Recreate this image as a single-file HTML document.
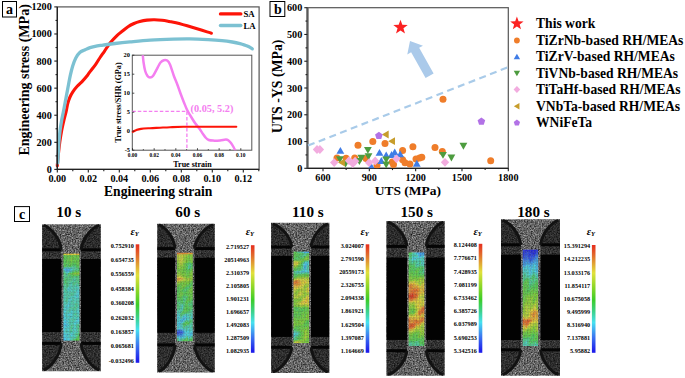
<!DOCTYPE html>
<html><head><meta charset="utf-8"><style>
html,body{margin:0;padding:0;background:#fff;}
body{width:685px;height:378px;overflow:hidden;}
svg{display:block;}
text{font-family:"Liberation Serif",serif;font-weight:bold;}
</style></head><body>
<svg width="685" height="378" viewBox="0 0 685 378">
<defs><clipPath id="cb"><rect x="307.3" y="7.7" width="201" height="160.6"/></clipPath></defs>
<rect x="2.5" y="1.5" width="14" height="15.5" fill="none" stroke="#000" stroke-width="1"/>
<text x="9.5" y="14.2" font-size="14" text-anchor="middle" fill="#000" >a</text>
<defs><clipPath id="ca"><rect x="57.3" y="6.9" width="201.8" height="162.5"/></clipPath><clipPath id="ci"><rect x="132.3" y="55.2" width="119.5" height="95"/></clipPath></defs>
<path d="M57.3,165.8 C57.35,165.17 57.4,164.13 57.6,162 C57.8,159.87 58.13,156.33 58.5,153 C58.87,149.67 59.28,145.67 59.8,142 C60.32,138.33 60.9,134.67 61.6,131 C62.3,127.33 63.25,123.22 64,120 C64.75,116.78 65.47,114.48 66.1,111.7 C66.73,108.92 67.15,105.75 67.8,103.3 C68.45,100.85 69.13,98.95 70,97 C70.87,95.05 71.8,93.38 73,91.6 C74.2,89.82 75.62,88.05 77.2,86.3 C78.78,84.55 80.95,82.73 82.5,81.1 C84.05,79.47 85.33,77.95 86.5,76.5 C87.67,75.05 87.97,74.43 89.5,72.4 C91.03,70.37 93.88,66.87 95.7,64.3 C97.52,61.73 98.95,59.17 100.4,57 C101.85,54.83 102.82,53.6 104.4,51.3 C105.98,49 107.77,45.87 109.9,43.2 C112.03,40.53 115.1,37.33 117.2,35.3 C119.3,33.27 120.7,32.43 122.5,31 C124.3,29.57 126.08,27.95 128,26.7 C129.92,25.45 132.05,24.37 134,23.5 C135.95,22.63 137.53,22.07 139.7,21.5 C141.87,20.93 144.53,20.38 147,20.1 C149.47,19.82 152,19.77 154.5,19.8 C157,19.83 159.53,20.02 162,20.3 C164.47,20.58 166.97,21.08 169.3,21.5 C171.63,21.92 172.2,21.83 176,22.8 C179.8,23.77 186.2,25.57 192.1,27.3 C198,29.03 208.18,32.22 211.4,33.2" fill="none" stroke="#fd1408" stroke-width="3.1" stroke-linecap="round" stroke-linejoin="round"/>
<path d="M57.8,163 C57.88,161.33 58.12,156.5 58.3,153 C58.48,149.5 58.62,145.67 58.9,142 C59.18,138.33 59.53,134.67 60,131 C60.47,127.33 61.13,123.22 61.7,120 C62.27,116.78 62.85,114.48 63.4,111.7 C63.95,108.92 64.47,106.12 65,103.3 C65.53,100.48 66.07,97.63 66.6,94.8 C67.13,91.97 67.58,89.53 68.2,86.3 C68.82,83.07 69.55,78.8 70.3,75.4 C71.05,72 71.78,68.82 72.7,65.9 C73.62,62.98 74.62,60.15 75.8,57.9 C76.98,55.65 78.33,53.72 79.8,52.4 C81.27,51.08 82.9,50.8 84.6,50 C86.3,49.2 87.88,48.28 90,47.6 C92.12,46.92 95.13,46.32 97.3,45.9 C99.47,45.48 100.05,45.5 103,45.1 C105.95,44.7 110.5,44.03 115,43.5 C119.5,42.97 124.13,42.47 130,41.9 C135.87,41.33 142.95,40.57 150.2,40.1 C157.45,39.63 166.87,39.3 173.5,39.1 C180.13,38.9 184.22,38.82 190,38.9 C195.78,38.98 202.87,39.32 208.2,39.6 C213.53,39.88 217.98,40.2 222,40.6 C226.02,41 229.3,41.5 232.3,42 C235.3,42.5 237.87,43.07 240,43.6 C242.13,44.13 243.6,44.67 245.1,45.2 C246.6,45.73 247.8,46.2 249,46.8 C250.2,47.4 251.75,48.47 252.3,48.8" fill="none" stroke="#7cc1d2" stroke-width="3.3" stroke-linecap="round" stroke-linejoin="round"/>
<rect x="57.3" y="6.9" width="201.8" height="162.5" fill="none" stroke="#555" stroke-width="1.2"/>
<line x1="57.3" y1="6.9" x2="57.3" y2="169.4" stroke="#222" stroke-width="1.3" />
<line x1="57.3" y1="169.4" x2="259.1" y2="169.4" stroke="#222" stroke-width="1.3" />
<line x1="54.3" y1="169.4" x2="57.3" y2="169.4" stroke="#222" stroke-width="1.1" />
<text x="51.8" y="172.9" font-size="10.2" text-anchor="end" fill="#000" >0</text>
<line x1="55.5" y1="155.86" x2="57.3" y2="155.86" stroke="#222" stroke-width="1.1" />
<line x1="54.3" y1="142.32" x2="57.3" y2="142.32" stroke="#222" stroke-width="1.1" />
<text x="51.8" y="145.82" font-size="10.2" text-anchor="end" fill="#000" >200</text>
<line x1="55.5" y1="128.78" x2="57.3" y2="128.78" stroke="#222" stroke-width="1.1" />
<line x1="54.3" y1="115.23" x2="57.3" y2="115.23" stroke="#222" stroke-width="1.1" />
<text x="51.8" y="118.73" font-size="10.2" text-anchor="end" fill="#000" >400</text>
<line x1="55.5" y1="101.69" x2="57.3" y2="101.69" stroke="#222" stroke-width="1.1" />
<line x1="54.3" y1="88.15" x2="57.3" y2="88.15" stroke="#222" stroke-width="1.1" />
<text x="51.8" y="91.65" font-size="10.2" text-anchor="end" fill="#000" >600</text>
<line x1="55.5" y1="74.61" x2="57.3" y2="74.61" stroke="#222" stroke-width="1.1" />
<line x1="54.3" y1="61.07" x2="57.3" y2="61.07" stroke="#222" stroke-width="1.1" />
<text x="51.8" y="64.57" font-size="10.2" text-anchor="end" fill="#000" >800</text>
<line x1="55.5" y1="47.53" x2="57.3" y2="47.53" stroke="#222" stroke-width="1.1" />
<line x1="54.3" y1="33.98" x2="57.3" y2="33.98" stroke="#222" stroke-width="1.1" />
<text x="51.8" y="37.48" font-size="10.2" text-anchor="end" fill="#000" >1000</text>
<line x1="55.5" y1="20.44" x2="57.3" y2="20.44" stroke="#222" stroke-width="1.1" />
<line x1="54.3" y1="6.9" x2="57.3" y2="6.9" stroke="#222" stroke-width="1.1" />
<text x="51.8" y="10.4" font-size="10.2" text-anchor="end" fill="#000" >1200</text>
<line x1="57.3" y1="169.4" x2="57.3" y2="172.4" stroke="#222" stroke-width="1.1" />
<text x="57.3" y="182.3" font-size="10.2" text-anchor="middle" fill="#000" >0.00</text>
<line x1="72.8" y1="169.4" x2="72.8" y2="171.2" stroke="#222" stroke-width="1.1" />
<line x1="88.3" y1="169.4" x2="88.3" y2="172.4" stroke="#222" stroke-width="1.1" />
<text x="88.3" y="182.3" font-size="10.2" text-anchor="middle" fill="#000" >0.02</text>
<line x1="103.8" y1="169.4" x2="103.8" y2="171.2" stroke="#222" stroke-width="1.1" />
<line x1="119.3" y1="169.4" x2="119.3" y2="172.4" stroke="#222" stroke-width="1.1" />
<text x="119.3" y="182.3" font-size="10.2" text-anchor="middle" fill="#000" >0.04</text>
<line x1="134.8" y1="169.4" x2="134.8" y2="171.2" stroke="#222" stroke-width="1.1" />
<line x1="150.3" y1="169.4" x2="150.3" y2="172.4" stroke="#222" stroke-width="1.1" />
<text x="150.3" y="182.3" font-size="10.2" text-anchor="middle" fill="#000" >0.06</text>
<line x1="165.8" y1="169.4" x2="165.8" y2="171.2" stroke="#222" stroke-width="1.1" />
<line x1="181.3" y1="169.4" x2="181.3" y2="172.4" stroke="#222" stroke-width="1.1" />
<text x="181.3" y="182.3" font-size="10.2" text-anchor="middle" fill="#000" >0.08</text>
<line x1="196.8" y1="169.4" x2="196.8" y2="171.2" stroke="#222" stroke-width="1.1" />
<line x1="212.3" y1="169.4" x2="212.3" y2="172.4" stroke="#222" stroke-width="1.1" />
<text x="212.3" y="182.3" font-size="10.2" text-anchor="middle" fill="#000" >0.10</text>
<line x1="227.8" y1="169.4" x2="227.8" y2="171.2" stroke="#222" stroke-width="1.1" />
<line x1="243.3" y1="169.4" x2="243.3" y2="172.4" stroke="#222" stroke-width="1.1" />
<text x="243.3" y="182.3" font-size="10.2" text-anchor="middle" fill="#000" >0.12</text>
<line x1="258.8" y1="169.4" x2="258.8" y2="171.2" stroke="#222" stroke-width="1.1" />
<text x="158.2" y="195.6" font-size="13.6" text-anchor="middle" fill="#000" >Engineering strain</text>
<text transform="translate(28.5,79.9) rotate(-90)" font-size="14" text-anchor="middle">Engineering stress (MPa)</text>
<line x1="220.5" y1="13.9" x2="240.8" y2="13.9" stroke="#fd1408" stroke-width="3.4" stroke-linecap="round"/>
<line x1="220.5" y1="25.5" x2="240.8" y2="25.5" stroke="#7cc1d2" stroke-width="3.4" stroke-linecap="round"/>
<text x="243.4" y="17" font-size="8.8" text-anchor="start" fill="#000" >SA</text>
<text x="243.4" y="28.6" font-size="8.8" text-anchor="start" fill="#000" >LA</text>
<rect x="132.3" y="55.2" width="119.5" height="95" fill="#fff" stroke="#555" stroke-width="1"/>
<path clip-path="url(#ci)" d="M142.6,53 C142.75,54.5 143.07,59 143.5,62 C143.93,65 144.53,68.67 145.2,71 C145.87,73.33 146.7,74.9 147.5,76 C148.3,77.1 149.08,77.6 150,77.6 C150.92,77.6 151.82,77.5 153,76 C154.18,74.5 155.85,70.85 157.1,68.6 C158.35,66.35 159.38,63.9 160.5,62.5 C161.62,61.1 162.68,60.52 163.8,60.2 C164.92,59.88 166.17,59.88 167.2,60.6 C168.23,61.32 168.9,61.98 170,64.5 C171.1,67.02 172.55,72.28 173.8,75.7 C175.05,79.12 176.3,81.82 177.5,85 C178.7,88.18 179.92,91.88 181,94.8 C182.08,97.72 183.02,100.05 184,102.5 C184.98,104.95 185.9,107.42 186.9,109.5 C187.9,111.58 188.62,112.7 190,115 C191.38,117.3 193.65,121.05 195.2,123.3 C196.75,125.55 198,126.72 199.3,128.5 C200.6,130.28 201.88,132.42 203,134 C204.12,135.58 205.03,137 206,138 C206.97,139 207.63,139.57 208.8,140 C209.97,140.43 211.13,140.53 213,140.6 C214.87,140.67 217.83,140.57 220,140.4 C222.17,140.23 224.58,139.58 226,139.6 C227.42,139.62 227.67,139.93 228.5,140.5 C229.33,141.07 230.17,141.92 231,143 C231.83,144.08 232.75,145.67 233.5,147 C234.25,148.33 235.17,150.33 235.5,151" fill="none" stroke="#f47ef0" stroke-width="2.5" stroke-linecap="round"/>
<path d="M132.8,131.8 C133.33,131.53 134.63,130.68 136,130.2 C137.37,129.72 138.67,129.23 141,128.9 C143.33,128.57 146.83,128.4 150,128.2 C153.17,128 156.67,127.87 160,127.7 C163.33,127.53 166.1,127.35 170,127.2 C173.9,127.05 176.73,126.88 183.4,126.8 C190.07,126.72 201.18,126.7 210,126.7 C218.82,126.7 231.92,126.78 236.3,126.8" fill="none" stroke="#fd1408" stroke-width="2.1" stroke-linecap="round"/>
<line x1="132.3" y1="111.4" x2="186.9" y2="111.4" stroke="#f47ef0" stroke-width="1.3" stroke-dasharray="3.5,2"/>
<line x1="186.9" y1="111.4" x2="186.9" y2="150.2" stroke="#f47ef0" stroke-width="1.3" stroke-dasharray="3.5,2"/>
<text x="190.5" y="112.3" font-size="10.3" text-anchor="start" fill="#f47ef0" >(0.05, 5.2)</text>
<line x1="132.3" y1="150.2" x2="134.3" y2="150.2" stroke="#222" stroke-width="0.8" />
<text x="130" y="152.4" font-size="6.4" text-anchor="end" fill="#000" >-5</text>
<line x1="132.3" y1="131.2" x2="134.3" y2="131.2" stroke="#222" stroke-width="0.8" />
<text x="130" y="133.4" font-size="6.4" text-anchor="end" fill="#000" >0</text>
<line x1="132.3" y1="112.2" x2="134.3" y2="112.2" stroke="#222" stroke-width="0.8" />
<text x="130" y="114.4" font-size="6.4" text-anchor="end" fill="#000" >5</text>
<line x1="132.3" y1="93.2" x2="134.3" y2="93.2" stroke="#222" stroke-width="0.8" />
<text x="130" y="95.4" font-size="6.4" text-anchor="end" fill="#000" >10</text>
<line x1="132.3" y1="74.2" x2="134.3" y2="74.2" stroke="#222" stroke-width="0.8" />
<text x="130" y="76.4" font-size="6.4" text-anchor="end" fill="#000" >15</text>
<line x1="132.3" y1="55.2" x2="134.3" y2="55.2" stroke="#222" stroke-width="0.8" />
<text x="130" y="57.4" font-size="6.4" text-anchor="end" fill="#000" >20</text>
<line x1="132.5" y1="150.2" x2="132.5" y2="148.2" stroke="#222" stroke-width="0.8" />
<text x="132.5" y="157.2" font-size="5.4" text-anchor="middle" fill="#000" >0.00</text>
<line x1="154.16" y1="150.2" x2="154.16" y2="148.2" stroke="#222" stroke-width="0.8" />
<text x="154.16" y="157.2" font-size="5.4" text-anchor="middle" fill="#000" >0.02</text>
<line x1="175.82" y1="150.2" x2="175.82" y2="148.2" stroke="#222" stroke-width="0.8" />
<text x="175.82" y="157.2" font-size="5.4" text-anchor="middle" fill="#000" >0.04</text>
<line x1="197.48" y1="150.2" x2="197.48" y2="148.2" stroke="#222" stroke-width="0.8" />
<text x="197.48" y="157.2" font-size="5.4" text-anchor="middle" fill="#000" >0.06</text>
<line x1="219.14" y1="150.2" x2="219.14" y2="148.2" stroke="#222" stroke-width="0.8" />
<text x="219.14" y="157.2" font-size="5.4" text-anchor="middle" fill="#000" >0.08</text>
<line x1="240.8" y1="150.2" x2="240.8" y2="148.2" stroke="#222" stroke-width="0.8" />
<text x="240.8" y="157.2" font-size="5.4" text-anchor="middle" fill="#000" >0.10</text>
<line x1="143.33" y1="150.2" x2="143.33" y2="149" stroke="#222" stroke-width="0.7" />
<line x1="164.99" y1="150.2" x2="164.99" y2="149" stroke="#222" stroke-width="0.7" />
<line x1="186.65" y1="150.2" x2="186.65" y2="149" stroke="#222" stroke-width="0.7" />
<line x1="208.31" y1="150.2" x2="208.31" y2="149" stroke="#222" stroke-width="0.7" />
<line x1="229.97" y1="150.2" x2="229.97" y2="149" stroke="#222" stroke-width="0.7" />
<text x="192.5" y="166.6" font-size="8" text-anchor="middle" fill="#000" >True strain</text>
<text transform="translate(121.3,102.5) rotate(-90)" font-size="8.2" text-anchor="middle">True stress/SHR (GPa)</text>
<rect x="270" y="1.5" width="14.8" height="15" fill="none" stroke="#000" stroke-width="1"/>
<text x="277.8" y="14" font-size="14" text-anchor="middle" fill="#000" >b</text>
<rect x="307.3" y="7.7" width="201" height="160.6" fill="none" stroke="#555" stroke-width="1.2"/>
<line x1="307.7" y1="7.7" x2="307.7" y2="168.3" stroke="#6a6a6a" stroke-width="2.0" />
<line x1="307" y1="7.7" x2="307" y2="168.3" stroke="#333" stroke-width="0.6" />
<line x1="307.3" y1="168.3" x2="508.3" y2="168.3" stroke="#222" stroke-width="1.3" />
<line x1="304.3" y1="168.3" x2="307.3" y2="168.3" stroke="#222" stroke-width="1.1" />
<text x="302.3" y="171.8" font-size="10.2" text-anchor="end" fill="#000" >0</text>
<line x1="305.5" y1="154.92" x2="307.3" y2="154.92" stroke="#222" stroke-width="1.1" />
<line x1="304.3" y1="141.53" x2="307.3" y2="141.53" stroke="#222" stroke-width="1.1" />
<text x="302.3" y="145.03" font-size="10.2" text-anchor="end" fill="#000" >100</text>
<line x1="305.5" y1="128.15" x2="307.3" y2="128.15" stroke="#222" stroke-width="1.1" />
<line x1="304.3" y1="114.77" x2="307.3" y2="114.77" stroke="#222" stroke-width="1.1" />
<text x="302.3" y="118.27" font-size="10.2" text-anchor="end" fill="#000" >200</text>
<line x1="305.5" y1="101.38" x2="307.3" y2="101.38" stroke="#222" stroke-width="1.1" />
<line x1="304.3" y1="88" x2="307.3" y2="88" stroke="#222" stroke-width="1.1" />
<text x="302.3" y="91.5" font-size="10.2" text-anchor="end" fill="#000" >300</text>
<line x1="305.5" y1="74.62" x2="307.3" y2="74.62" stroke="#222" stroke-width="1.1" />
<line x1="304.3" y1="61.23" x2="307.3" y2="61.23" stroke="#222" stroke-width="1.1" />
<text x="302.3" y="64.73" font-size="10.2" text-anchor="end" fill="#000" >400</text>
<line x1="305.5" y1="47.85" x2="307.3" y2="47.85" stroke="#222" stroke-width="1.1" />
<line x1="304.3" y1="34.47" x2="307.3" y2="34.47" stroke="#222" stroke-width="1.1" />
<text x="302.3" y="37.97" font-size="10.2" text-anchor="end" fill="#000" >500</text>
<line x1="305.5" y1="21.08" x2="307.3" y2="21.08" stroke="#222" stroke-width="1.1" />
<line x1="304.3" y1="7.7" x2="307.3" y2="7.7" stroke="#222" stroke-width="1.1" />
<text x="302.3" y="11.2" font-size="10.2" text-anchor="end" fill="#000" >600</text>
<line x1="323" y1="168.3" x2="323" y2="171.3" stroke="#222" stroke-width="1.1" />
<text x="323" y="181.3" font-size="10.2" text-anchor="middle" fill="#000" >600</text>
<line x1="346.16" y1="168.3" x2="346.16" y2="170.1" stroke="#222" stroke-width="1.1" />
<line x1="369.32" y1="168.3" x2="369.32" y2="171.3" stroke="#222" stroke-width="1.1" />
<text x="369.32" y="181.3" font-size="10.2" text-anchor="middle" fill="#000" >900</text>
<line x1="392.49" y1="168.3" x2="392.49" y2="170.1" stroke="#222" stroke-width="1.1" />
<line x1="415.65" y1="168.3" x2="415.65" y2="171.3" stroke="#222" stroke-width="1.1" />
<text x="415.65" y="181.3" font-size="10.2" text-anchor="middle" fill="#000" >1200</text>
<line x1="438.81" y1="168.3" x2="438.81" y2="170.1" stroke="#222" stroke-width="1.1" />
<line x1="461.98" y1="168.3" x2="461.98" y2="171.3" stroke="#222" stroke-width="1.1" />
<text x="461.98" y="181.3" font-size="10.2" text-anchor="middle" fill="#000" >1500</text>
<line x1="485.14" y1="168.3" x2="485.14" y2="170.1" stroke="#222" stroke-width="1.1" />
<line x1="508.3" y1="168.3" x2="508.3" y2="171.3" stroke="#222" stroke-width="1.1" />
<text x="508.3" y="181.3" font-size="10.2" text-anchor="middle" fill="#000" >1800</text>
<text x="407.9" y="195.3" font-size="13.5" text-anchor="middle" fill="#000" >UTS (MPa)</text>
<text transform="translate(282,86.3) rotate(-90)" font-size="13.8" text-anchor="middle">UTS -YS (MPa)</text>
<line x1="308" y1="145.6" x2="507.6" y2="67.4" stroke="#a9cbe9" stroke-width="2.2" stroke-dasharray="7,4.5"/>
<polygon points="410,40.9 422.99,45.65 419.15,47.8 433.61,73.55 425.59,78.05 411.13,52.31 407.29,54.46" fill="#abcaea"/>
<g clip-path="url(#cb)">
<circle cx="358" cy="145.2" r="3.5" fill="#ef7d2a"/>
<circle cx="372.8" cy="141.4" r="3.5" fill="#ef7d2a"/>
<circle cx="385" cy="143.5" r="3.5" fill="#ef7d2a"/>
<circle cx="412.9" cy="146.7" r="3.5" fill="#ef7d2a"/>
<circle cx="402.6" cy="150.6" r="3.5" fill="#ef7d2a"/>
<circle cx="443" cy="99.3" r="3.5" fill="#ef7d2a"/>
<circle cx="435" cy="147.5" r="3.5" fill="#ef7d2a"/>
<circle cx="442.3" cy="151.6" r="3.5" fill="#ef7d2a"/>
<circle cx="421.8" cy="157.3" r="3.5" fill="#ef7d2a"/>
<circle cx="490.7" cy="160.7" r="3.5" fill="#ef7d2a"/>
<circle cx="337" cy="157.9" r="3.5" fill="#ef7d2a"/>
<circle cx="346.1" cy="158.3" r="3.5" fill="#ef7d2a"/>
<circle cx="354.7" cy="157.9" r="3.5" fill="#ef7d2a"/>
<circle cx="366.1" cy="158.5" r="3.5" fill="#ef7d2a"/>
<circle cx="377" cy="165.2" r="3.5" fill="#ef7d2a"/>
<circle cx="392.3" cy="162.1" r="3.5" fill="#ef7d2a"/>
<circle cx="393.5" cy="164.6" r="3.5" fill="#ef7d2a"/>
<circle cx="402.6" cy="159.7" r="3.5" fill="#ef7d2a"/>
<circle cx="405" cy="162.7" r="3.5" fill="#ef7d2a"/>
<circle cx="409.9" cy="163.9" r="3.5" fill="#ef7d2a"/>
<circle cx="416" cy="159.1" r="3.5" fill="#ef7d2a"/>
<circle cx="419.6" cy="157.9" r="3.5" fill="#ef7d2a"/>
<polygon points="340.4,146.92 344.3,153.79 336.5,153.79" fill="#3f7ce6"/>
<polygon points="379.5,148.92 383.4,155.79 375.6,155.79" fill="#3f7ce6"/>
<polygon points="386.2,151.42 390.1,158.29 382.3,158.29" fill="#3f7ce6"/>
<polygon points="391.6,151.02 395.5,157.89 387.7,157.89" fill="#3f7ce6"/>
<polygon points="394.7,148.62 398.6,155.49 390.8,155.49" fill="#3f7ce6"/>
<polygon points="400.2,150.42 404.1,157.29 396.3,157.29" fill="#3f7ce6"/>
<polygon points="381.3,157.12 385.2,163.99 377.4,163.99" fill="#3f7ce6"/>
<polygon points="371.3,162.82 375.2,169.69 367.4,169.69" fill="#3f7ce6"/>
<polygon points="416.8,159.82 420.7,166.69 412.9,166.69" fill="#3f7ce6"/>
<polygon points="339.9,163.08 343.8,156.21 336,156.21" fill="#4d9c3f"/>
<polygon points="345.6,167.38 349.5,160.51 341.7,160.51" fill="#4d9c3f"/>
<polygon points="361.3,161.68 365.2,154.81 357.4,154.81" fill="#4d9c3f"/>
<polygon points="359.4,164.98 363.3,158.11 355.5,158.11" fill="#4d9c3f"/>
<polygon points="367.9,153.78 371.8,146.91 364,146.91" fill="#4d9c3f"/>
<polygon points="368.5,160.18 372.4,153.31 364.6,153.31" fill="#4d9c3f"/>
<polygon points="386.2,163.48 390.1,156.61 382.3,156.61" fill="#4d9c3f"/>
<polygon points="386.2,168.38 390.1,161.51 382.3,161.51" fill="#4d9c3f"/>
<polygon points="463.4,149.68 467.3,142.81 459.5,142.81" fill="#4d9c3f"/>
<polygon points="443,158.78 446.9,151.91 439.1,151.91" fill="#4d9c3f"/>
<polygon points="451.4,161.48 455.3,154.61 447.5,154.61" fill="#4d9c3f"/>
<polygon points="317,145.1 321.18,149.5 317,153.9 312.82,149.5" fill="#f2acdf"/>
<polygon points="319.9,145.1 324.08,149.5 319.9,153.9 315.72,149.5" fill="#f2acdf"/>
<polygon points="334.2,158.2 338.38,162.6 334.2,167 330.02,162.6" fill="#f2acdf"/>
<polygon points="349,156.3 353.18,160.7 349,165.1 344.82,160.7" fill="#f2acdf"/>
<polygon points="352.8,159.2 356.98,163.6 352.8,168 348.62,163.6" fill="#f2acdf"/>
<polygon points="355.1,156.8 359.28,161.2 355.1,165.6 350.92,161.2" fill="#f2acdf"/>
<polygon points="369.1,158.3 373.28,162.7 369.1,167.1 364.92,162.7" fill="#f2acdf"/>
<polygon points="375.2,156.5 379.38,160.9 375.2,165.3 371.02,160.9" fill="#f2acdf"/>
<polygon points="396.5,154.4 400.68,158.8 396.5,163.2 392.32,158.8" fill="#f2acdf"/>
<polygon points="445,157.9 449.18,162.3 445,166.7 440.82,162.3" fill="#f2acdf"/>
<polygon points="381.82,134.5 388.69,130.6 388.69,138.4" fill="#c79d2c"/>
<polygon points="388.12,141.2 394.99,137.3 394.99,145.1" fill="#c79d2c"/>
<polygon points="338.02,162.6 344.89,158.7 344.89,166.5" fill="#c79d2c"/>
<polygon points="378.9,131.7 382.7,134.46 381.25,138.94 376.55,138.94 375.1,134.46" fill="#b272e6"/>
<polygon points="481.4,117.4 485.2,120.16 483.75,124.64 479.05,124.64 477.6,120.16" fill="#b272e6"/>
</g>
<polygon points="400.5,19.7 402.32,24.79 407.73,24.95 403.45,28.26 404.97,33.45 400.5,30.4 396.03,33.45 397.55,28.26 393.27,24.95 398.68,24.79" fill="#fb2222"/>
<polygon points="516.9,16.6 518.6,21.25 523.56,21.44 519.66,24.5 521.01,29.26 516.9,26.5 512.79,29.26 514.14,24.5 510.24,21.44 515.2,21.25" fill="#fb2222"/>
<circle cx="516.9" cy="40.5" r="2.9" fill="#ef7d2a"/>
<polygon points="516.9,53.7 520.1,59.33 513.7,59.33" fill="#3f7ce6"/>
<polygon points="516.9,76.3 520.1,70.67 513.7,70.67" fill="#4d9c3f"/>
<polygon points="516.9,86.1 520.23,89.6 516.9,93.1 513.57,89.6" fill="#f2acdf"/>
<polygon points="513.8,106.3 519.43,103.1 519.43,109.5" fill="#c79d2c"/>
<polygon points="516.9,119.6 520.04,121.88 518.84,125.57 514.96,125.57 513.76,121.88" fill="#b272e6"/>
<text x="536" y="28" font-size="13.6" text-anchor="start" fill="#000" >This work</text>
<text x="536" y="44.9" font-size="13.6" text-anchor="start" fill="#000" >TiZrNb-based RH/MEAs</text>
<text x="536" y="61.2" font-size="13.6" text-anchor="start" fill="#000" >TiZrV-based RH/MEAs</text>
<text x="536" y="77.6" font-size="13.6" text-anchor="start" fill="#000" >TiVNb-based RH/MEAs</text>
<text x="536" y="94" font-size="13.6" text-anchor="start" fill="#000" >TiTaHf-based RH/MEAs</text>
<text x="536" y="110.7" font-size="13.6" text-anchor="start" fill="#000" >VNbTa-based RH/MEAs</text>
<text x="536" y="127.3" font-size="13.6" text-anchor="start" fill="#000" >WNiFeTa</text>
<defs>
<filter id="spk" x="0" y="0" width="685" height="378" filterUnits="userSpaceOnUse" color-interpolation-filters="sRGB"><feTurbulence type="fractalNoise" baseFrequency="0.73" numOctaves="2" seed="4" result="n"/><feColorMatrix in="n" type="matrix" values="0.85 0 0 0 -0.033  0.85 0 0 0 -0.033  0.85 0 0 0 -0.033  0 0 0 0 1" result="g"/><feGaussianBlur in="g" stdDeviation="0.4"/></filter>
</defs>
<clipPath id="cl0"><rect x="42.1" y="224.2" width="58.7" height="147"/></clipPath>
<g clip-path="url(#cl0)">
<rect x="42.1" y="224.2" width="58.7" height="147" filter="url(#spk)"/>
<path d="M42.1,224.2 L43.63,225.22 C49.77,227.27 59.81,237 61.3,249.8 L42.1,249.8 Z" fill="#000" fill-opacity="0.56"/>
<path d="M100.8,224.2 L99.24,225.22 C92.9,227.27 82.54,237 81,249.8 L100.8,249.8 Z" fill="#000" fill-opacity="0.56"/>
<path d="M61.3,343.4 C59.81,357.3 49.77,367.86 43.63,370.09 L42.1,371.2 L42.1,343.4 Z" fill="#000" fill-opacity="0.54"/>
<path d="M81,343.4 C82.54,357.3 92.9,367.86 99.24,370.09 L100.8,371.2 L100.8,343.4 Z" fill="#000" fill-opacity="0.54"/>
<rect x="42.1" y="249.8" width="19.2" height="93.6" fill="#000" fill-opacity="0.5"/>
<rect x="81" y="249.8" width="19.8" height="93.6" fill="#000" fill-opacity="0.5"/>
<rect x="42.1" y="259" width="19.2" height="73" fill="#020202"/>
<rect x="81" y="259" width="19.8" height="73" fill="#020202"/>
<rect x="42.1" y="248.3" width="19.2" height="3" fill="#050505"/>
<rect x="81" y="248.3" width="19.8" height="3" fill="#050505"/>
<rect x="42.1" y="341.9" width="19.2" height="3" fill="#050505"/>
<rect x="81" y="341.9" width="19.8" height="3" fill="#050505"/>
<path d="M43.63,225.22 C49.77,227.27 59.81,237 61.3,249.8" fill="none" stroke="#121212" stroke-width="2.9"/>
<path d="M99.24,225.22 C92.9,227.27 82.54,237 81,249.8" fill="none" stroke="#121212" stroke-width="2.9"/>
<path d="M61.3,343.4 C59.81,357.3 49.77,367.86 43.63,370.09" fill="none" stroke="#121212" stroke-width="2.9"/>
<path d="M81,343.4 C82.54,357.3 92.9,367.86 99.24,370.09" fill="none" stroke="#121212" stroke-width="2.9"/>
<g opacity="0.93"><rect x="63.5" y="253.7" width="1.49" height="1.55" fill="#dadb3b"/><rect x="64.94" y="253.7" width="1.49" height="1.55" fill="#e4db3b"/><rect x="66.37" y="253.7" width="1.49" height="1.55" fill="#e5c939"/><rect x="67.81" y="253.7" width="1.49" height="1.55" fill="#e4da3b"/><rect x="69.25" y="253.7" width="1.49" height="1.55" fill="#e4d73b"/><rect x="70.68" y="253.7" width="1.49" height="1.55" fill="#e5c638"/><rect x="72.12" y="253.7" width="1.49" height="1.55" fill="#dadb3b"/><rect x="73.55" y="253.7" width="1.49" height="1.55" fill="#e2db3b"/><rect x="74.99" y="253.7" width="1.49" height="1.55" fill="#e4d83b"/><rect x="76.43" y="253.7" width="1.49" height="1.55" fill="#e6b736"/><rect x="77.86" y="253.7" width="1.49" height="1.55" fill="#e5c839"/><rect x="63.5" y="255.2" width="1.49" height="1.55" fill="#60d14e"/><rect x="64.94" y="255.2" width="1.49" height="1.55" fill="#56d055"/><rect x="66.37" y="255.2" width="1.49" height="1.55" fill="#6bd246"/><rect x="67.81" y="255.2" width="1.49" height="1.55" fill="#6cd245"/><rect x="69.25" y="255.2" width="1.49" height="1.55" fill="#5dd150"/><rect x="70.68" y="255.2" width="1.49" height="1.55" fill="#70d243"/><rect x="72.12" y="255.2" width="1.49" height="1.55" fill="#70d243"/><rect x="73.55" y="255.2" width="1.49" height="1.55" fill="#6ad247"/><rect x="74.99" y="255.2" width="1.49" height="1.55" fill="#67d149"/><rect x="76.43" y="255.2" width="1.49" height="1.55" fill="#6cd246"/><rect x="77.86" y="255.2" width="1.49" height="1.55" fill="#72d242"/><rect x="63.5" y="256.69" width="1.49" height="1.55" fill="#62d14c"/><rect x="64.94" y="256.69" width="1.49" height="1.55" fill="#51d058"/><rect x="66.37" y="256.69" width="1.49" height="1.55" fill="#61d14d"/><rect x="67.81" y="256.69" width="1.49" height="1.55" fill="#67d149"/><rect x="69.25" y="256.69" width="1.49" height="1.55" fill="#5bd052"/><rect x="70.68" y="256.69" width="1.49" height="1.55" fill="#6cd246"/><rect x="72.12" y="256.69" width="1.49" height="1.55" fill="#6dd245"/><rect x="73.55" y="256.69" width="1.49" height="1.55" fill="#6fd244"/><rect x="74.99" y="256.69" width="1.49" height="1.55" fill="#65d14b"/><rect x="76.43" y="256.69" width="1.49" height="1.55" fill="#6cd245"/><rect x="77.86" y="256.69" width="1.49" height="1.55" fill="#74d240"/><rect x="63.5" y="258.19" width="1.49" height="1.55" fill="#5dd150"/><rect x="64.94" y="258.19" width="1.49" height="1.55" fill="#55d056"/><rect x="66.37" y="258.19" width="1.49" height="1.55" fill="#5bd051"/><rect x="67.81" y="258.19" width="1.49" height="1.55" fill="#6fd244"/><rect x="69.25" y="258.19" width="1.49" height="1.55" fill="#6cd246"/><rect x="70.68" y="258.19" width="1.49" height="1.55" fill="#7bd33b"/><rect x="72.12" y="258.19" width="1.49" height="1.55" fill="#75d240"/><rect x="73.55" y="258.19" width="1.49" height="1.55" fill="#68d148"/><rect x="74.99" y="258.19" width="1.49" height="1.55" fill="#67d149"/><rect x="76.43" y="258.19" width="1.49" height="1.55" fill="#5dd150"/><rect x="77.86" y="258.19" width="1.49" height="1.55" fill="#61d14d"/><rect x="63.5" y="259.69" width="1.49" height="1.55" fill="#5dd150"/><rect x="64.94" y="259.69" width="1.49" height="1.55" fill="#53d057"/><rect x="66.37" y="259.69" width="1.49" height="1.55" fill="#67d149"/><rect x="67.81" y="259.69" width="1.49" height="1.55" fill="#60d14e"/><rect x="69.25" y="259.69" width="1.49" height="1.55" fill="#6bd246"/><rect x="70.68" y="259.69" width="1.49" height="1.55" fill="#80d338"/><rect x="72.12" y="259.69" width="1.49" height="1.55" fill="#66d14a"/><rect x="73.55" y="259.69" width="1.49" height="1.55" fill="#60d14e"/><rect x="74.99" y="259.69" width="1.49" height="1.55" fill="#6dd245"/><rect x="76.43" y="259.69" width="1.49" height="1.55" fill="#5fd14e"/><rect x="77.86" y="259.69" width="1.49" height="1.55" fill="#6fd244"/><rect x="63.5" y="261.18" width="1.49" height="1.55" fill="#5ad052"/><rect x="64.94" y="261.18" width="1.49" height="1.55" fill="#50d05e"/><rect x="66.37" y="261.18" width="1.49" height="1.55" fill="#67d149"/><rect x="67.81" y="261.18" width="1.49" height="1.55" fill="#5fd14f"/><rect x="69.25" y="261.18" width="1.49" height="1.55" fill="#5dd150"/><rect x="70.68" y="261.18" width="1.49" height="1.55" fill="#70d243"/><rect x="72.12" y="261.18" width="1.49" height="1.55" fill="#62d14c"/><rect x="73.55" y="261.18" width="1.49" height="1.55" fill="#65d14a"/><rect x="74.99" y="261.18" width="1.49" height="1.55" fill="#65d14a"/><rect x="76.43" y="261.18" width="1.49" height="1.55" fill="#62d14c"/><rect x="77.86" y="261.18" width="1.49" height="1.55" fill="#6cd246"/><rect x="63.5" y="262.68" width="1.49" height="1.55" fill="#50d059"/><rect x="64.94" y="262.68" width="1.49" height="1.55" fill="#52d058"/><rect x="66.37" y="262.68" width="1.49" height="1.55" fill="#5fd14e"/><rect x="67.81" y="262.68" width="1.49" height="1.55" fill="#50d05b"/><rect x="69.25" y="262.68" width="1.49" height="1.55" fill="#62d14c"/><rect x="70.68" y="262.68" width="1.49" height="1.55" fill="#6ad247"/><rect x="72.12" y="262.68" width="1.49" height="1.55" fill="#52d058"/><rect x="73.55" y="262.68" width="1.49" height="1.55" fill="#59d053"/><rect x="74.99" y="262.68" width="1.49" height="1.55" fill="#54d056"/><rect x="76.43" y="262.68" width="1.49" height="1.55" fill="#66d14a"/><rect x="77.86" y="262.68" width="1.49" height="1.55" fill="#64d14b"/><rect x="63.5" y="264.18" width="1.49" height="1.55" fill="#50d059"/><rect x="64.94" y="264.18" width="1.49" height="1.55" fill="#5ed14f"/><rect x="66.37" y="264.18" width="1.49" height="1.55" fill="#50d06e"/><rect x="67.81" y="264.18" width="1.49" height="1.55" fill="#57d054"/><rect x="69.25" y="264.18" width="1.49" height="1.55" fill="#66d14a"/><rect x="70.68" y="264.18" width="1.49" height="1.55" fill="#59d053"/><rect x="72.12" y="264.18" width="1.49" height="1.55" fill="#50d059"/><rect x="73.55" y="264.18" width="1.49" height="1.55" fill="#50d06b"/><rect x="74.99" y="264.18" width="1.49" height="1.55" fill="#50d060"/><rect x="76.43" y="264.18" width="1.49" height="1.55" fill="#63d14c"/><rect x="77.86" y="264.18" width="1.49" height="1.55" fill="#63d14c"/><rect x="63.5" y="265.67" width="1.49" height="1.55" fill="#50d069"/><rect x="64.94" y="265.67" width="1.49" height="1.55" fill="#60d14e"/><rect x="66.37" y="265.67" width="1.49" height="1.55" fill="#50d07e"/><rect x="67.81" y="265.67" width="1.49" height="1.55" fill="#50d06d"/><rect x="69.25" y="265.67" width="1.49" height="1.55" fill="#56d055"/><rect x="70.68" y="265.67" width="1.49" height="1.55" fill="#50d06e"/><rect x="72.12" y="265.67" width="1.49" height="1.55" fill="#50d18a"/><rect x="73.55" y="265.67" width="1.49" height="1.55" fill="#50d185"/><rect x="74.99" y="265.67" width="1.49" height="1.55" fill="#50d07c"/><rect x="76.43" y="265.67" width="1.49" height="1.55" fill="#52d058"/><rect x="77.86" y="265.67" width="1.49" height="1.55" fill="#53d057"/><rect x="63.5" y="267.17" width="1.49" height="1.55" fill="#50d19c"/><rect x="64.94" y="267.17" width="1.49" height="1.55" fill="#4ed3bd"/><rect x="66.37" y="267.17" width="1.49" height="1.55" fill="#4ed3b9"/><rect x="67.81" y="267.17" width="1.49" height="1.55" fill="#50d1a6"/><rect x="69.25" y="267.17" width="1.49" height="1.55" fill="#4ed3b9"/><rect x="70.68" y="267.17" width="1.49" height="1.55" fill="#4fd2ab"/><rect x="72.12" y="267.17" width="1.49" height="1.55" fill="#4fd2ac"/><rect x="73.55" y="267.17" width="1.49" height="1.55" fill="#50d1a7"/><rect x="74.99" y="267.17" width="1.49" height="1.55" fill="#50d18f"/><rect x="76.43" y="267.17" width="1.49" height="1.55" fill="#50d076"/><rect x="77.86" y="267.17" width="1.49" height="1.55" fill="#50d061"/><rect x="63.5" y="268.67" width="1.49" height="1.55" fill="#49cdeb"/><rect x="64.94" y="268.67" width="1.49" height="1.55" fill="#42abeb"/><rect x="66.37" y="268.67" width="1.49" height="1.55" fill="#43b0eb"/><rect x="67.81" y="268.67" width="1.49" height="1.55" fill="#45bceb"/><rect x="69.25" y="268.67" width="1.49" height="1.55" fill="#43aeeb"/><rect x="70.68" y="268.67" width="1.49" height="1.55" fill="#4cd5d3"/><rect x="72.12" y="268.67" width="1.49" height="1.55" fill="#4ed3ba"/><rect x="73.55" y="268.67" width="1.49" height="1.55" fill="#50d19e"/><rect x="74.99" y="268.67" width="1.49" height="1.55" fill="#50d189"/><rect x="76.43" y="268.67" width="1.49" height="1.55" fill="#50d199"/><rect x="77.86" y="268.67" width="1.49" height="1.55" fill="#50d07c"/><rect x="63.5" y="270.16" width="1.49" height="1.55" fill="#4ed3ba"/><rect x="64.94" y="270.16" width="1.49" height="1.55" fill="#47c6eb"/><rect x="66.37" y="270.16" width="1.49" height="1.55" fill="#44b2eb"/><rect x="67.81" y="270.16" width="1.49" height="1.55" fill="#41a7eb"/><rect x="69.25" y="270.16" width="1.49" height="1.55" fill="#48c8eb"/><rect x="70.68" y="270.16" width="1.49" height="1.55" fill="#4cd5d3"/><rect x="72.12" y="270.16" width="1.49" height="1.55" fill="#50d1a9"/><rect x="73.55" y="270.16" width="1.49" height="1.55" fill="#50d18d"/><rect x="74.99" y="270.16" width="1.49" height="1.55" fill="#50d068"/><rect x="76.43" y="270.16" width="1.49" height="1.55" fill="#50d190"/><rect x="77.86" y="270.16" width="1.49" height="1.55" fill="#50d062"/><rect x="63.5" y="271.66" width="1.49" height="1.55" fill="#50d192"/><rect x="64.94" y="271.66" width="1.49" height="1.55" fill="#4ed3b7"/><rect x="66.37" y="271.66" width="1.49" height="1.55" fill="#4bd6e2"/><rect x="67.81" y="271.66" width="1.49" height="1.55" fill="#4cd5d4"/><rect x="69.25" y="271.66" width="1.49" height="1.55" fill="#50d194"/><rect x="70.68" y="271.66" width="1.49" height="1.55" fill="#50d18e"/><rect x="72.12" y="271.66" width="1.49" height="1.55" fill="#50d059"/><rect x="73.55" y="271.66" width="1.49" height="1.55" fill="#65d14a"/><rect x="74.99" y="271.66" width="1.49" height="1.55" fill="#70d242"/><rect x="76.43" y="271.66" width="1.49" height="1.55" fill="#68d148"/><rect x="77.86" y="271.66" width="1.49" height="1.55" fill="#77d33e"/><rect x="63.5" y="273.16" width="1.49" height="1.55" fill="#50d06b"/><rect x="64.94" y="273.16" width="1.49" height="1.55" fill="#50d18f"/><rect x="66.37" y="273.16" width="1.49" height="1.55" fill="#4ed3c3"/><rect x="67.81" y="273.16" width="1.49" height="1.55" fill="#50d076"/><rect x="69.25" y="273.16" width="1.49" height="1.55" fill="#62d14c"/><rect x="70.68" y="273.16" width="1.49" height="1.55" fill="#62d14d"/><rect x="72.12" y="273.16" width="1.49" height="1.55" fill="#75d240"/><rect x="73.55" y="273.16" width="1.49" height="1.55" fill="#8dd437"/><rect x="74.99" y="273.16" width="1.49" height="1.55" fill="#97d538"/><rect x="76.43" y="273.16" width="1.49" height="1.55" fill="#90d537"/><rect x="77.86" y="273.16" width="1.49" height="1.55" fill="#9fd638"/><rect x="63.5" y="274.65" width="1.49" height="1.55" fill="#50d192"/><rect x="64.94" y="274.65" width="1.49" height="1.55" fill="#50d18f"/><rect x="66.37" y="274.65" width="1.49" height="1.55" fill="#50d1a5"/><rect x="67.81" y="274.65" width="1.49" height="1.55" fill="#50d06b"/><rect x="69.25" y="274.65" width="1.49" height="1.55" fill="#50d184"/><rect x="70.68" y="274.65" width="1.49" height="1.55" fill="#50d065"/><rect x="72.12" y="274.65" width="1.49" height="1.55" fill="#54d056"/><rect x="73.55" y="274.65" width="1.49" height="1.55" fill="#5fd14f"/><rect x="74.99" y="274.65" width="1.49" height="1.55" fill="#58d054"/><rect x="76.43" y="274.65" width="1.49" height="1.55" fill="#64d14b"/><rect x="77.86" y="274.65" width="1.49" height="1.55" fill="#57d055"/><rect x="63.5" y="276.15" width="1.49" height="1.55" fill="#50d196"/><rect x="64.94" y="276.15" width="1.49" height="1.55" fill="#50d19d"/><rect x="66.37" y="276.15" width="1.49" height="1.55" fill="#50d188"/><rect x="67.81" y="276.15" width="1.49" height="1.55" fill="#50d081"/><rect x="69.25" y="276.15" width="1.49" height="1.55" fill="#50d19a"/><rect x="70.68" y="276.15" width="1.49" height="1.55" fill="#50d06f"/><rect x="72.12" y="276.15" width="1.49" height="1.55" fill="#50d06b"/><rect x="73.55" y="276.15" width="1.49" height="1.55" fill="#50d18a"/><rect x="74.99" y="276.15" width="1.49" height="1.55" fill="#50d186"/><rect x="76.43" y="276.15" width="1.49" height="1.55" fill="#50d07a"/><rect x="77.86" y="276.15" width="1.49" height="1.55" fill="#50d189"/><rect x="63.5" y="277.64" width="1.49" height="1.55" fill="#50d199"/><rect x="64.94" y="277.64" width="1.49" height="1.55" fill="#50d07a"/><rect x="66.37" y="277.64" width="1.49" height="1.55" fill="#50d079"/><rect x="67.81" y="277.64" width="1.49" height="1.55" fill="#50d185"/><rect x="69.25" y="277.64" width="1.49" height="1.55" fill="#50d193"/><rect x="70.68" y="277.64" width="1.49" height="1.55" fill="#50d182"/><rect x="72.12" y="277.64" width="1.49" height="1.55" fill="#50d18f"/><rect x="73.55" y="277.64" width="1.49" height="1.55" fill="#50d196"/><rect x="74.99" y="277.64" width="1.49" height="1.55" fill="#50d1a8"/><rect x="76.43" y="277.64" width="1.49" height="1.55" fill="#50d07c"/><rect x="77.86" y="277.64" width="1.49" height="1.55" fill="#50d07e"/><rect x="63.5" y="279.14" width="1.49" height="1.55" fill="#50d080"/><rect x="64.94" y="279.14" width="1.49" height="1.55" fill="#50d05e"/><rect x="66.37" y="279.14" width="1.49" height="1.55" fill="#50d18a"/><rect x="67.81" y="279.14" width="1.49" height="1.55" fill="#50d07e"/><rect x="69.25" y="279.14" width="1.49" height="1.55" fill="#50d18b"/><rect x="70.68" y="279.14" width="1.49" height="1.55" fill="#50d188"/><rect x="72.12" y="279.14" width="1.49" height="1.55" fill="#50d19e"/><rect x="73.55" y="279.14" width="1.49" height="1.55" fill="#4ed3b9"/><rect x="74.99" y="279.14" width="1.49" height="1.55" fill="#50d198"/><rect x="76.43" y="279.14" width="1.49" height="1.55" fill="#50d190"/><rect x="77.86" y="279.14" width="1.49" height="1.55" fill="#50d184"/><rect x="63.5" y="280.64" width="1.49" height="1.55" fill="#50d18f"/><rect x="64.94" y="280.64" width="1.49" height="1.55" fill="#50d06d"/><rect x="66.37" y="280.64" width="1.49" height="1.55" fill="#50d186"/><rect x="67.81" y="280.64" width="1.49" height="1.55" fill="#50d193"/><rect x="69.25" y="280.64" width="1.49" height="1.55" fill="#50d197"/><rect x="70.68" y="280.64" width="1.49" height="1.55" fill="#50d190"/><rect x="72.12" y="280.64" width="1.49" height="1.55" fill="#4fd2ae"/><rect x="73.55" y="280.64" width="1.49" height="1.55" fill="#50d1a4"/><rect x="74.99" y="280.64" width="1.49" height="1.55" fill="#50d191"/><rect x="76.43" y="280.64" width="1.49" height="1.55" fill="#50d198"/><rect x="77.86" y="280.64" width="1.49" height="1.55" fill="#50d18f"/><rect x="63.5" y="282.13" width="1.49" height="1.55" fill="#50d19c"/><rect x="64.94" y="282.13" width="1.49" height="1.55" fill="#50d05a"/><rect x="66.37" y="282.13" width="1.49" height="1.55" fill="#50d18d"/><rect x="67.81" y="282.13" width="1.49" height="1.55" fill="#50d19d"/><rect x="69.25" y="282.13" width="1.49" height="1.55" fill="#50d19c"/><rect x="70.68" y="282.13" width="1.49" height="1.55" fill="#4ed3bd"/><rect x="72.12" y="282.13" width="1.49" height="1.55" fill="#50d19c"/><rect x="73.55" y="282.13" width="1.49" height="1.55" fill="#50d18c"/><rect x="74.99" y="282.13" width="1.49" height="1.55" fill="#50d189"/><rect x="76.43" y="282.13" width="1.49" height="1.55" fill="#4fd2ab"/><rect x="77.86" y="282.13" width="1.49" height="1.55" fill="#50d074"/><rect x="63.5" y="283.63" width="1.49" height="1.55" fill="#50d07c"/><rect x="64.94" y="283.63" width="1.49" height="1.55" fill="#50d191"/><rect x="66.37" y="283.63" width="1.49" height="1.55" fill="#50d07c"/><rect x="67.81" y="283.63" width="1.49" height="1.55" fill="#50d194"/><rect x="69.25" y="283.63" width="1.49" height="1.55" fill="#4ed3bb"/><rect x="70.68" y="283.63" width="1.49" height="1.55" fill="#4dd4c4"/><rect x="72.12" y="283.63" width="1.49" height="1.55" fill="#50d199"/><rect x="73.55" y="283.63" width="1.49" height="1.55" fill="#50d183"/><rect x="74.99" y="283.63" width="1.49" height="1.55" fill="#50d1a2"/><rect x="76.43" y="283.63" width="1.49" height="1.55" fill="#4fd2b0"/><rect x="77.86" y="283.63" width="1.49" height="1.55" fill="#50d197"/><rect x="63.5" y="285.13" width="1.49" height="1.55" fill="#50d1a0"/><rect x="64.94" y="285.13" width="1.49" height="1.55" fill="#50d1a4"/><rect x="66.37" y="285.13" width="1.49" height="1.55" fill="#50d182"/><rect x="67.81" y="285.13" width="1.49" height="1.55" fill="#50d19e"/><rect x="69.25" y="285.13" width="1.49" height="1.55" fill="#4ed3bc"/><rect x="70.68" y="285.13" width="1.49" height="1.55" fill="#4dd4c8"/><rect x="72.12" y="285.13" width="1.49" height="1.55" fill="#50d1a9"/><rect x="73.55" y="285.13" width="1.49" height="1.55" fill="#4fd2ac"/><rect x="74.99" y="285.13" width="1.49" height="1.55" fill="#4fd2b1"/><rect x="76.43" y="285.13" width="1.49" height="1.55" fill="#4fd2b3"/><rect x="77.86" y="285.13" width="1.49" height="1.55" fill="#50d1a5"/><rect x="63.5" y="286.62" width="1.49" height="1.55" fill="#50d1a8"/><rect x="64.94" y="286.62" width="1.49" height="1.55" fill="#50d1a7"/><rect x="66.37" y="286.62" width="1.49" height="1.55" fill="#50d191"/><rect x="67.81" y="286.62" width="1.49" height="1.55" fill="#4dd4c7"/><rect x="69.25" y="286.62" width="1.49" height="1.55" fill="#4dd4c4"/><rect x="70.68" y="286.62" width="1.49" height="1.55" fill="#4ed3be"/><rect x="72.12" y="286.62" width="1.49" height="1.55" fill="#4fd2b4"/><rect x="73.55" y="286.62" width="1.49" height="1.55" fill="#4fd2aa"/><rect x="74.99" y="286.62" width="1.49" height="1.55" fill="#4dd4c7"/><rect x="76.43" y="286.62" width="1.49" height="1.55" fill="#4dd4cd"/><rect x="77.86" y="286.62" width="1.49" height="1.55" fill="#4dd4c9"/><rect x="63.5" y="288.12" width="1.49" height="1.55" fill="#4fd2b3"/><rect x="64.94" y="288.12" width="1.49" height="1.55" fill="#50d184"/><rect x="66.37" y="288.12" width="1.49" height="1.55" fill="#4ed3c2"/><rect x="67.81" y="288.12" width="1.49" height="1.55" fill="#4cd5d9"/><rect x="69.25" y="288.12" width="1.49" height="1.55" fill="#4bd6e0"/><rect x="70.68" y="288.12" width="1.49" height="1.55" fill="#4fd2b3"/><rect x="72.12" y="288.12" width="1.49" height="1.55" fill="#4fd2b3"/><rect x="73.55" y="288.12" width="1.49" height="1.55" fill="#4fd2b5"/><rect x="74.99" y="288.12" width="1.49" height="1.55" fill="#4fd2aa"/><rect x="76.43" y="288.12" width="1.49" height="1.55" fill="#4ed3ba"/><rect x="77.86" y="288.12" width="1.49" height="1.55" fill="#4dd4c9"/><rect x="63.5" y="289.62" width="1.49" height="1.55" fill="#4fd2b5"/><rect x="64.94" y="289.62" width="1.49" height="1.55" fill="#50d19d"/><rect x="66.37" y="289.62" width="1.49" height="1.55" fill="#4fd2b5"/><rect x="67.81" y="289.62" width="1.49" height="1.55" fill="#4dd4ce"/><rect x="69.25" y="289.62" width="1.49" height="1.55" fill="#4cd5d7"/><rect x="70.68" y="289.62" width="1.49" height="1.55" fill="#4ed3c2"/><rect x="72.12" y="289.62" width="1.49" height="1.55" fill="#4fd2af"/><rect x="73.55" y="289.62" width="1.49" height="1.55" fill="#4dd4c6"/><rect x="74.99" y="289.62" width="1.49" height="1.55" fill="#4ed3ba"/><rect x="76.43" y="289.62" width="1.49" height="1.55" fill="#4cd5d2"/><rect x="77.86" y="289.62" width="1.49" height="1.55" fill="#4dd4d0"/><rect x="63.5" y="291.11" width="1.49" height="1.55" fill="#4ed3c2"/><rect x="64.94" y="291.11" width="1.49" height="1.55" fill="#50d199"/><rect x="66.37" y="291.11" width="1.49" height="1.55" fill="#4fd2ad"/><rect x="67.81" y="291.11" width="1.49" height="1.55" fill="#4ed3bf"/><rect x="69.25" y="291.11" width="1.49" height="1.55" fill="#4fd2b5"/><rect x="70.68" y="291.11" width="1.49" height="1.55" fill="#4fd2b3"/><rect x="72.12" y="291.11" width="1.49" height="1.55" fill="#4dd4c5"/><rect x="73.55" y="291.11" width="1.49" height="1.55" fill="#4fd2ab"/><rect x="74.99" y="291.11" width="1.49" height="1.55" fill="#4fd2ac"/><rect x="76.43" y="291.11" width="1.49" height="1.55" fill="#4bd6de"/><rect x="77.86" y="291.11" width="1.49" height="1.55" fill="#4cd5db"/><rect x="63.5" y="292.61" width="1.49" height="1.55" fill="#4fd2b5"/><rect x="64.94" y="292.61" width="1.49" height="1.55" fill="#4fd2b0"/><rect x="66.37" y="292.61" width="1.49" height="1.55" fill="#4fd2b1"/><rect x="67.81" y="292.61" width="1.49" height="1.55" fill="#4fd2b5"/><rect x="69.25" y="292.61" width="1.49" height="1.55" fill="#4fd2b3"/><rect x="70.68" y="292.61" width="1.49" height="1.55" fill="#50d19f"/><rect x="72.12" y="292.61" width="1.49" height="1.55" fill="#50d19d"/><rect x="73.55" y="292.61" width="1.49" height="1.55" fill="#4fd2b6"/><rect x="74.99" y="292.61" width="1.49" height="1.55" fill="#4ed3ba"/><rect x="76.43" y="292.61" width="1.49" height="1.55" fill="#4cd5da"/><rect x="77.86" y="292.61" width="1.49" height="1.55" fill="#4cd5d5"/><rect x="63.5" y="294.11" width="1.49" height="1.55" fill="#4fd2b0"/><rect x="64.94" y="294.11" width="1.49" height="1.55" fill="#4ed3be"/><rect x="66.37" y="294.11" width="1.49" height="1.55" fill="#50d19e"/><rect x="67.81" y="294.11" width="1.49" height="1.55" fill="#4ed3b9"/><rect x="69.25" y="294.11" width="1.49" height="1.55" fill="#4fd2b1"/><rect x="70.68" y="294.11" width="1.49" height="1.55" fill="#50d199"/><rect x="72.12" y="294.11" width="1.49" height="1.55" fill="#50d19e"/><rect x="73.55" y="294.11" width="1.49" height="1.55" fill="#4fd2b4"/><rect x="74.99" y="294.11" width="1.49" height="1.55" fill="#4ed3c3"/><rect x="76.43" y="294.11" width="1.49" height="1.55" fill="#4bd6df"/><rect x="77.86" y="294.11" width="1.49" height="1.55" fill="#4cd5d1"/><rect x="63.5" y="295.6" width="1.49" height="1.55" fill="#4ed3b9"/><rect x="64.94" y="295.6" width="1.49" height="1.55" fill="#4fd2b4"/><rect x="66.37" y="295.6" width="1.49" height="1.55" fill="#4ed3ba"/><rect x="67.81" y="295.6" width="1.49" height="1.55" fill="#50d1a5"/><rect x="69.25" y="295.6" width="1.49" height="1.55" fill="#4fd2ad"/><rect x="70.68" y="295.6" width="1.49" height="1.55" fill="#4ed3b9"/><rect x="72.12" y="295.6" width="1.49" height="1.55" fill="#4ed3c2"/><rect x="73.55" y="295.6" width="1.49" height="1.55" fill="#4cd5d2"/><rect x="74.99" y="295.6" width="1.49" height="1.55" fill="#4dd4cc"/><rect x="76.43" y="295.6" width="1.49" height="1.55" fill="#48caeb"/><rect x="77.86" y="295.6" width="1.49" height="1.55" fill="#4dd4ca"/><rect x="63.5" y="297.1" width="1.49" height="1.55" fill="#4dd4ce"/><rect x="64.94" y="297.1" width="1.49" height="1.55" fill="#4fd2ac"/><rect x="66.37" y="297.1" width="1.49" height="1.55" fill="#50d19b"/><rect x="67.81" y="297.1" width="1.49" height="1.55" fill="#4fd2b5"/><rect x="69.25" y="297.1" width="1.49" height="1.55" fill="#4dd4c4"/><rect x="70.68" y="297.1" width="1.49" height="1.55" fill="#4dd4cd"/><rect x="72.12" y="297.1" width="1.49" height="1.55" fill="#4ed3bb"/><rect x="73.55" y="297.1" width="1.49" height="1.55" fill="#4ed3be"/><rect x="74.99" y="297.1" width="1.49" height="1.55" fill="#4cd5d5"/><rect x="76.43" y="297.1" width="1.49" height="1.55" fill="#4cd5d8"/><rect x="77.86" y="297.1" width="1.49" height="1.55" fill="#4dd4c6"/><rect x="63.5" y="298.6" width="1.49" height="1.55" fill="#50d1a9"/><rect x="64.94" y="298.6" width="1.49" height="1.55" fill="#4fd2b4"/><rect x="66.37" y="298.6" width="1.49" height="1.55" fill="#50d1a2"/><rect x="67.81" y="298.6" width="1.49" height="1.55" fill="#4ed3ba"/><rect x="69.25" y="298.6" width="1.49" height="1.55" fill="#4bd6de"/><rect x="70.68" y="298.6" width="1.49" height="1.55" fill="#4cd5d2"/><rect x="72.12" y="298.6" width="1.49" height="1.55" fill="#4fd2af"/><rect x="73.55" y="298.6" width="1.49" height="1.55" fill="#4ed3bb"/><rect x="74.99" y="298.6" width="1.49" height="1.55" fill="#4ed3ba"/><rect x="76.43" y="298.6" width="1.49" height="1.55" fill="#4ed3c1"/><rect x="77.86" y="298.6" width="1.49" height="1.55" fill="#4ed3bd"/><rect x="63.5" y="300.09" width="1.49" height="1.55" fill="#4ed3ba"/><rect x="64.94" y="300.09" width="1.49" height="1.55" fill="#50d19b"/><rect x="66.37" y="300.09" width="1.49" height="1.55" fill="#50d193"/><rect x="67.81" y="300.09" width="1.49" height="1.55" fill="#4cd5d1"/><rect x="69.25" y="300.09" width="1.49" height="1.55" fill="#4cd5d1"/><rect x="70.68" y="300.09" width="1.49" height="1.55" fill="#4ed3c0"/><rect x="72.12" y="300.09" width="1.49" height="1.55" fill="#4fd2ae"/><rect x="73.55" y="300.09" width="1.49" height="1.55" fill="#4ed3bc"/><rect x="74.99" y="300.09" width="1.49" height="1.55" fill="#4dd4c5"/><rect x="76.43" y="300.09" width="1.49" height="1.55" fill="#4fd2b0"/><rect x="77.86" y="300.09" width="1.49" height="1.55" fill="#4fd2af"/><rect x="63.5" y="301.59" width="1.49" height="1.55" fill="#4ed3c1"/><rect x="64.94" y="301.59" width="1.49" height="1.55" fill="#4ed3c0"/><rect x="66.37" y="301.59" width="1.49" height="1.55" fill="#50d1a7"/><rect x="67.81" y="301.59" width="1.49" height="1.55" fill="#4dd4ce"/><rect x="69.25" y="301.59" width="1.49" height="1.55" fill="#4cd5d4"/><rect x="70.68" y="301.59" width="1.49" height="1.55" fill="#50d1a4"/><rect x="72.12" y="301.59" width="1.49" height="1.55" fill="#50d1a7"/><rect x="73.55" y="301.59" width="1.49" height="1.55" fill="#4ed3c0"/><rect x="74.99" y="301.59" width="1.49" height="1.55" fill="#4fd2b4"/><rect x="76.43" y="301.59" width="1.49" height="1.55" fill="#4ed3bf"/><rect x="77.86" y="301.59" width="1.49" height="1.55" fill="#4fd2b2"/><rect x="63.5" y="303.09" width="1.49" height="1.55" fill="#4dd4c5"/><rect x="64.94" y="303.09" width="1.49" height="1.55" fill="#4fd2ae"/><rect x="66.37" y="303.09" width="1.49" height="1.55" fill="#4ed3bb"/><rect x="67.81" y="303.09" width="1.49" height="1.55" fill="#4cd5db"/><rect x="69.25" y="303.09" width="1.49" height="1.55" fill="#4dd4ce"/><rect x="70.68" y="303.09" width="1.49" height="1.55" fill="#4fd2b4"/><rect x="72.12" y="303.09" width="1.49" height="1.55" fill="#4fd2b0"/><rect x="73.55" y="303.09" width="1.49" height="1.55" fill="#4fd2ac"/><rect x="74.99" y="303.09" width="1.49" height="1.55" fill="#50d19b"/><rect x="76.43" y="303.09" width="1.49" height="1.55" fill="#50d1a9"/><rect x="77.86" y="303.09" width="1.49" height="1.55" fill="#4ed3bc"/><rect x="63.5" y="304.58" width="1.49" height="1.55" fill="#4ed3bb"/><rect x="64.94" y="304.58" width="1.49" height="1.55" fill="#4dd4ca"/><rect x="66.37" y="304.58" width="1.49" height="1.55" fill="#4dd4d0"/><rect x="67.81" y="304.58" width="1.49" height="1.55" fill="#4bd6e7"/><rect x="69.25" y="304.58" width="1.49" height="1.55" fill="#4dd4c5"/><rect x="70.68" y="304.58" width="1.49" height="1.55" fill="#4ed3bc"/><rect x="72.12" y="304.58" width="1.49" height="1.55" fill="#4ed3c1"/><rect x="73.55" y="304.58" width="1.49" height="1.55" fill="#4ed3b8"/><rect x="74.99" y="304.58" width="1.49" height="1.55" fill="#50d196"/><rect x="76.43" y="304.58" width="1.49" height="1.55" fill="#50d199"/><rect x="77.86" y="304.58" width="1.49" height="1.55" fill="#4fd2b6"/><rect x="63.5" y="306.08" width="1.49" height="1.55" fill="#4fd2b6"/><rect x="64.94" y="306.08" width="1.49" height="1.55" fill="#4cd5dd"/><rect x="66.37" y="306.08" width="1.49" height="1.55" fill="#4cd5d3"/><rect x="67.81" y="306.08" width="1.49" height="1.55" fill="#4bd6de"/><rect x="69.25" y="306.08" width="1.49" height="1.55" fill="#4dd4c6"/><rect x="70.68" y="306.08" width="1.49" height="1.55" fill="#4fd2b1"/><rect x="72.12" y="306.08" width="1.49" height="1.55" fill="#4ed3bd"/><rect x="73.55" y="306.08" width="1.49" height="1.55" fill="#50d1a5"/><rect x="74.99" y="306.08" width="1.49" height="1.55" fill="#50d19d"/><rect x="76.43" y="306.08" width="1.49" height="1.55" fill="#50d1a3"/><rect x="77.86" y="306.08" width="1.49" height="1.55" fill="#4ed3c1"/><rect x="63.5" y="307.58" width="1.49" height="1.55" fill="#4dd4cc"/><rect x="64.94" y="307.58" width="1.49" height="1.55" fill="#4cd5dc"/><rect x="66.37" y="307.58" width="1.49" height="1.55" fill="#4cd5dd"/><rect x="67.81" y="307.58" width="1.49" height="1.55" fill="#4ed3c2"/><rect x="69.25" y="307.58" width="1.49" height="1.55" fill="#4ed3b7"/><rect x="70.68" y="307.58" width="1.49" height="1.55" fill="#50d19e"/><rect x="72.12" y="307.58" width="1.49" height="1.55" fill="#50d1a1"/><rect x="73.55" y="307.58" width="1.49" height="1.55" fill="#50d19e"/><rect x="74.99" y="307.58" width="1.49" height="1.55" fill="#50d188"/><rect x="76.43" y="307.58" width="1.49" height="1.55" fill="#4ed3bc"/><rect x="77.86" y="307.58" width="1.49" height="1.55" fill="#4dd4c6"/><rect x="63.5" y="309.07" width="1.49" height="1.55" fill="#4dd4c7"/><rect x="64.94" y="309.07" width="1.49" height="1.55" fill="#4dd4c7"/><rect x="66.37" y="309.07" width="1.49" height="1.55" fill="#4dd4cd"/><rect x="67.81" y="309.07" width="1.49" height="1.55" fill="#4dd4c4"/><rect x="69.25" y="309.07" width="1.49" height="1.55" fill="#4fd2ab"/><rect x="70.68" y="309.07" width="1.49" height="1.55" fill="#4ed3bd"/><rect x="72.12" y="309.07" width="1.49" height="1.55" fill="#50d1a9"/><rect x="73.55" y="309.07" width="1.49" height="1.55" fill="#50d19d"/><rect x="74.99" y="309.07" width="1.49" height="1.55" fill="#4fd2ab"/><rect x="76.43" y="309.07" width="1.49" height="1.55" fill="#4dd4c5"/><rect x="77.86" y="309.07" width="1.49" height="1.55" fill="#4dd4c9"/><rect x="63.5" y="310.57" width="1.49" height="1.55" fill="#4bd6e4"/><rect x="64.94" y="310.57" width="1.49" height="1.55" fill="#4bd6e6"/><rect x="66.37" y="310.57" width="1.49" height="1.55" fill="#4fd2b0"/><rect x="67.81" y="310.57" width="1.49" height="1.55" fill="#4fd2b5"/><rect x="69.25" y="310.57" width="1.49" height="1.55" fill="#4fd2ac"/><rect x="70.68" y="310.57" width="1.49" height="1.55" fill="#4bd6e1"/><rect x="72.12" y="310.57" width="1.49" height="1.55" fill="#4cd5d3"/><rect x="73.55" y="310.57" width="1.49" height="1.55" fill="#4fd2b5"/><rect x="74.99" y="310.57" width="1.49" height="1.55" fill="#4fd2b6"/><rect x="76.43" y="310.57" width="1.49" height="1.55" fill="#4cd5d1"/><rect x="77.86" y="310.57" width="1.49" height="1.55" fill="#4dd4cf"/><rect x="63.5" y="312.07" width="1.49" height="1.55" fill="#4cd5dd"/><rect x="64.94" y="312.07" width="1.49" height="1.55" fill="#4ed3c0"/><rect x="66.37" y="312.07" width="1.49" height="1.55" fill="#4dd4cc"/><rect x="67.81" y="312.07" width="1.49" height="1.55" fill="#4ed3c2"/><rect x="69.25" y="312.07" width="1.49" height="1.55" fill="#4ed3bd"/><rect x="70.68" y="312.07" width="1.49" height="1.55" fill="#4cd5d9"/><rect x="72.12" y="312.07" width="1.49" height="1.55" fill="#4dd4cc"/><rect x="73.55" y="312.07" width="1.49" height="1.55" fill="#4ed3c3"/><rect x="74.99" y="312.07" width="1.49" height="1.55" fill="#4fd2b1"/><rect x="76.43" y="312.07" width="1.49" height="1.55" fill="#4dd4cb"/><rect x="77.86" y="312.07" width="1.49" height="1.55" fill="#4cd5d4"/><rect x="63.5" y="313.56" width="1.49" height="1.55" fill="#4ad2eb"/><rect x="64.94" y="313.56" width="1.49" height="1.55" fill="#4ed3bd"/><rect x="66.37" y="313.56" width="1.49" height="1.55" fill="#4dd4c6"/><rect x="67.81" y="313.56" width="1.49" height="1.55" fill="#4bd6e3"/><rect x="69.25" y="313.56" width="1.49" height="1.55" fill="#4bd6ea"/><rect x="70.68" y="313.56" width="1.49" height="1.55" fill="#4bd6e7"/><rect x="72.12" y="313.56" width="1.49" height="1.55" fill="#4dd4c8"/><rect x="73.55" y="313.56" width="1.49" height="1.55" fill="#50d1a4"/><rect x="74.99" y="313.56" width="1.49" height="1.55" fill="#50d189"/><rect x="76.43" y="313.56" width="1.49" height="1.55" fill="#4ed3bd"/><rect x="77.86" y="313.56" width="1.49" height="1.55" fill="#4ed3c2"/><rect x="63.5" y="315.06" width="1.49" height="1.55" fill="#4bd6e3"/><rect x="64.94" y="315.06" width="1.49" height="1.55" fill="#4dd4cb"/><rect x="66.37" y="315.06" width="1.49" height="1.55" fill="#4ed3c3"/><rect x="67.81" y="315.06" width="1.49" height="1.55" fill="#4cd5d4"/><rect x="69.25" y="315.06" width="1.49" height="1.55" fill="#4cd5d6"/><rect x="70.68" y="315.06" width="1.49" height="1.55" fill="#4cd5d8"/><rect x="72.12" y="315.06" width="1.49" height="1.55" fill="#4dd4c8"/><rect x="73.55" y="315.06" width="1.49" height="1.55" fill="#4fd2b2"/><rect x="74.99" y="315.06" width="1.49" height="1.55" fill="#4ed3be"/><rect x="76.43" y="315.06" width="1.49" height="1.55" fill="#4fd2af"/><rect x="77.86" y="315.06" width="1.49" height="1.55" fill="#4fd2b5"/><rect x="63.5" y="316.56" width="1.49" height="1.55" fill="#48c9eb"/><rect x="64.94" y="316.56" width="1.49" height="1.55" fill="#4cd5db"/><rect x="66.37" y="316.56" width="1.49" height="1.55" fill="#4dd4c5"/><rect x="67.81" y="316.56" width="1.49" height="1.55" fill="#4dd4cd"/><rect x="69.25" y="316.56" width="1.49" height="1.55" fill="#4dd4d0"/><rect x="70.68" y="316.56" width="1.49" height="1.55" fill="#4cd5db"/><rect x="72.12" y="316.56" width="1.49" height="1.55" fill="#4fd2b4"/><rect x="73.55" y="316.56" width="1.49" height="1.55" fill="#4dd4c5"/><rect x="74.99" y="316.56" width="1.49" height="1.55" fill="#4ed3b7"/><rect x="76.43" y="316.56" width="1.49" height="1.55" fill="#4ed3bb"/><rect x="77.86" y="316.56" width="1.49" height="1.55" fill="#4dd4ca"/><rect x="63.5" y="318.05" width="1.49" height="1.55" fill="#4cd5db"/><rect x="64.94" y="318.05" width="1.49" height="1.55" fill="#4cd5db"/><rect x="66.37" y="318.05" width="1.49" height="1.55" fill="#4cd5d6"/><rect x="67.81" y="318.05" width="1.49" height="1.55" fill="#4dd4cd"/><rect x="69.25" y="318.05" width="1.49" height="1.55" fill="#4dd4c4"/><rect x="70.68" y="318.05" width="1.49" height="1.55" fill="#4ed3b7"/><rect x="72.12" y="318.05" width="1.49" height="1.55" fill="#4fd2ab"/><rect x="73.55" y="318.05" width="1.49" height="1.55" fill="#4ed3bb"/><rect x="74.99" y="318.05" width="1.49" height="1.55" fill="#4fd2b3"/><rect x="76.43" y="318.05" width="1.49" height="1.55" fill="#4dd4d0"/><rect x="77.86" y="318.05" width="1.49" height="1.55" fill="#4cd5d9"/><rect x="63.5" y="319.55" width="1.49" height="1.55" fill="#4cd5d7"/><rect x="64.94" y="319.55" width="1.49" height="1.55" fill="#4ad4eb"/><rect x="66.37" y="319.55" width="1.49" height="1.55" fill="#4cd5d4"/><rect x="67.81" y="319.55" width="1.49" height="1.55" fill="#4dd4ca"/><rect x="69.25" y="319.55" width="1.49" height="1.55" fill="#4ed3b7"/><rect x="70.68" y="319.55" width="1.49" height="1.55" fill="#4fd2b3"/><rect x="72.12" y="319.55" width="1.49" height="1.55" fill="#50d1a9"/><rect x="73.55" y="319.55" width="1.49" height="1.55" fill="#4fd2b2"/><rect x="74.99" y="319.55" width="1.49" height="1.55" fill="#4ed3bb"/><rect x="76.43" y="319.55" width="1.49" height="1.55" fill="#49cfeb"/><rect x="77.86" y="319.55" width="1.49" height="1.55" fill="#4ad5eb"/><rect x="63.5" y="321.04" width="1.49" height="1.55" fill="#4ad6eb"/><rect x="64.94" y="321.04" width="1.49" height="1.55" fill="#48c9eb"/><rect x="66.37" y="321.04" width="1.49" height="1.55" fill="#4ad4eb"/><rect x="67.81" y="321.04" width="1.49" height="1.55" fill="#4cd5d5"/><rect x="69.25" y="321.04" width="1.49" height="1.55" fill="#4ed3b8"/><rect x="70.68" y="321.04" width="1.49" height="1.55" fill="#4ed3c3"/><rect x="72.12" y="321.04" width="1.49" height="1.55" fill="#4fd2af"/><rect x="73.55" y="321.04" width="1.49" height="1.55" fill="#4ed3bc"/><rect x="74.99" y="321.04" width="1.49" height="1.55" fill="#4cd5da"/><rect x="76.43" y="321.04" width="1.49" height="1.55" fill="#4bd6de"/><rect x="77.86" y="321.04" width="1.49" height="1.55" fill="#4cd5d4"/><rect x="63.5" y="322.54" width="1.49" height="1.55" fill="#49ceeb"/><rect x="64.94" y="322.54" width="1.49" height="1.55" fill="#4ad2eb"/><rect x="66.37" y="322.54" width="1.49" height="1.55" fill="#4cd5db"/><rect x="67.81" y="322.54" width="1.49" height="1.55" fill="#4dd4ce"/><rect x="69.25" y="322.54" width="1.49" height="1.55" fill="#4fd2b3"/><rect x="70.68" y="322.54" width="1.49" height="1.55" fill="#4fd2b1"/><rect x="72.12" y="322.54" width="1.49" height="1.55" fill="#4fd2b6"/><rect x="73.55" y="322.54" width="1.49" height="1.55" fill="#4bd6e4"/><rect x="74.99" y="322.54" width="1.49" height="1.55" fill="#4cd5dc"/><rect x="76.43" y="322.54" width="1.49" height="1.55" fill="#4dd4d0"/><rect x="77.86" y="322.54" width="1.49" height="1.55" fill="#4dd4c6"/><rect x="63.5" y="324.04" width="1.49" height="1.55" fill="#48cbeb"/><rect x="64.94" y="324.04" width="1.49" height="1.55" fill="#45b7eb"/><rect x="66.37" y="324.04" width="1.49" height="1.55" fill="#49cfeb"/><rect x="67.81" y="324.04" width="1.49" height="1.55" fill="#4cd5d6"/><rect x="69.25" y="324.04" width="1.49" height="1.55" fill="#4dd4ce"/><rect x="70.68" y="324.04" width="1.49" height="1.55" fill="#4fd2b1"/><rect x="72.12" y="324.04" width="1.49" height="1.55" fill="#50d1a3"/><rect x="73.55" y="324.04" width="1.49" height="1.55" fill="#4dd4c9"/><rect x="74.99" y="324.04" width="1.49" height="1.55" fill="#4dd4cd"/><rect x="76.43" y="324.04" width="1.49" height="1.55" fill="#50d1a6"/><rect x="77.86" y="324.04" width="1.49" height="1.55" fill="#50d199"/><rect x="63.5" y="325.53" width="1.49" height="1.55" fill="#4bd6e3"/><rect x="64.94" y="325.53" width="1.49" height="1.55" fill="#47c4eb"/><rect x="66.37" y="325.53" width="1.49" height="1.55" fill="#4cd5d4"/><rect x="67.81" y="325.53" width="1.49" height="1.55" fill="#4cd5dd"/><rect x="69.25" y="325.53" width="1.49" height="1.55" fill="#4dd4c4"/><rect x="70.68" y="325.53" width="1.49" height="1.55" fill="#50d18a"/><rect x="72.12" y="325.53" width="1.49" height="1.55" fill="#4fd2b2"/><rect x="73.55" y="325.53" width="1.49" height="1.55" fill="#4fd2b0"/><rect x="74.99" y="325.53" width="1.49" height="1.55" fill="#4dd4ca"/><rect x="76.43" y="325.53" width="1.49" height="1.55" fill="#50d199"/><rect x="77.86" y="325.53" width="1.49" height="1.55" fill="#50d195"/><rect x="63.5" y="327.03" width="1.49" height="1.55" fill="#4ad3eb"/><rect x="64.94" y="327.03" width="1.49" height="1.55" fill="#4bd6df"/><rect x="66.37" y="327.03" width="1.49" height="1.55" fill="#4cd5dc"/><rect x="67.81" y="327.03" width="1.49" height="1.55" fill="#4ed3ba"/><rect x="69.25" y="327.03" width="1.49" height="1.55" fill="#4ed3c0"/><rect x="70.68" y="327.03" width="1.49" height="1.55" fill="#50d18c"/><rect x="72.12" y="327.03" width="1.49" height="1.55" fill="#4fd2ac"/><rect x="73.55" y="327.03" width="1.49" height="1.55" fill="#4dd4d0"/><rect x="74.99" y="327.03" width="1.49" height="1.55" fill="#4dd4cd"/><rect x="76.43" y="327.03" width="1.49" height="1.55" fill="#4fd2ab"/><rect x="77.86" y="327.03" width="1.49" height="1.55" fill="#50d189"/><rect x="63.5" y="328.53" width="1.49" height="1.55" fill="#4ad2eb"/><rect x="64.94" y="328.53" width="1.49" height="1.55" fill="#4dd4c6"/><rect x="66.37" y="328.53" width="1.49" height="1.55" fill="#4dd4d0"/><rect x="67.81" y="328.53" width="1.49" height="1.55" fill="#4cd5d7"/><rect x="69.25" y="328.53" width="1.49" height="1.55" fill="#4ed3bf"/><rect x="70.68" y="328.53" width="1.49" height="1.55" fill="#50d19a"/><rect x="72.12" y="328.53" width="1.49" height="1.55" fill="#4dd4c7"/><rect x="73.55" y="328.53" width="1.49" height="1.55" fill="#4dd4ca"/><rect x="74.99" y="328.53" width="1.49" height="1.55" fill="#4dd4cb"/><rect x="76.43" y="328.53" width="1.49" height="1.55" fill="#4fd2af"/><rect x="77.86" y="328.53" width="1.49" height="1.55" fill="#50d187"/><rect x="63.5" y="330.02" width="1.49" height="1.55" fill="#4ad2eb"/><rect x="64.94" y="330.02" width="1.49" height="1.55" fill="#4fd2b6"/><rect x="66.37" y="330.02" width="1.49" height="1.55" fill="#4ed3c0"/><rect x="67.81" y="330.02" width="1.49" height="1.55" fill="#4bd6de"/><rect x="69.25" y="330.02" width="1.49" height="1.55" fill="#4fd2b1"/><rect x="70.68" y="330.02" width="1.49" height="1.55" fill="#50d18c"/><rect x="72.12" y="330.02" width="1.49" height="1.55" fill="#4dd4c4"/><rect x="73.55" y="330.02" width="1.49" height="1.55" fill="#4ed3be"/><rect x="74.99" y="330.02" width="1.49" height="1.55" fill="#4dd4c6"/><rect x="76.43" y="330.02" width="1.49" height="1.55" fill="#4ed3bb"/><rect x="77.86" y="330.02" width="1.49" height="1.55" fill="#50d184"/><rect x="63.5" y="331.52" width="1.49" height="1.55" fill="#4cd5d7"/><rect x="64.94" y="331.52" width="1.49" height="1.55" fill="#4dd4ca"/><rect x="66.37" y="331.52" width="1.49" height="1.55" fill="#4ed3c2"/><rect x="67.81" y="331.52" width="1.49" height="1.55" fill="#4dd4c9"/><rect x="69.25" y="331.52" width="1.49" height="1.55" fill="#4ed3c1"/><rect x="70.68" y="331.52" width="1.49" height="1.55" fill="#4fd2af"/><rect x="72.12" y="331.52" width="1.49" height="1.55" fill="#4dd4c9"/><rect x="73.55" y="331.52" width="1.49" height="1.55" fill="#4dd4c9"/><rect x="74.99" y="331.52" width="1.49" height="1.55" fill="#4ed3bd"/><rect x="76.43" y="331.52" width="1.49" height="1.55" fill="#4dd4c9"/><rect x="77.86" y="331.52" width="1.49" height="1.55" fill="#50d193"/><rect x="63.5" y="333.02" width="1.49" height="1.55" fill="#48cbeb"/><rect x="64.94" y="333.02" width="1.49" height="1.55" fill="#4dd4d0"/><rect x="66.37" y="333.02" width="1.49" height="1.55" fill="#4cd5dc"/><rect x="67.81" y="333.02" width="1.49" height="1.55" fill="#4cd5d3"/><rect x="69.25" y="333.02" width="1.49" height="1.55" fill="#4dd4d0"/><rect x="70.68" y="333.02" width="1.49" height="1.55" fill="#4cd5d9"/><rect x="72.12" y="333.02" width="1.49" height="1.55" fill="#4cd5d9"/><rect x="73.55" y="333.02" width="1.49" height="1.55" fill="#4fd2b3"/><rect x="74.99" y="333.02" width="1.49" height="1.55" fill="#50d1a2"/><rect x="76.43" y="333.02" width="1.49" height="1.55" fill="#50d1a3"/><rect x="77.86" y="333.02" width="1.49" height="1.55" fill="#50d074"/><rect x="63.5" y="334.51" width="1.49" height="1.55" fill="#4ad3eb"/><rect x="64.94" y="334.51" width="1.49" height="1.55" fill="#4bd6de"/><rect x="66.37" y="334.51" width="1.49" height="1.55" fill="#49cfeb"/><rect x="67.81" y="334.51" width="1.49" height="1.55" fill="#4dd4c7"/><rect x="69.25" y="334.51" width="1.49" height="1.55" fill="#4dd4cb"/><rect x="70.68" y="334.51" width="1.49" height="1.55" fill="#4ad3eb"/><rect x="72.12" y="334.51" width="1.49" height="1.55" fill="#4cd5d7"/><rect x="73.55" y="334.51" width="1.49" height="1.55" fill="#4ed3bc"/><rect x="74.99" y="334.51" width="1.49" height="1.55" fill="#50d194"/><rect x="76.43" y="334.51" width="1.49" height="1.55" fill="#50d1a5"/><rect x="77.86" y="334.51" width="1.49" height="1.55" fill="#50d06d"/><rect x="63.5" y="336.01" width="1.49" height="1.55" fill="#49cfeb"/><rect x="64.94" y="336.01" width="1.49" height="1.55" fill="#4cd5da"/><rect x="66.37" y="336.01" width="1.49" height="1.55" fill="#4bd6e0"/><rect x="67.81" y="336.01" width="1.49" height="1.55" fill="#4cd5d1"/><rect x="69.25" y="336.01" width="1.49" height="1.55" fill="#4ed3c0"/><rect x="70.68" y="336.01" width="1.49" height="1.55" fill="#4dd4c6"/><rect x="72.12" y="336.01" width="1.49" height="1.55" fill="#4ed3b9"/><rect x="73.55" y="336.01" width="1.49" height="1.55" fill="#4dd4c7"/><rect x="74.99" y="336.01" width="1.49" height="1.55" fill="#4ed3bb"/><rect x="76.43" y="336.01" width="1.49" height="1.55" fill="#50d07e"/><rect x="77.86" y="336.01" width="1.49" height="1.55" fill="#52d058"/><rect x="63.5" y="337.51" width="1.49" height="1.55" fill="#48c8eb"/><rect x="64.94" y="337.51" width="1.49" height="1.55" fill="#49cceb"/><rect x="66.37" y="337.51" width="1.49" height="1.55" fill="#4cd5d6"/><rect x="67.81" y="337.51" width="1.49" height="1.55" fill="#4cd5dc"/><rect x="69.25" y="337.51" width="1.49" height="1.55" fill="#4cd5db"/><rect x="70.68" y="337.51" width="1.49" height="1.55" fill="#4ed3b9"/><rect x="72.12" y="337.51" width="1.49" height="1.55" fill="#4fd2b0"/><rect x="73.55" y="337.51" width="1.49" height="1.55" fill="#50d1a5"/><rect x="74.99" y="337.51" width="1.49" height="1.55" fill="#50d198"/><rect x="76.43" y="337.51" width="1.49" height="1.55" fill="#56d055"/><rect x="77.86" y="337.51" width="1.49" height="1.55" fill="#59d053"/><rect x="63.5" y="339" width="1.49" height="1.55" fill="#43aeeb"/><rect x="64.94" y="339" width="1.49" height="1.55" fill="#4bd6e8"/><rect x="66.37" y="339" width="1.49" height="1.55" fill="#4bd6de"/><rect x="67.81" y="339" width="1.49" height="1.55" fill="#4ad2eb"/><rect x="69.25" y="339" width="1.49" height="1.55" fill="#4bd6e7"/><rect x="70.68" y="339" width="1.49" height="1.55" fill="#4fd2af"/><rect x="72.12" y="339" width="1.49" height="1.55" fill="#50d19b"/><rect x="73.55" y="339" width="1.49" height="1.55" fill="#50d073"/><rect x="74.99" y="339" width="1.49" height="1.55" fill="#51d058"/><rect x="76.43" y="339" width="1.49" height="1.55" fill="#67d149"/><rect x="77.86" y="339" width="1.49" height="1.55" fill="#5ed150"/></g>
</g>
<clipPath id="cl1"><rect x="157.2" y="223.7" width="57.6" height="148.9"/></clipPath>
<g clip-path="url(#cl1)">
<rect x="157.2" y="223.7" width="57.6" height="148.9" filter="url(#spk)"/>
<path d="M157.2,223.7 L158.66,224.7 C164.37,226.69 173.72,236.15 175.1,248.6 L157.2,248.6 Z" fill="#000" fill-opacity="0.56"/>
<path d="M214.8,223.7 L213.22,224.7 C206.71,226.69 196.08,236.15 194.5,248.6 L214.8,248.6 Z" fill="#000" fill-opacity="0.56"/>
<path d="M175.1,344.9 C173.72,358.75 164.37,369.28 158.66,371.49 L157.2,372.6 L157.2,344.9 Z" fill="#000" fill-opacity="0.54"/>
<path d="M194.5,344.9 C196.08,358.75 206.71,369.28 213.22,371.49 L214.8,372.6 L214.8,344.9 Z" fill="#000" fill-opacity="0.54"/>
<rect x="157.2" y="248.6" width="17.9" height="96.3" fill="#000" fill-opacity="0.5"/>
<rect x="194.5" y="248.6" width="20.3" height="96.3" fill="#000" fill-opacity="0.5"/>
<rect x="157.2" y="257.7" width="17.9" height="75.1" fill="#020202"/>
<rect x="194.5" y="257.7" width="20.3" height="75.1" fill="#020202"/>
<rect x="157.2" y="247.1" width="17.9" height="3" fill="#050505"/>
<rect x="194.5" y="247.1" width="20.3" height="3" fill="#050505"/>
<rect x="157.2" y="343.4" width="17.9" height="3" fill="#050505"/>
<rect x="194.5" y="343.4" width="20.3" height="3" fill="#050505"/>
<path d="M158.66,224.7 C164.37,226.69 173.72,236.15 175.1,248.6" fill="none" stroke="#121212" stroke-width="2.9"/>
<path d="M213.22,224.7 C206.71,226.69 196.08,236.15 194.5,248.6" fill="none" stroke="#121212" stroke-width="2.9"/>
<path d="M175.1,344.9 C173.72,358.75 164.37,369.28 158.66,371.49" fill="none" stroke="#121212" stroke-width="2.9"/>
<path d="M194.5,344.9 C196.08,358.75 206.71,369.28 213.22,371.49" fill="none" stroke="#121212" stroke-width="2.9"/>
<g opacity="0.93"><rect x="177.1" y="252.8" width="1.6" height="1.55" fill="#e9722b"/><rect x="178.65" y="252.8" width="1.6" height="1.55" fill="#e98b2f"/><rect x="180.2" y="252.8" width="1.6" height="1.55" fill="#e89c32"/><rect x="181.75" y="252.8" width="1.6" height="1.55" fill="#ea842e"/><rect x="183.3" y="252.8" width="1.6" height="1.55" fill="#e89431"/><rect x="184.85" y="252.8" width="1.6" height="1.55" fill="#e89431"/><rect x="186.4" y="252.8" width="1.6" height="1.55" fill="#e89631"/><rect x="187.95" y="252.8" width="1.6" height="1.55" fill="#e7ae35"/><rect x="189.5" y="252.8" width="1.6" height="1.55" fill="#e89e32"/><rect x="191.05" y="252.8" width="1.6" height="1.55" fill="#e99130"/><rect x="177.1" y="254.3" width="1.6" height="1.55" fill="#d5da3b"/><rect x="178.65" y="254.3" width="1.6" height="1.55" fill="#e4d83b"/><rect x="180.2" y="254.3" width="1.6" height="1.55" fill="#cad93a"/><rect x="181.75" y="254.3" width="1.6" height="1.55" fill="#d5da3b"/><rect x="183.3" y="254.3" width="1.6" height="1.55" fill="#c4d93a"/><rect x="184.85" y="254.3" width="1.6" height="1.55" fill="#b7d839"/><rect x="186.4" y="254.3" width="1.6" height="1.55" fill="#b5d839"/><rect x="187.95" y="254.3" width="1.6" height="1.55" fill="#82d437"/><rect x="189.5" y="254.3" width="1.6" height="1.55" fill="#a7d738"/><rect x="191.05" y="254.3" width="1.6" height="1.55" fill="#9cd638"/><rect x="177.1" y="255.79" width="1.6" height="1.55" fill="#afd739"/><rect x="178.65" y="255.79" width="1.6" height="1.55" fill="#c5d93a"/><rect x="180.2" y="255.79" width="1.6" height="1.55" fill="#bdd83a"/><rect x="181.75" y="255.79" width="1.6" height="1.55" fill="#c9d93a"/><rect x="183.3" y="255.79" width="1.6" height="1.55" fill="#abd739"/><rect x="184.85" y="255.79" width="1.6" height="1.55" fill="#98d538"/><rect x="186.4" y="255.79" width="1.6" height="1.55" fill="#82d437"/><rect x="187.95" y="255.79" width="1.6" height="1.55" fill="#6ad247"/><rect x="189.5" y="255.79" width="1.6" height="1.55" fill="#7bd33b"/><rect x="191.05" y="255.79" width="1.6" height="1.55" fill="#85d437"/><rect x="177.1" y="257.29" width="1.6" height="1.55" fill="#bbd839"/><rect x="178.65" y="257.29" width="1.6" height="1.55" fill="#bcd83a"/><rect x="180.2" y="257.29" width="1.6" height="1.55" fill="#c8d93a"/><rect x="181.75" y="257.29" width="1.6" height="1.55" fill="#cfda3a"/><rect x="183.3" y="257.29" width="1.6" height="1.55" fill="#a6d638"/><rect x="184.85" y="257.29" width="1.6" height="1.55" fill="#90d537"/><rect x="186.4" y="257.29" width="1.6" height="1.55" fill="#89d437"/><rect x="187.95" y="257.29" width="1.6" height="1.55" fill="#74d240"/><rect x="189.5" y="257.29" width="1.6" height="1.55" fill="#86d437"/><rect x="191.05" y="257.29" width="1.6" height="1.55" fill="#83d437"/><rect x="177.1" y="258.79" width="1.6" height="1.55" fill="#b6d839"/><rect x="178.65" y="258.79" width="1.6" height="1.55" fill="#c6d93a"/><rect x="180.2" y="258.79" width="1.6" height="1.55" fill="#d6da3b"/><rect x="181.75" y="258.79" width="1.6" height="1.55" fill="#ceda3a"/><rect x="183.3" y="258.79" width="1.6" height="1.55" fill="#91d537"/><rect x="184.85" y="258.79" width="1.6" height="1.55" fill="#81d337"/><rect x="186.4" y="258.79" width="1.6" height="1.55" fill="#7ed339"/><rect x="187.95" y="258.79" width="1.6" height="1.55" fill="#73d241"/><rect x="189.5" y="258.79" width="1.6" height="1.55" fill="#78d33d"/><rect x="191.05" y="258.79" width="1.6" height="1.55" fill="#82d437"/><rect x="177.1" y="260.28" width="1.6" height="1.55" fill="#9cd638"/><rect x="178.65" y="260.28" width="1.6" height="1.55" fill="#bad839"/><rect x="180.2" y="260.28" width="1.6" height="1.55" fill="#e1db3b"/><rect x="181.75" y="260.28" width="1.6" height="1.55" fill="#bcd83a"/><rect x="183.3" y="260.28" width="1.6" height="1.55" fill="#afd739"/><rect x="184.85" y="260.28" width="1.6" height="1.55" fill="#99d538"/><rect x="186.4" y="260.28" width="1.6" height="1.55" fill="#7ed339"/><rect x="187.95" y="260.28" width="1.6" height="1.55" fill="#72d242"/><rect x="189.5" y="260.28" width="1.6" height="1.55" fill="#77d33e"/><rect x="191.05" y="260.28" width="1.6" height="1.55" fill="#80d337"/><rect x="177.1" y="261.78" width="1.6" height="1.55" fill="#85d437"/><rect x="178.65" y="261.78" width="1.6" height="1.55" fill="#b1d739"/><rect x="180.2" y="261.78" width="1.6" height="1.55" fill="#ceda3a"/><rect x="181.75" y="261.78" width="1.6" height="1.55" fill="#add739"/><rect x="183.3" y="261.78" width="1.6" height="1.55" fill="#9fd638"/><rect x="184.85" y="261.78" width="1.6" height="1.55" fill="#81d337"/><rect x="186.4" y="261.78" width="1.6" height="1.55" fill="#77d33e"/><rect x="187.95" y="261.78" width="1.6" height="1.55" fill="#57d054"/><rect x="189.5" y="261.78" width="1.6" height="1.55" fill="#5fd14f"/><rect x="191.05" y="261.78" width="1.6" height="1.55" fill="#79d33c"/><rect x="177.1" y="263.28" width="1.6" height="1.55" fill="#79d33d"/><rect x="178.65" y="263.28" width="1.6" height="1.55" fill="#9ed638"/><rect x="180.2" y="263.28" width="1.6" height="1.55" fill="#bfd93a"/><rect x="181.75" y="263.28" width="1.6" height="1.55" fill="#a8d738"/><rect x="183.3" y="263.28" width="1.6" height="1.55" fill="#72d241"/><rect x="184.85" y="263.28" width="1.6" height="1.55" fill="#64d14b"/><rect x="186.4" y="263.28" width="1.6" height="1.55" fill="#50d063"/><rect x="187.95" y="263.28" width="1.6" height="1.55" fill="#50d064"/><rect x="189.5" y="263.28" width="1.6" height="1.55" fill="#50d183"/><rect x="191.05" y="263.28" width="1.6" height="1.55" fill="#50d05b"/><rect x="177.1" y="264.77" width="1.6" height="1.55" fill="#74d240"/><rect x="178.65" y="264.77" width="1.6" height="1.55" fill="#9cd638"/><rect x="180.2" y="264.77" width="1.6" height="1.55" fill="#9fd638"/><rect x="181.75" y="264.77" width="1.6" height="1.55" fill="#98d538"/><rect x="183.3" y="264.77" width="1.6" height="1.55" fill="#74d240"/><rect x="184.85" y="264.77" width="1.6" height="1.55" fill="#60d14e"/><rect x="186.4" y="264.77" width="1.6" height="1.55" fill="#56d055"/><rect x="187.95" y="264.77" width="1.6" height="1.55" fill="#50d185"/><rect x="189.5" y="264.77" width="1.6" height="1.55" fill="#50d196"/><rect x="191.05" y="264.77" width="1.6" height="1.55" fill="#50d067"/><rect x="177.1" y="266.27" width="1.6" height="1.55" fill="#7dd33a"/><rect x="178.65" y="266.27" width="1.6" height="1.55" fill="#93d537"/><rect x="180.2" y="266.27" width="1.6" height="1.55" fill="#91d537"/><rect x="181.75" y="266.27" width="1.6" height="1.55" fill="#7ed339"/><rect x="183.3" y="266.27" width="1.6" height="1.55" fill="#78d33d"/><rect x="184.85" y="266.27" width="1.6" height="1.55" fill="#66d14a"/><rect x="186.4" y="266.27" width="1.6" height="1.55" fill="#53d057"/><rect x="187.95" y="266.27" width="1.6" height="1.55" fill="#4fd2ab"/><rect x="189.5" y="266.27" width="1.6" height="1.55" fill="#50d188"/><rect x="191.05" y="266.27" width="1.6" height="1.55" fill="#50d061"/><rect x="177.1" y="267.77" width="1.6" height="1.55" fill="#80d338"/><rect x="178.65" y="267.77" width="1.6" height="1.55" fill="#82d437"/><rect x="180.2" y="267.77" width="1.6" height="1.55" fill="#82d437"/><rect x="181.75" y="267.77" width="1.6" height="1.55" fill="#7ed339"/><rect x="183.3" y="267.77" width="1.6" height="1.55" fill="#73d241"/><rect x="184.85" y="267.77" width="1.6" height="1.55" fill="#60d14e"/><rect x="186.4" y="267.77" width="1.6" height="1.55" fill="#50d05f"/><rect x="187.95" y="267.77" width="1.6" height="1.55" fill="#50d1a6"/><rect x="189.5" y="267.77" width="1.6" height="1.55" fill="#50d06d"/><rect x="191.05" y="267.77" width="1.6" height="1.55" fill="#57d054"/><rect x="177.1" y="269.26" width="1.6" height="1.55" fill="#77d33e"/><rect x="178.65" y="269.26" width="1.6" height="1.55" fill="#6bd246"/><rect x="180.2" y="269.26" width="1.6" height="1.55" fill="#7dd339"/><rect x="181.75" y="269.26" width="1.6" height="1.55" fill="#76d33e"/><rect x="183.3" y="269.26" width="1.6" height="1.55" fill="#66d14a"/><rect x="184.85" y="269.26" width="1.6" height="1.55" fill="#68d148"/><rect x="186.4" y="269.26" width="1.6" height="1.55" fill="#53d057"/><rect x="187.95" y="269.26" width="1.6" height="1.55" fill="#58d053"/><rect x="189.5" y="269.26" width="1.6" height="1.55" fill="#5bd052"/><rect x="191.05" y="269.26" width="1.6" height="1.55" fill="#6ed244"/><rect x="177.1" y="270.76" width="1.6" height="1.55" fill="#7dd339"/><rect x="178.65" y="270.76" width="1.6" height="1.55" fill="#73d241"/><rect x="180.2" y="270.76" width="1.6" height="1.55" fill="#7bd33b"/><rect x="181.75" y="270.76" width="1.6" height="1.55" fill="#73d241"/><rect x="183.3" y="270.76" width="1.6" height="1.55" fill="#6ed244"/><rect x="184.85" y="270.76" width="1.6" height="1.55" fill="#6ed244"/><rect x="186.4" y="270.76" width="1.6" height="1.55" fill="#5ad052"/><rect x="187.95" y="270.76" width="1.6" height="1.55" fill="#60d14e"/><rect x="189.5" y="270.76" width="1.6" height="1.55" fill="#69d247"/><rect x="191.05" y="270.76" width="1.6" height="1.55" fill="#78d33d"/><rect x="177.1" y="272.26" width="1.6" height="1.55" fill="#7ad33b"/><rect x="178.65" y="272.26" width="1.6" height="1.55" fill="#98d538"/><rect x="180.2" y="272.26" width="1.6" height="1.55" fill="#8cd437"/><rect x="181.75" y="272.26" width="1.6" height="1.55" fill="#6cd245"/><rect x="183.3" y="272.26" width="1.6" height="1.55" fill="#74d240"/><rect x="184.85" y="272.26" width="1.6" height="1.55" fill="#73d241"/><rect x="186.4" y="272.26" width="1.6" height="1.55" fill="#5dd150"/><rect x="187.95" y="272.26" width="1.6" height="1.55" fill="#6bd247"/><rect x="189.5" y="272.26" width="1.6" height="1.55" fill="#77d33e"/><rect x="191.05" y="272.26" width="1.6" height="1.55" fill="#86d437"/><rect x="177.1" y="273.75" width="1.6" height="1.55" fill="#9bd638"/><rect x="178.65" y="273.75" width="1.6" height="1.55" fill="#99d538"/><rect x="180.2" y="273.75" width="1.6" height="1.55" fill="#8dd437"/><rect x="181.75" y="273.75" width="1.6" height="1.55" fill="#7ed339"/><rect x="183.3" y="273.75" width="1.6" height="1.55" fill="#82d437"/><rect x="184.85" y="273.75" width="1.6" height="1.55" fill="#76d33f"/><rect x="186.4" y="273.75" width="1.6" height="1.55" fill="#69d247"/><rect x="187.95" y="273.75" width="1.6" height="1.55" fill="#6bd246"/><rect x="189.5" y="273.75" width="1.6" height="1.55" fill="#7cd33a"/><rect x="191.05" y="273.75" width="1.6" height="1.55" fill="#85d437"/><rect x="177.1" y="275.25" width="1.6" height="1.55" fill="#aed739"/><rect x="178.65" y="275.25" width="1.6" height="1.55" fill="#b3d839"/><rect x="180.2" y="275.25" width="1.6" height="1.55" fill="#b0d739"/><rect x="181.75" y="275.25" width="1.6" height="1.55" fill="#86d437"/><rect x="183.3" y="275.25" width="1.6" height="1.55" fill="#7cd33a"/><rect x="184.85" y="275.25" width="1.6" height="1.55" fill="#78d33d"/><rect x="186.4" y="275.25" width="1.6" height="1.55" fill="#70d242"/><rect x="187.95" y="275.25" width="1.6" height="1.55" fill="#69d247"/><rect x="189.5" y="275.25" width="1.6" height="1.55" fill="#81d337"/><rect x="191.05" y="275.25" width="1.6" height="1.55" fill="#83d437"/><rect x="177.1" y="276.75" width="1.6" height="1.55" fill="#e4d73b"/><rect x="178.65" y="276.75" width="1.6" height="1.55" fill="#e4d83b"/><rect x="180.2" y="276.75" width="1.6" height="1.55" fill="#dfdb3b"/><rect x="181.75" y="276.75" width="1.6" height="1.55" fill="#c6d93a"/><rect x="183.3" y="276.75" width="1.6" height="1.55" fill="#a7d738"/><rect x="184.85" y="276.75" width="1.6" height="1.55" fill="#91d537"/><rect x="186.4" y="276.75" width="1.6" height="1.55" fill="#7cd33a"/><rect x="187.95" y="276.75" width="1.6" height="1.55" fill="#79d33d"/><rect x="189.5" y="276.75" width="1.6" height="1.55" fill="#8ed537"/><rect x="191.05" y="276.75" width="1.6" height="1.55" fill="#92d537"/><rect x="177.1" y="278.24" width="1.6" height="1.55" fill="#e89631"/><rect x="178.65" y="278.24" width="1.6" height="1.55" fill="#e89932"/><rect x="180.2" y="278.24" width="1.6" height="1.55" fill="#e7ac34"/><rect x="181.75" y="278.24" width="1.6" height="1.55" fill="#e5c538"/><rect x="183.3" y="278.24" width="1.6" height="1.55" fill="#c8d93a"/><rect x="184.85" y="278.24" width="1.6" height="1.55" fill="#b1d739"/><rect x="186.4" y="278.24" width="1.6" height="1.55" fill="#91d537"/><rect x="187.95" y="278.24" width="1.6" height="1.55" fill="#c2d93a"/><rect x="189.5" y="278.24" width="1.6" height="1.55" fill="#86d437"/><rect x="191.05" y="278.24" width="1.6" height="1.55" fill="#a2d638"/><rect x="177.1" y="279.74" width="1.6" height="1.55" fill="#e6bf37"/><rect x="178.65" y="279.74" width="1.6" height="1.55" fill="#e6bd37"/><rect x="180.2" y="279.74" width="1.6" height="1.55" fill="#d5da3b"/><rect x="181.75" y="279.74" width="1.6" height="1.55" fill="#bcd839"/><rect x="183.3" y="279.74" width="1.6" height="1.55" fill="#bad839"/><rect x="184.85" y="279.74" width="1.6" height="1.55" fill="#99d538"/><rect x="186.4" y="279.74" width="1.6" height="1.55" fill="#92d537"/><rect x="187.95" y="279.74" width="1.6" height="1.55" fill="#a8d738"/><rect x="189.5" y="279.74" width="1.6" height="1.55" fill="#8ad437"/><rect x="191.05" y="279.74" width="1.6" height="1.55" fill="#77d33e"/><rect x="177.1" y="281.24" width="1.6" height="1.55" fill="#c3d93a"/><rect x="178.65" y="281.24" width="1.6" height="1.55" fill="#aad739"/><rect x="180.2" y="281.24" width="1.6" height="1.55" fill="#99d538"/><rect x="181.75" y="281.24" width="1.6" height="1.55" fill="#83d437"/><rect x="183.3" y="281.24" width="1.6" height="1.55" fill="#95d538"/><rect x="184.85" y="281.24" width="1.6" height="1.55" fill="#7ed339"/><rect x="186.4" y="281.24" width="1.6" height="1.55" fill="#81d337"/><rect x="187.95" y="281.24" width="1.6" height="1.55" fill="#7ed339"/><rect x="189.5" y="281.24" width="1.6" height="1.55" fill="#75d33f"/><rect x="191.05" y="281.24" width="1.6" height="1.55" fill="#5bd051"/><rect x="177.1" y="282.73" width="1.6" height="1.55" fill="#8cd437"/><rect x="178.65" y="282.73" width="1.6" height="1.55" fill="#8bd437"/><rect x="180.2" y="282.73" width="1.6" height="1.55" fill="#71d242"/><rect x="181.75" y="282.73" width="1.6" height="1.55" fill="#6ed244"/><rect x="183.3" y="282.73" width="1.6" height="1.55" fill="#73d241"/><rect x="184.85" y="282.73" width="1.6" height="1.55" fill="#76d33e"/><rect x="186.4" y="282.73" width="1.6" height="1.55" fill="#72d241"/><rect x="187.95" y="282.73" width="1.6" height="1.55" fill="#78d33d"/><rect x="189.5" y="282.73" width="1.6" height="1.55" fill="#59d053"/><rect x="191.05" y="282.73" width="1.6" height="1.55" fill="#57d055"/><rect x="177.1" y="284.23" width="1.6" height="1.55" fill="#7bd33b"/><rect x="178.65" y="284.23" width="1.6" height="1.55" fill="#6cd246"/><rect x="180.2" y="284.23" width="1.6" height="1.55" fill="#6cd246"/><rect x="181.75" y="284.23" width="1.6" height="1.55" fill="#78d33d"/><rect x="183.3" y="284.23" width="1.6" height="1.55" fill="#7fd338"/><rect x="184.85" y="284.23" width="1.6" height="1.55" fill="#7bd33b"/><rect x="186.4" y="284.23" width="1.6" height="1.55" fill="#62d14d"/><rect x="187.95" y="284.23" width="1.6" height="1.55" fill="#66d14a"/><rect x="189.5" y="284.23" width="1.6" height="1.55" fill="#50d06d"/><rect x="191.05" y="284.23" width="1.6" height="1.55" fill="#58d054"/><rect x="177.1" y="285.73" width="1.6" height="1.55" fill="#6fd244"/><rect x="178.65" y="285.73" width="1.6" height="1.55" fill="#5ed14f"/><rect x="180.2" y="285.73" width="1.6" height="1.55" fill="#63d14c"/><rect x="181.75" y="285.73" width="1.6" height="1.55" fill="#7cd33a"/><rect x="183.3" y="285.73" width="1.6" height="1.55" fill="#7ad33c"/><rect x="184.85" y="285.73" width="1.6" height="1.55" fill="#63d14c"/><rect x="186.4" y="285.73" width="1.6" height="1.55" fill="#54d056"/><rect x="187.95" y="285.73" width="1.6" height="1.55" fill="#50d05f"/><rect x="189.5" y="285.73" width="1.6" height="1.55" fill="#50d06b"/><rect x="191.05" y="285.73" width="1.6" height="1.55" fill="#65d14b"/><rect x="177.1" y="287.22" width="1.6" height="1.55" fill="#58d053"/><rect x="178.65" y="287.22" width="1.6" height="1.55" fill="#56d055"/><rect x="180.2" y="287.22" width="1.6" height="1.55" fill="#6dd245"/><rect x="181.75" y="287.22" width="1.6" height="1.55" fill="#76d33f"/><rect x="183.3" y="287.22" width="1.6" height="1.55" fill="#64d14b"/><rect x="184.85" y="287.22" width="1.6" height="1.55" fill="#50d05f"/><rect x="186.4" y="287.22" width="1.6" height="1.55" fill="#50d07b"/><rect x="187.95" y="287.22" width="1.6" height="1.55" fill="#50d07e"/><rect x="189.5" y="287.22" width="1.6" height="1.55" fill="#68d148"/><rect x="191.05" y="287.22" width="1.6" height="1.55" fill="#6fd243"/><rect x="177.1" y="288.72" width="1.6" height="1.55" fill="#58d054"/><rect x="178.65" y="288.72" width="1.6" height="1.55" fill="#55d055"/><rect x="180.2" y="288.72" width="1.6" height="1.55" fill="#73d241"/><rect x="181.75" y="288.72" width="1.6" height="1.55" fill="#5dd150"/><rect x="183.3" y="288.72" width="1.6" height="1.55" fill="#50d059"/><rect x="184.85" y="288.72" width="1.6" height="1.55" fill="#50d07b"/><rect x="186.4" y="288.72" width="1.6" height="1.55" fill="#50d06a"/><rect x="187.95" y="288.72" width="1.6" height="1.55" fill="#5ad052"/><rect x="189.5" y="288.72" width="1.6" height="1.55" fill="#6ed244"/><rect x="191.05" y="288.72" width="1.6" height="1.55" fill="#73d240"/><rect x="177.1" y="290.22" width="1.6" height="1.55" fill="#53d057"/><rect x="178.65" y="290.22" width="1.6" height="1.55" fill="#5cd151"/><rect x="180.2" y="290.22" width="1.6" height="1.55" fill="#67d149"/><rect x="181.75" y="290.22" width="1.6" height="1.55" fill="#50d059"/><rect x="183.3" y="290.22" width="1.6" height="1.55" fill="#50d072"/><rect x="184.85" y="290.22" width="1.6" height="1.55" fill="#50d073"/><rect x="186.4" y="290.22" width="1.6" height="1.55" fill="#56d055"/><rect x="187.95" y="290.22" width="1.6" height="1.55" fill="#63d14c"/><rect x="189.5" y="290.22" width="1.6" height="1.55" fill="#7fd338"/><rect x="191.05" y="290.22" width="1.6" height="1.55" fill="#71d242"/><rect x="177.1" y="291.71" width="1.6" height="1.55" fill="#50d05f"/><rect x="178.65" y="291.71" width="1.6" height="1.55" fill="#5cd051"/><rect x="180.2" y="291.71" width="1.6" height="1.55" fill="#72d241"/><rect x="181.75" y="291.71" width="1.6" height="1.55" fill="#67d149"/><rect x="183.3" y="291.71" width="1.6" height="1.55" fill="#53d057"/><rect x="184.85" y="291.71" width="1.6" height="1.55" fill="#54d056"/><rect x="186.4" y="291.71" width="1.6" height="1.55" fill="#61d14d"/><rect x="187.95" y="291.71" width="1.6" height="1.55" fill="#67d149"/><rect x="189.5" y="291.71" width="1.6" height="1.55" fill="#71d242"/><rect x="191.05" y="291.71" width="1.6" height="1.55" fill="#71d242"/><rect x="177.1" y="293.21" width="1.6" height="1.55" fill="#5fd14f"/><rect x="178.65" y="293.21" width="1.6" height="1.55" fill="#61d14d"/><rect x="180.2" y="293.21" width="1.6" height="1.55" fill="#75d33f"/><rect x="181.75" y="293.21" width="1.6" height="1.55" fill="#72d241"/><rect x="183.3" y="293.21" width="1.6" height="1.55" fill="#57d054"/><rect x="184.85" y="293.21" width="1.6" height="1.55" fill="#57d054"/><rect x="186.4" y="293.21" width="1.6" height="1.55" fill="#5fd14e"/><rect x="187.95" y="293.21" width="1.6" height="1.55" fill="#68d148"/><rect x="189.5" y="293.21" width="1.6" height="1.55" fill="#65d14b"/><rect x="191.05" y="293.21" width="1.6" height="1.55" fill="#69d248"/><rect x="177.1" y="294.71" width="1.6" height="1.55" fill="#5ad052"/><rect x="178.65" y="294.71" width="1.6" height="1.55" fill="#6cd246"/><rect x="180.2" y="294.71" width="1.6" height="1.55" fill="#75d33f"/><rect x="181.75" y="294.71" width="1.6" height="1.55" fill="#63d14c"/><rect x="183.3" y="294.71" width="1.6" height="1.55" fill="#50d066"/><rect x="184.85" y="294.71" width="1.6" height="1.55" fill="#50d059"/><rect x="186.4" y="294.71" width="1.6" height="1.55" fill="#5ad052"/><rect x="187.95" y="294.71" width="1.6" height="1.55" fill="#60d14e"/><rect x="189.5" y="294.71" width="1.6" height="1.55" fill="#64d14b"/><rect x="191.05" y="294.71" width="1.6" height="1.55" fill="#6dd245"/><rect x="177.1" y="296.2" width="1.6" height="1.55" fill="#51d058"/><rect x="178.65" y="296.2" width="1.6" height="1.55" fill="#6dd245"/><rect x="180.2" y="296.2" width="1.6" height="1.55" fill="#6bd246"/><rect x="181.75" y="296.2" width="1.6" height="1.55" fill="#50d063"/><rect x="183.3" y="296.2" width="1.6" height="1.55" fill="#50d07d"/><rect x="184.85" y="296.2" width="1.6" height="1.55" fill="#50d07b"/><rect x="186.4" y="296.2" width="1.6" height="1.55" fill="#50d074"/><rect x="187.95" y="296.2" width="1.6" height="1.55" fill="#67d149"/><rect x="189.5" y="296.2" width="1.6" height="1.55" fill="#67d149"/><rect x="191.05" y="296.2" width="1.6" height="1.55" fill="#65d14a"/><rect x="177.1" y="297.7" width="1.6" height="1.55" fill="#52d058"/><rect x="178.65" y="297.7" width="1.6" height="1.55" fill="#57d054"/><rect x="180.2" y="297.7" width="1.6" height="1.55" fill="#5ad052"/><rect x="181.75" y="297.7" width="1.6" height="1.55" fill="#50d05d"/><rect x="183.3" y="297.7" width="1.6" height="1.55" fill="#50d19a"/><rect x="184.85" y="297.7" width="1.6" height="1.55" fill="#50d07d"/><rect x="186.4" y="297.7" width="1.6" height="1.55" fill="#50d059"/><rect x="187.95" y="297.7" width="1.6" height="1.55" fill="#65d14b"/><rect x="189.5" y="297.7" width="1.6" height="1.55" fill="#61d14d"/><rect x="191.05" y="297.7" width="1.6" height="1.55" fill="#65d14b"/><rect x="177.1" y="299.19" width="1.6" height="1.55" fill="#50d05d"/><rect x="178.65" y="299.19" width="1.6" height="1.55" fill="#50d059"/><rect x="180.2" y="299.19" width="1.6" height="1.55" fill="#51d058"/><rect x="181.75" y="299.19" width="1.6" height="1.55" fill="#50d05b"/><rect x="183.3" y="299.19" width="1.6" height="1.55" fill="#50d199"/><rect x="184.85" y="299.19" width="1.6" height="1.55" fill="#50d18b"/><rect x="186.4" y="299.19" width="1.6" height="1.55" fill="#60d14e"/><rect x="187.95" y="299.19" width="1.6" height="1.55" fill="#71d242"/><rect x="189.5" y="299.19" width="1.6" height="1.55" fill="#67d149"/><rect x="191.05" y="299.19" width="1.6" height="1.55" fill="#52d057"/><rect x="177.1" y="300.69" width="1.6" height="1.55" fill="#50d073"/><rect x="178.65" y="300.69" width="1.6" height="1.55" fill="#50d06d"/><rect x="180.2" y="300.69" width="1.6" height="1.55" fill="#50d072"/><rect x="181.75" y="300.69" width="1.6" height="1.55" fill="#51d058"/><rect x="183.3" y="300.69" width="1.6" height="1.55" fill="#50d19b"/><rect x="184.85" y="300.69" width="1.6" height="1.55" fill="#50d060"/><rect x="186.4" y="300.69" width="1.6" height="1.55" fill="#64d14b"/><rect x="187.95" y="300.69" width="1.6" height="1.55" fill="#53d057"/><rect x="189.5" y="300.69" width="1.6" height="1.55" fill="#56d055"/><rect x="191.05" y="300.69" width="1.6" height="1.55" fill="#50d07d"/><rect x="177.1" y="302.19" width="1.6" height="1.55" fill="#50d186"/><rect x="178.65" y="302.19" width="1.6" height="1.55" fill="#50d18d"/><rect x="180.2" y="302.19" width="1.6" height="1.55" fill="#50d067"/><rect x="181.75" y="302.19" width="1.6" height="1.55" fill="#50d05f"/><rect x="183.3" y="302.19" width="1.6" height="1.55" fill="#50d07b"/><rect x="184.85" y="302.19" width="1.6" height="1.55" fill="#50d059"/><rect x="186.4" y="302.19" width="1.6" height="1.55" fill="#62d14d"/><rect x="187.95" y="302.19" width="1.6" height="1.55" fill="#50d069"/><rect x="189.5" y="302.19" width="1.6" height="1.55" fill="#50d067"/><rect x="191.05" y="302.19" width="1.6" height="1.55" fill="#50d074"/><rect x="177.1" y="303.68" width="1.6" height="1.55" fill="#50d064"/><rect x="178.65" y="303.68" width="1.6" height="1.55" fill="#50d18b"/><rect x="180.2" y="303.68" width="1.6" height="1.55" fill="#50d194"/><rect x="181.75" y="303.68" width="1.6" height="1.55" fill="#50d1a0"/><rect x="183.3" y="303.68" width="1.6" height="1.55" fill="#50d18a"/><rect x="184.85" y="303.68" width="1.6" height="1.55" fill="#51d058"/><rect x="186.4" y="303.68" width="1.6" height="1.55" fill="#58d053"/><rect x="187.95" y="303.68" width="1.6" height="1.55" fill="#50d187"/><rect x="189.5" y="303.68" width="1.6" height="1.55" fill="#50d080"/><rect x="191.05" y="303.68" width="1.6" height="1.55" fill="#50d188"/><rect x="177.1" y="305.18" width="1.6" height="1.55" fill="#50d06d"/><rect x="178.65" y="305.18" width="1.6" height="1.55" fill="#50d07e"/><rect x="180.2" y="305.18" width="1.6" height="1.55" fill="#50d1a0"/><rect x="181.75" y="305.18" width="1.6" height="1.55" fill="#4dd4d0"/><rect x="183.3" y="305.18" width="1.6" height="1.55" fill="#50d078"/><rect x="184.85" y="305.18" width="1.6" height="1.55" fill="#50d064"/><rect x="186.4" y="305.18" width="1.6" height="1.55" fill="#56d055"/><rect x="187.95" y="305.18" width="1.6" height="1.55" fill="#50d06f"/><rect x="189.5" y="305.18" width="1.6" height="1.55" fill="#50d07c"/><rect x="191.05" y="305.18" width="1.6" height="1.55" fill="#50d072"/><rect x="177.1" y="306.68" width="1.6" height="1.55" fill="#50d072"/><rect x="178.65" y="306.68" width="1.6" height="1.55" fill="#50d07c"/><rect x="180.2" y="306.68" width="1.6" height="1.55" fill="#50d19b"/><rect x="181.75" y="306.68" width="1.6" height="1.55" fill="#4ed3c3"/><rect x="183.3" y="306.68" width="1.6" height="1.55" fill="#50d07a"/><rect x="184.85" y="306.68" width="1.6" height="1.55" fill="#5dd150"/><rect x="186.4" y="306.68" width="1.6" height="1.55" fill="#55d056"/><rect x="187.95" y="306.68" width="1.6" height="1.55" fill="#50d05b"/><rect x="189.5" y="306.68" width="1.6" height="1.55" fill="#50d061"/><rect x="191.05" y="306.68" width="1.6" height="1.55" fill="#50d06c"/><rect x="177.1" y="308.17" width="1.6" height="1.55" fill="#50d080"/><rect x="178.65" y="308.17" width="1.6" height="1.55" fill="#50d190"/><rect x="180.2" y="308.17" width="1.6" height="1.55" fill="#4fd2ac"/><rect x="181.75" y="308.17" width="1.6" height="1.55" fill="#4dd4ca"/><rect x="183.3" y="308.17" width="1.6" height="1.55" fill="#50d063"/><rect x="184.85" y="308.17" width="1.6" height="1.55" fill="#67d149"/><rect x="186.4" y="308.17" width="1.6" height="1.55" fill="#55d056"/><rect x="187.95" y="308.17" width="1.6" height="1.55" fill="#50d068"/><rect x="189.5" y="308.17" width="1.6" height="1.55" fill="#54d056"/><rect x="191.05" y="308.17" width="1.6" height="1.55" fill="#50d06e"/><rect x="177.1" y="309.67" width="1.6" height="1.55" fill="#50d198"/><rect x="178.65" y="309.67" width="1.6" height="1.55" fill="#4fd2b3"/><rect x="180.2" y="309.67" width="1.6" height="1.55" fill="#4ed3b7"/><rect x="181.75" y="309.67" width="1.6" height="1.55" fill="#50d19d"/><rect x="183.3" y="309.67" width="1.6" height="1.55" fill="#5ad052"/><rect x="184.85" y="309.67" width="1.6" height="1.55" fill="#5fd14f"/><rect x="186.4" y="309.67" width="1.6" height="1.55" fill="#56d055"/><rect x="187.95" y="309.67" width="1.6" height="1.55" fill="#51d058"/><rect x="189.5" y="309.67" width="1.6" height="1.55" fill="#50d076"/><rect x="191.05" y="309.67" width="1.6" height="1.55" fill="#50d19f"/><rect x="177.1" y="311.17" width="1.6" height="1.55" fill="#4dd4c6"/><rect x="178.65" y="311.17" width="1.6" height="1.55" fill="#4fd2ad"/><rect x="180.2" y="311.17" width="1.6" height="1.55" fill="#4fd2ab"/><rect x="181.75" y="311.17" width="1.6" height="1.55" fill="#50d068"/><rect x="183.3" y="311.17" width="1.6" height="1.55" fill="#5ad052"/><rect x="184.85" y="311.17" width="1.6" height="1.55" fill="#58d054"/><rect x="186.4" y="311.17" width="1.6" height="1.55" fill="#50d05a"/><rect x="187.95" y="311.17" width="1.6" height="1.55" fill="#50d080"/><rect x="189.5" y="311.17" width="1.6" height="1.55" fill="#50d18a"/><rect x="191.05" y="311.17" width="1.6" height="1.55" fill="#50d19c"/><rect x="177.1" y="312.66" width="1.6" height="1.55" fill="#4ed3be"/><rect x="178.65" y="312.66" width="1.6" height="1.55" fill="#4fd2b4"/><rect x="180.2" y="312.66" width="1.6" height="1.55" fill="#50d188"/><rect x="181.75" y="312.66" width="1.6" height="1.55" fill="#58d053"/><rect x="183.3" y="312.66" width="1.6" height="1.55" fill="#50d063"/><rect x="184.85" y="312.66" width="1.6" height="1.55" fill="#50d07e"/><rect x="186.4" y="312.66" width="1.6" height="1.55" fill="#50d194"/><rect x="187.95" y="312.66" width="1.6" height="1.55" fill="#50d188"/><rect x="189.5" y="312.66" width="1.6" height="1.55" fill="#4fd2ab"/><rect x="191.05" y="312.66" width="1.6" height="1.55" fill="#4fd2b0"/><rect x="177.1" y="314.16" width="1.6" height="1.55" fill="#4cd5da"/><rect x="178.65" y="314.16" width="1.6" height="1.55" fill="#4dd4ce"/><rect x="180.2" y="314.16" width="1.6" height="1.55" fill="#50d071"/><rect x="181.75" y="314.16" width="1.6" height="1.55" fill="#50d184"/><rect x="183.3" y="314.16" width="1.6" height="1.55" fill="#50d1a5"/><rect x="184.85" y="314.16" width="1.6" height="1.55" fill="#4dd4cc"/><rect x="186.4" y="314.16" width="1.6" height="1.55" fill="#4dd4c7"/><rect x="187.95" y="314.16" width="1.6" height="1.55" fill="#4ed3bf"/><rect x="189.5" y="314.16" width="1.6" height="1.55" fill="#50d199"/><rect x="191.05" y="314.16" width="1.6" height="1.55" fill="#4dd4c7"/><rect x="177.1" y="315.66" width="1.6" height="1.55" fill="#4cd5dd"/><rect x="178.65" y="315.66" width="1.6" height="1.55" fill="#4cd5d3"/><rect x="180.2" y="315.66" width="1.6" height="1.55" fill="#50d18c"/><rect x="181.75" y="315.66" width="1.6" height="1.55" fill="#4ed3bf"/><rect x="183.3" y="315.66" width="1.6" height="1.55" fill="#4ad4eb"/><rect x="184.85" y="315.66" width="1.6" height="1.55" fill="#4bd6e0"/><rect x="186.4" y="315.66" width="1.6" height="1.55" fill="#4dd4cd"/><rect x="187.95" y="315.66" width="1.6" height="1.55" fill="#4ed3bd"/><rect x="189.5" y="315.66" width="1.6" height="1.55" fill="#50d19c"/><rect x="191.05" y="315.66" width="1.6" height="1.55" fill="#4dd4c9"/><rect x="177.1" y="317.15" width="1.6" height="1.55" fill="#49cdeb"/><rect x="178.65" y="317.15" width="1.6" height="1.55" fill="#4bd6e2"/><rect x="180.2" y="317.15" width="1.6" height="1.55" fill="#4fd2b6"/><rect x="181.75" y="317.15" width="1.6" height="1.55" fill="#4cd5d2"/><rect x="183.3" y="317.15" width="1.6" height="1.55" fill="#47c4eb"/><rect x="184.85" y="317.15" width="1.6" height="1.55" fill="#45b9eb"/><rect x="186.4" y="317.15" width="1.6" height="1.55" fill="#4dd4c4"/><rect x="187.95" y="317.15" width="1.6" height="1.55" fill="#4cd5d3"/><rect x="189.5" y="317.15" width="1.6" height="1.55" fill="#4fd2b5"/><rect x="191.05" y="317.15" width="1.6" height="1.55" fill="#4bd6e0"/><rect x="177.1" y="318.65" width="1.6" height="1.55" fill="#4bd6e3"/><rect x="178.65" y="318.65" width="1.6" height="1.55" fill="#4dd4ca"/><rect x="180.2" y="318.65" width="1.6" height="1.55" fill="#4bd6e8"/><rect x="181.75" y="318.65" width="1.6" height="1.55" fill="#46c1eb"/><rect x="183.3" y="318.65" width="1.6" height="1.55" fill="#42abeb"/><rect x="184.85" y="318.65" width="1.6" height="1.55" fill="#4cd5dc"/><rect x="186.4" y="318.65" width="1.6" height="1.55" fill="#4dd4c6"/><rect x="187.95" y="318.65" width="1.6" height="1.55" fill="#4cd5d5"/><rect x="189.5" y="318.65" width="1.6" height="1.55" fill="#50d189"/><rect x="191.05" y="318.65" width="1.6" height="1.55" fill="#50d1a9"/><rect x="177.1" y="320.15" width="1.6" height="1.55" fill="#4cd5d5"/><rect x="178.65" y="320.15" width="1.6" height="1.55" fill="#4cd5d6"/><rect x="180.2" y="320.15" width="1.6" height="1.55" fill="#48c8eb"/><rect x="181.75" y="320.15" width="1.6" height="1.55" fill="#42aceb"/><rect x="183.3" y="320.15" width="1.6" height="1.55" fill="#4ad2eb"/><rect x="184.85" y="320.15" width="1.6" height="1.55" fill="#4fd2ad"/><rect x="186.4" y="320.15" width="1.6" height="1.55" fill="#50d189"/><rect x="187.95" y="320.15" width="1.6" height="1.55" fill="#4fd2b3"/><rect x="189.5" y="320.15" width="1.6" height="1.55" fill="#50d06e"/><rect x="191.05" y="320.15" width="1.6" height="1.55" fill="#50d07c"/><rect x="177.1" y="321.64" width="1.6" height="1.55" fill="#4cd5da"/><rect x="178.65" y="321.64" width="1.6" height="1.55" fill="#48c7eb"/><rect x="180.2" y="321.64" width="1.6" height="1.55" fill="#47c2eb"/><rect x="181.75" y="321.64" width="1.6" height="1.55" fill="#4bd6e3"/><rect x="183.3" y="321.64" width="1.6" height="1.55" fill="#50d1a0"/><rect x="184.85" y="321.64" width="1.6" height="1.55" fill="#50d05d"/><rect x="186.4" y="321.64" width="1.6" height="1.55" fill="#53d057"/><rect x="187.95" y="321.64" width="1.6" height="1.55" fill="#50d06a"/><rect x="189.5" y="321.64" width="1.6" height="1.55" fill="#50d06a"/><rect x="191.05" y="321.64" width="1.6" height="1.55" fill="#50d18e"/><rect x="177.1" y="323.14" width="1.6" height="1.55" fill="#4bd6e6"/><rect x="178.65" y="323.14" width="1.6" height="1.55" fill="#47c6eb"/><rect x="180.2" y="323.14" width="1.6" height="1.55" fill="#4dd4c9"/><rect x="181.75" y="323.14" width="1.6" height="1.55" fill="#50d1a0"/><rect x="183.3" y="323.14" width="1.6" height="1.55" fill="#50d064"/><rect x="184.85" y="323.14" width="1.6" height="1.55" fill="#5bd051"/><rect x="186.4" y="323.14" width="1.6" height="1.55" fill="#54d056"/><rect x="187.95" y="323.14" width="1.6" height="1.55" fill="#51d059"/><rect x="189.5" y="323.14" width="1.6" height="1.55" fill="#50d19b"/><rect x="191.05" y="323.14" width="1.6" height="1.55" fill="#4fd2aa"/><rect x="177.1" y="324.64" width="1.6" height="1.55" fill="#4bd6e1"/><rect x="178.65" y="324.64" width="1.6" height="1.55" fill="#47c6eb"/><rect x="180.2" y="324.64" width="1.6" height="1.55" fill="#4dd4cd"/><rect x="181.75" y="324.64" width="1.6" height="1.55" fill="#4fd2b2"/><rect x="183.3" y="324.64" width="1.6" height="1.55" fill="#50d06d"/><rect x="184.85" y="324.64" width="1.6" height="1.55" fill="#50d062"/><rect x="186.4" y="324.64" width="1.6" height="1.55" fill="#50d199"/><rect x="187.95" y="324.64" width="1.6" height="1.55" fill="#50d19c"/><rect x="189.5" y="324.64" width="1.6" height="1.55" fill="#4fd2b2"/><rect x="191.05" y="324.64" width="1.6" height="1.55" fill="#4fd2b2"/><rect x="177.1" y="326.13" width="1.6" height="1.55" fill="#4cd5da"/><rect x="178.65" y="326.13" width="1.6" height="1.55" fill="#4bd6df"/><rect x="180.2" y="326.13" width="1.6" height="1.55" fill="#4cd5db"/><rect x="181.75" y="326.13" width="1.6" height="1.55" fill="#4fd2ae"/><rect x="183.3" y="326.13" width="1.6" height="1.55" fill="#50d076"/><rect x="184.85" y="326.13" width="1.6" height="1.55" fill="#4fd2b0"/><rect x="186.4" y="326.13" width="1.6" height="1.55" fill="#4fd2b6"/><rect x="187.95" y="326.13" width="1.6" height="1.55" fill="#4fd2af"/><rect x="189.5" y="326.13" width="1.6" height="1.55" fill="#4dd4ce"/><rect x="191.05" y="326.13" width="1.6" height="1.55" fill="#50d195"/><rect x="177.1" y="327.63" width="1.6" height="1.55" fill="#4dd4cf"/><rect x="178.65" y="327.63" width="1.6" height="1.55" fill="#4ad2eb"/><rect x="180.2" y="327.63" width="1.6" height="1.55" fill="#4cd5dd"/><rect x="181.75" y="327.63" width="1.6" height="1.55" fill="#4dd4c6"/><rect x="183.3" y="327.63" width="1.6" height="1.55" fill="#4fd2ad"/><rect x="184.85" y="327.63" width="1.6" height="1.55" fill="#50d1a8"/><rect x="186.4" y="327.63" width="1.6" height="1.55" fill="#50d1a3"/><rect x="187.95" y="327.63" width="1.6" height="1.55" fill="#4dd4c9"/><rect x="189.5" y="327.63" width="1.6" height="1.55" fill="#4fd2b4"/><rect x="191.05" y="327.63" width="1.6" height="1.55" fill="#4fd2b2"/><rect x="177.1" y="329.13" width="1.6" height="1.55" fill="#45b7eb"/><rect x="178.65" y="329.13" width="1.6" height="1.55" fill="#409deb"/><rect x="180.2" y="329.13" width="1.6" height="1.55" fill="#44b2eb"/><rect x="181.75" y="329.13" width="1.6" height="1.55" fill="#43b1eb"/><rect x="183.3" y="329.13" width="1.6" height="1.55" fill="#4cd5d1"/><rect x="184.85" y="329.13" width="1.6" height="1.55" fill="#4dd4cd"/><rect x="186.4" y="329.13" width="1.6" height="1.55" fill="#4fd2b5"/><rect x="187.95" y="329.13" width="1.6" height="1.55" fill="#4cd5db"/><rect x="189.5" y="329.13" width="1.6" height="1.55" fill="#4fd2b0"/><rect x="191.05" y="329.13" width="1.6" height="1.55" fill="#4dd4cc"/><rect x="177.1" y="330.62" width="1.6" height="1.55" fill="#3569ea"/><rect x="178.65" y="330.62" width="1.6" height="1.55" fill="#315ce8"/><rect x="180.2" y="330.62" width="1.6" height="1.55" fill="#3464e9"/><rect x="181.75" y="330.62" width="1.6" height="1.55" fill="#3a7feb"/><rect x="183.3" y="330.62" width="1.6" height="1.55" fill="#45b8eb"/><rect x="184.85" y="330.62" width="1.6" height="1.55" fill="#4cd5dd"/><rect x="186.4" y="330.62" width="1.6" height="1.55" fill="#4bd6df"/><rect x="187.95" y="330.62" width="1.6" height="1.55" fill="#4bd6e1"/><rect x="189.5" y="330.62" width="1.6" height="1.55" fill="#4ed3c1"/><rect x="191.05" y="330.62" width="1.6" height="1.55" fill="#4bd6e4"/><rect x="177.1" y="332.12" width="1.6" height="1.55" fill="#2b46e5"/><rect x="178.65" y="332.12" width="1.6" height="1.55" fill="#2d4be6"/><rect x="180.2" y="332.12" width="1.6" height="1.55" fill="#2f53e7"/><rect x="181.75" y="332.12" width="1.6" height="1.55" fill="#3567ea"/><rect x="183.3" y="332.12" width="1.6" height="1.55" fill="#42aaeb"/><rect x="184.85" y="332.12" width="1.6" height="1.55" fill="#4bd6e8"/><rect x="186.4" y="332.12" width="1.6" height="1.55" fill="#4ad4eb"/><rect x="187.95" y="332.12" width="1.6" height="1.55" fill="#4cd5dd"/><rect x="189.5" y="332.12" width="1.6" height="1.55" fill="#4bd6e9"/><rect x="191.05" y="332.12" width="1.6" height="1.55" fill="#48cceb"/><rect x="177.1" y="333.62" width="1.6" height="1.55" fill="#315be8"/><rect x="178.65" y="333.62" width="1.6" height="1.55" fill="#3a7feb"/><rect x="180.2" y="333.62" width="1.6" height="1.55" fill="#397deb"/><rect x="181.75" y="333.62" width="1.6" height="1.55" fill="#3f9aeb"/><rect x="183.3" y="333.62" width="1.6" height="1.55" fill="#49cceb"/><rect x="184.85" y="333.62" width="1.6" height="1.55" fill="#4ad4eb"/><rect x="186.4" y="333.62" width="1.6" height="1.55" fill="#4cd5dc"/><rect x="187.95" y="333.62" width="1.6" height="1.55" fill="#4bd6de"/><rect x="189.5" y="333.62" width="1.6" height="1.55" fill="#45b9eb"/><rect x="191.05" y="333.62" width="1.6" height="1.55" fill="#47c2eb"/><rect x="177.1" y="335.11" width="1.6" height="1.55" fill="#3e95eb"/><rect x="178.65" y="335.11" width="1.6" height="1.55" fill="#3f99eb"/><rect x="180.2" y="335.11" width="1.6" height="1.55" fill="#3c8ceb"/><rect x="181.75" y="335.11" width="1.6" height="1.55" fill="#44b2eb"/><rect x="183.3" y="335.11" width="1.6" height="1.55" fill="#45bbeb"/><rect x="184.85" y="335.11" width="1.6" height="1.55" fill="#4cd5db"/><rect x="186.4" y="335.11" width="1.6" height="1.55" fill="#4cd5d3"/><rect x="187.95" y="335.11" width="1.6" height="1.55" fill="#4bd6e0"/><rect x="189.5" y="335.11" width="1.6" height="1.55" fill="#47c6eb"/><rect x="191.05" y="335.11" width="1.6" height="1.55" fill="#4cd5d8"/><rect x="177.1" y="336.61" width="1.6" height="1.55" fill="#4cd5db"/><rect x="178.65" y="336.61" width="1.6" height="1.55" fill="#47c2eb"/><rect x="180.2" y="336.61" width="1.6" height="1.55" fill="#44b5eb"/><rect x="181.75" y="336.61" width="1.6" height="1.55" fill="#4bd6e4"/><rect x="183.3" y="336.61" width="1.6" height="1.55" fill="#4bd6de"/><rect x="184.85" y="336.61" width="1.6" height="1.55" fill="#4dd4c9"/><rect x="186.4" y="336.61" width="1.6" height="1.55" fill="#50d186"/><rect x="187.95" y="336.61" width="1.6" height="1.55" fill="#4cd5d6"/><rect x="189.5" y="336.61" width="1.6" height="1.55" fill="#4ed3b7"/><rect x="191.05" y="336.61" width="1.6" height="1.55" fill="#50d193"/><rect x="177.1" y="338.11" width="1.6" height="1.55" fill="#50d190"/><rect x="178.65" y="338.11" width="1.6" height="1.55" fill="#4ad2eb"/><rect x="180.2" y="338.11" width="1.6" height="1.55" fill="#4dd4cf"/><rect x="181.75" y="338.11" width="1.6" height="1.55" fill="#4fd2ac"/><rect x="183.3" y="338.11" width="1.6" height="1.55" fill="#4ed3b7"/><rect x="184.85" y="338.11" width="1.6" height="1.55" fill="#50d18d"/><rect x="186.4" y="338.11" width="1.6" height="1.55" fill="#50d059"/><rect x="187.95" y="338.11" width="1.6" height="1.55" fill="#4fd2b3"/><rect x="189.5" y="338.11" width="1.6" height="1.55" fill="#50d186"/><rect x="191.05" y="338.11" width="1.6" height="1.55" fill="#50d071"/><rect x="177.1" y="339.6" width="1.6" height="1.55" fill="#50d06e"/><rect x="178.65" y="339.6" width="1.6" height="1.55" fill="#4ed3c3"/><rect x="180.2" y="339.6" width="1.6" height="1.55" fill="#50d1a2"/><rect x="181.75" y="339.6" width="1.6" height="1.55" fill="#50d071"/><rect x="183.3" y="339.6" width="1.6" height="1.55" fill="#57d054"/><rect x="184.85" y="339.6" width="1.6" height="1.55" fill="#63d14c"/><rect x="186.4" y="339.6" width="1.6" height="1.55" fill="#57d054"/><rect x="187.95" y="339.6" width="1.6" height="1.55" fill="#50d07b"/><rect x="189.5" y="339.6" width="1.6" height="1.55" fill="#59d053"/><rect x="191.05" y="339.6" width="1.6" height="1.55" fill="#54d056"/></g>
</g>
<clipPath id="cl2"><rect x="271.1" y="222.8" width="58.3" height="150.3"/></clipPath>
<g clip-path="url(#cl2)">
<rect x="271.1" y="222.8" width="58.3" height="150.3" filter="url(#spk)"/>
<path d="M271.1,222.8 L272.71,223.77 C279.34,225.7 290.19,234.9 291.8,247 L271.1,247 Z" fill="#000" fill-opacity="0.56"/>
<path d="M329.4,222.8 L327.91,223.77 C322.04,225.7 312.42,234.9 311,247 L329.4,247 Z" fill="#000" fill-opacity="0.56"/>
<path d="M291.8,347.3 C290.19,360.2 279.34,370 272.71,372.07 L271.1,373.1 L271.1,347.3 Z" fill="#000" fill-opacity="0.54"/>
<path d="M311,347.3 C312.42,360.2 322.04,370 327.91,372.07 L329.4,373.1 L329.4,347.3 Z" fill="#000" fill-opacity="0.54"/>
<rect x="271.1" y="247" width="20.7" height="100.3" fill="#000" fill-opacity="0.5"/>
<rect x="311" y="247" width="18.4" height="100.3" fill="#000" fill-opacity="0.5"/>
<rect x="271.1" y="255.8" width="20.7" height="81.1" fill="#020202"/>
<rect x="311" y="255.8" width="18.4" height="81.1" fill="#020202"/>
<rect x="271.1" y="245.5" width="20.7" height="3" fill="#050505"/>
<rect x="311" y="245.5" width="18.4" height="3" fill="#050505"/>
<rect x="271.1" y="345.8" width="20.7" height="3" fill="#050505"/>
<rect x="311" y="345.8" width="18.4" height="3" fill="#050505"/>
<path d="M272.71,223.77 C279.34,225.7 290.19,234.9 291.8,247" fill="none" stroke="#121212" stroke-width="2.9"/>
<path d="M327.91,223.77 C322.04,225.7 312.42,234.9 311,247" fill="none" stroke="#121212" stroke-width="2.9"/>
<path d="M291.8,347.3 C290.19,360.2 279.34,370 272.71,372.07" fill="none" stroke="#121212" stroke-width="2.9"/>
<path d="M311,347.3 C312.42,360.2 322.04,370 327.91,372.07" fill="none" stroke="#121212" stroke-width="2.9"/>
<g opacity="0.93"><rect x="293.6" y="251.7" width="1.59" height="1.55" fill="#5bd051"/><rect x="295.14" y="251.7" width="1.59" height="1.55" fill="#60d14e"/><rect x="296.68" y="251.7" width="1.59" height="1.55" fill="#50d07f"/><rect x="298.22" y="251.7" width="1.59" height="1.55" fill="#50d19d"/><rect x="299.76" y="251.7" width="1.59" height="1.55" fill="#50d193"/><rect x="301.3" y="251.7" width="1.59" height="1.55" fill="#4ed3b8"/><rect x="302.84" y="251.7" width="1.59" height="1.55" fill="#4dd4d0"/><rect x="304.38" y="251.7" width="1.59" height="1.55" fill="#43afeb"/><rect x="305.92" y="251.7" width="1.59" height="1.55" fill="#47c4eb"/><rect x="307.46" y="251.7" width="1.59" height="1.55" fill="#42a9eb"/><rect x="293.6" y="253.2" width="1.59" height="1.55" fill="#5ed14f"/><rect x="295.14" y="253.2" width="1.59" height="1.55" fill="#5ed14f"/><rect x="296.68" y="253.2" width="1.59" height="1.55" fill="#5cd051"/><rect x="298.22" y="253.2" width="1.59" height="1.55" fill="#52d058"/><rect x="299.76" y="253.2" width="1.59" height="1.55" fill="#56d055"/><rect x="301.3" y="253.2" width="1.59" height="1.55" fill="#50d05e"/><rect x="302.84" y="253.2" width="1.59" height="1.55" fill="#50d07a"/><rect x="304.38" y="253.2" width="1.59" height="1.55" fill="#50d1a4"/><rect x="305.92" y="253.2" width="1.59" height="1.55" fill="#50d184"/><rect x="307.46" y="253.2" width="1.59" height="1.55" fill="#52d058"/><rect x="293.6" y="254.69" width="1.59" height="1.55" fill="#5dd150"/><rect x="295.14" y="254.69" width="1.59" height="1.55" fill="#57d054"/><rect x="296.68" y="254.69" width="1.59" height="1.55" fill="#54d057"/><rect x="298.22" y="254.69" width="1.59" height="1.55" fill="#50d059"/><rect x="299.76" y="254.69" width="1.59" height="1.55" fill="#50d073"/><rect x="301.3" y="254.69" width="1.59" height="1.55" fill="#50d074"/><rect x="302.84" y="254.69" width="1.59" height="1.55" fill="#50d1a0"/><rect x="304.38" y="254.69" width="1.59" height="1.55" fill="#50d1a6"/><rect x="305.92" y="254.69" width="1.59" height="1.55" fill="#50d060"/><rect x="307.46" y="254.69" width="1.59" height="1.55" fill="#62d14d"/><rect x="293.6" y="256.19" width="1.59" height="1.55" fill="#65d14a"/><rect x="295.14" y="256.19" width="1.59" height="1.55" fill="#52d058"/><rect x="296.68" y="256.19" width="1.59" height="1.55" fill="#53d057"/><rect x="298.22" y="256.19" width="1.59" height="1.55" fill="#50d065"/><rect x="299.76" y="256.19" width="1.59" height="1.55" fill="#50d078"/><rect x="301.3" y="256.19" width="1.59" height="1.55" fill="#50d189"/><rect x="302.84" y="256.19" width="1.59" height="1.55" fill="#50d080"/><rect x="304.38" y="256.19" width="1.59" height="1.55" fill="#5bd052"/><rect x="305.92" y="256.19" width="1.59" height="1.55" fill="#70d243"/><rect x="307.46" y="256.19" width="1.59" height="1.55" fill="#73d241"/><rect x="293.6" y="257.69" width="1.59" height="1.55" fill="#52d058"/><rect x="295.14" y="257.69" width="1.59" height="1.55" fill="#50d071"/><rect x="296.68" y="257.69" width="1.59" height="1.55" fill="#50d071"/><rect x="298.22" y="257.69" width="1.59" height="1.55" fill="#56d055"/><rect x="299.76" y="257.69" width="1.59" height="1.55" fill="#54d056"/><rect x="301.3" y="257.69" width="1.59" height="1.55" fill="#52d058"/><rect x="302.84" y="257.69" width="1.59" height="1.55" fill="#55d055"/><rect x="304.38" y="257.69" width="1.59" height="1.55" fill="#77d33e"/><rect x="305.92" y="257.69" width="1.59" height="1.55" fill="#95d538"/><rect x="307.46" y="257.69" width="1.59" height="1.55" fill="#7cd33b"/><rect x="293.6" y="259.18" width="1.59" height="1.55" fill="#59d053"/><rect x="295.14" y="259.18" width="1.59" height="1.55" fill="#5ad052"/><rect x="296.68" y="259.18" width="1.59" height="1.55" fill="#50d05b"/><rect x="298.22" y="259.18" width="1.59" height="1.55" fill="#50d061"/><rect x="299.76" y="259.18" width="1.59" height="1.55" fill="#63d14c"/><rect x="301.3" y="259.18" width="1.59" height="1.55" fill="#6ed244"/><rect x="302.84" y="259.18" width="1.59" height="1.55" fill="#72d242"/><rect x="304.38" y="259.18" width="1.59" height="1.55" fill="#7dd33a"/><rect x="305.92" y="259.18" width="1.59" height="1.55" fill="#7cd33a"/><rect x="307.46" y="259.18" width="1.59" height="1.55" fill="#70d243"/><rect x="293.6" y="260.68" width="1.59" height="1.55" fill="#b2d739"/><rect x="295.14" y="260.68" width="1.59" height="1.55" fill="#c3d93a"/><rect x="296.68" y="260.68" width="1.59" height="1.55" fill="#add739"/><rect x="298.22" y="260.68" width="1.59" height="1.55" fill="#9dd638"/><rect x="299.76" y="260.68" width="1.59" height="1.55" fill="#89d437"/><rect x="301.3" y="260.68" width="1.59" height="1.55" fill="#6fd243"/><rect x="302.84" y="260.68" width="1.59" height="1.55" fill="#63d14c"/><rect x="304.38" y="260.68" width="1.59" height="1.55" fill="#50d19a"/><rect x="305.92" y="260.68" width="1.59" height="1.55" fill="#50d197"/><rect x="307.46" y="260.68" width="1.59" height="1.55" fill="#4fd2b6"/><rect x="293.6" y="262.18" width="1.59" height="1.55" fill="#d4da3b"/><rect x="295.14" y="262.18" width="1.59" height="1.55" fill="#e4d33a"/><rect x="296.68" y="262.18" width="1.59" height="1.55" fill="#e4cd39"/><rect x="298.22" y="262.18" width="1.59" height="1.55" fill="#b0d739"/><rect x="299.76" y="262.18" width="1.59" height="1.55" fill="#8fd537"/><rect x="301.3" y="262.18" width="1.59" height="1.55" fill="#5fd14f"/><rect x="302.84" y="262.18" width="1.59" height="1.55" fill="#50d19a"/><rect x="304.38" y="262.18" width="1.59" height="1.55" fill="#4cd5da"/><rect x="305.92" y="262.18" width="1.59" height="1.55" fill="#4ad4eb"/><rect x="307.46" y="262.18" width="1.59" height="1.55" fill="#4cd5d2"/><rect x="293.6" y="263.67" width="1.59" height="1.55" fill="#d0da3a"/><rect x="295.14" y="263.67" width="1.59" height="1.55" fill="#e3db3b"/><rect x="296.68" y="263.67" width="1.59" height="1.55" fill="#dddb3b"/><rect x="298.22" y="263.67" width="1.59" height="1.55" fill="#85d437"/><rect x="299.76" y="263.67" width="1.59" height="1.55" fill="#67d149"/><rect x="301.3" y="263.67" width="1.59" height="1.55" fill="#50d080"/><rect x="302.84" y="263.67" width="1.59" height="1.55" fill="#4dd4cd"/><rect x="304.38" y="263.67" width="1.59" height="1.55" fill="#46bfeb"/><rect x="305.92" y="263.67" width="1.59" height="1.55" fill="#45bbeb"/><rect x="307.46" y="263.67" width="1.59" height="1.55" fill="#4cd5d5"/><rect x="293.6" y="265.17" width="1.59" height="1.55" fill="#b2d739"/><rect x="295.14" y="265.17" width="1.59" height="1.55" fill="#b6d839"/><rect x="296.68" y="265.17" width="1.59" height="1.55" fill="#94d537"/><rect x="298.22" y="265.17" width="1.59" height="1.55" fill="#66d14a"/><rect x="299.76" y="265.17" width="1.59" height="1.55" fill="#5cd051"/><rect x="301.3" y="265.17" width="1.59" height="1.55" fill="#50d06d"/><rect x="302.84" y="265.17" width="1.59" height="1.55" fill="#4dd4ce"/><rect x="304.38" y="265.17" width="1.59" height="1.55" fill="#45bbeb"/><rect x="305.92" y="265.17" width="1.59" height="1.55" fill="#4cd5dd"/><rect x="307.46" y="265.17" width="1.59" height="1.55" fill="#4fd2ad"/><rect x="293.6" y="266.67" width="1.59" height="1.55" fill="#8ad437"/><rect x="295.14" y="266.67" width="1.59" height="1.55" fill="#77d33e"/><rect x="296.68" y="266.67" width="1.59" height="1.55" fill="#65d14a"/><rect x="298.22" y="266.67" width="1.59" height="1.55" fill="#50d05b"/><rect x="299.76" y="266.67" width="1.59" height="1.55" fill="#51d059"/><rect x="301.3" y="266.67" width="1.59" height="1.55" fill="#50d186"/><rect x="302.84" y="266.67" width="1.59" height="1.55" fill="#4cd5d7"/><rect x="304.38" y="266.67" width="1.59" height="1.55" fill="#43afeb"/><rect x="305.92" y="266.67" width="1.59" height="1.55" fill="#4dd4ce"/><rect x="307.46" y="266.67" width="1.59" height="1.55" fill="#50d1a6"/><rect x="293.6" y="268.16" width="1.59" height="1.55" fill="#64d14b"/><rect x="295.14" y="268.16" width="1.59" height="1.55" fill="#65d14b"/><rect x="296.68" y="268.16" width="1.59" height="1.55" fill="#50d064"/><rect x="298.22" y="268.16" width="1.59" height="1.55" fill="#51d059"/><rect x="299.76" y="268.16" width="1.59" height="1.55" fill="#50d077"/><rect x="301.3" y="268.16" width="1.59" height="1.55" fill="#50d192"/><rect x="302.84" y="268.16" width="1.59" height="1.55" fill="#4dd4cb"/><rect x="304.38" y="268.16" width="1.59" height="1.55" fill="#46c0eb"/><rect x="305.92" y="268.16" width="1.59" height="1.55" fill="#4dd4c4"/><rect x="307.46" y="268.16" width="1.59" height="1.55" fill="#4fd2ac"/><rect x="293.6" y="269.66" width="1.59" height="1.55" fill="#50d05d"/><rect x="295.14" y="269.66" width="1.59" height="1.55" fill="#58d053"/><rect x="296.68" y="269.66" width="1.59" height="1.55" fill="#50d18f"/><rect x="298.22" y="269.66" width="1.59" height="1.55" fill="#50d073"/><rect x="299.76" y="269.66" width="1.59" height="1.55" fill="#50d187"/><rect x="301.3" y="269.66" width="1.59" height="1.55" fill="#4dd4c7"/><rect x="302.84" y="269.66" width="1.59" height="1.55" fill="#4dd4cd"/><rect x="304.38" y="269.66" width="1.59" height="1.55" fill="#4ad3eb"/><rect x="305.92" y="269.66" width="1.59" height="1.55" fill="#4cd5d4"/><rect x="307.46" y="269.66" width="1.59" height="1.55" fill="#4ed3c2"/><rect x="293.6" y="271.16" width="1.59" height="1.55" fill="#50d19e"/><rect x="295.14" y="271.16" width="1.59" height="1.55" fill="#4fd2ac"/><rect x="296.68" y="271.16" width="1.59" height="1.55" fill="#4dd4cb"/><rect x="298.22" y="271.16" width="1.59" height="1.55" fill="#4ed3c2"/><rect x="299.76" y="271.16" width="1.59" height="1.55" fill="#4cd5d9"/><rect x="301.3" y="271.16" width="1.59" height="1.55" fill="#49cceb"/><rect x="302.84" y="271.16" width="1.59" height="1.55" fill="#48c9eb"/><rect x="304.38" y="271.16" width="1.59" height="1.55" fill="#49cdeb"/><rect x="305.92" y="271.16" width="1.59" height="1.55" fill="#4cd5d6"/><rect x="307.46" y="271.16" width="1.59" height="1.55" fill="#48cceb"/><rect x="293.6" y="272.65" width="1.59" height="1.55" fill="#50d074"/><rect x="295.14" y="272.65" width="1.59" height="1.55" fill="#50d192"/><rect x="296.68" y="272.65" width="1.59" height="1.55" fill="#4fd2ad"/><rect x="298.22" y="272.65" width="1.59" height="1.55" fill="#50d193"/><rect x="299.76" y="272.65" width="1.59" height="1.55" fill="#50d1a9"/><rect x="301.3" y="272.65" width="1.59" height="1.55" fill="#50d1a0"/><rect x="302.84" y="272.65" width="1.59" height="1.55" fill="#50d196"/><rect x="304.38" y="272.65" width="1.59" height="1.55" fill="#50d187"/><rect x="305.92" y="272.65" width="1.59" height="1.55" fill="#50d073"/><rect x="307.46" y="272.65" width="1.59" height="1.55" fill="#50d19b"/><rect x="293.6" y="274.15" width="1.59" height="1.55" fill="#52d058"/><rect x="295.14" y="274.15" width="1.59" height="1.55" fill="#50d072"/><rect x="296.68" y="274.15" width="1.59" height="1.55" fill="#50d062"/><rect x="298.22" y="274.15" width="1.59" height="1.55" fill="#5bd051"/><rect x="299.76" y="274.15" width="1.59" height="1.55" fill="#50d05e"/><rect x="301.3" y="274.15" width="1.59" height="1.55" fill="#5bd051"/><rect x="302.84" y="274.15" width="1.59" height="1.55" fill="#65d14a"/><rect x="304.38" y="274.15" width="1.59" height="1.55" fill="#59d053"/><rect x="305.92" y="274.15" width="1.59" height="1.55" fill="#66d14a"/><rect x="307.46" y="274.15" width="1.59" height="1.55" fill="#5ad052"/><rect x="293.6" y="275.65" width="1.59" height="1.55" fill="#55d056"/><rect x="295.14" y="275.65" width="1.59" height="1.55" fill="#58d054"/><rect x="296.68" y="275.65" width="1.59" height="1.55" fill="#67d149"/><rect x="298.22" y="275.65" width="1.59" height="1.55" fill="#74d240"/><rect x="299.76" y="275.65" width="1.59" height="1.55" fill="#77d33e"/><rect x="301.3" y="275.65" width="1.59" height="1.55" fill="#73d241"/><rect x="302.84" y="275.65" width="1.59" height="1.55" fill="#75d23f"/><rect x="304.38" y="275.65" width="1.59" height="1.55" fill="#6cd245"/><rect x="305.92" y="275.65" width="1.59" height="1.55" fill="#78d33d"/><rect x="307.46" y="275.65" width="1.59" height="1.55" fill="#77d33e"/><rect x="293.6" y="277.14" width="1.59" height="1.55" fill="#67d149"/><rect x="295.14" y="277.14" width="1.59" height="1.55" fill="#72d241"/><rect x="296.68" y="277.14" width="1.59" height="1.55" fill="#95d537"/><rect x="298.22" y="277.14" width="1.59" height="1.55" fill="#90d537"/><rect x="299.76" y="277.14" width="1.59" height="1.55" fill="#8ed537"/><rect x="301.3" y="277.14" width="1.59" height="1.55" fill="#a3d638"/><rect x="302.84" y="277.14" width="1.59" height="1.55" fill="#aad739"/><rect x="304.38" y="277.14" width="1.59" height="1.55" fill="#97d538"/><rect x="305.92" y="277.14" width="1.59" height="1.55" fill="#a0d638"/><rect x="307.46" y="277.14" width="1.59" height="1.55" fill="#a8d738"/><rect x="293.6" y="278.64" width="1.59" height="1.55" fill="#b8d839"/><rect x="295.14" y="278.64" width="1.59" height="1.55" fill="#b9d839"/><rect x="296.68" y="278.64" width="1.59" height="1.55" fill="#e4da3b"/><rect x="298.22" y="278.64" width="1.59" height="1.55" fill="#e4db3b"/><rect x="299.76" y="278.64" width="1.59" height="1.55" fill="#c8d93a"/><rect x="301.3" y="278.64" width="1.59" height="1.55" fill="#ceda3a"/><rect x="302.84" y="278.64" width="1.59" height="1.55" fill="#d2da3b"/><rect x="304.38" y="278.64" width="1.59" height="1.55" fill="#b7d839"/><rect x="305.92" y="278.64" width="1.59" height="1.55" fill="#cad93a"/><rect x="307.46" y="278.64" width="1.59" height="1.55" fill="#c6d93a"/><rect x="293.6" y="280.14" width="1.59" height="1.55" fill="#e6bd37"/><rect x="295.14" y="280.14" width="1.59" height="1.55" fill="#e99230"/><rect x="296.68" y="280.14" width="1.59" height="1.55" fill="#e89631"/><rect x="298.22" y="280.14" width="1.59" height="1.55" fill="#e7a634"/><rect x="299.76" y="280.14" width="1.59" height="1.55" fill="#e5c839"/><rect x="301.3" y="280.14" width="1.59" height="1.55" fill="#dddb3b"/><rect x="302.84" y="280.14" width="1.59" height="1.55" fill="#e4d53a"/><rect x="304.38" y="280.14" width="1.59" height="1.55" fill="#e1db3b"/><rect x="305.92" y="280.14" width="1.59" height="1.55" fill="#cad93a"/><rect x="307.46" y="280.14" width="1.59" height="1.55" fill="#d0da3b"/><rect x="293.6" y="281.63" width="1.59" height="1.55" fill="#ea812e"/><rect x="295.14" y="281.63" width="1.59" height="1.55" fill="#e86d2a"/><rect x="296.68" y="281.63" width="1.59" height="1.55" fill="#ea802e"/><rect x="298.22" y="281.63" width="1.59" height="1.55" fill="#e89731"/><rect x="299.76" y="281.63" width="1.59" height="1.55" fill="#e6bb37"/><rect x="301.3" y="281.63" width="1.59" height="1.55" fill="#e4d93b"/><rect x="302.84" y="281.63" width="1.59" height="1.55" fill="#e4d83b"/><rect x="304.38" y="281.63" width="1.59" height="1.55" fill="#e5c338"/><rect x="305.92" y="281.63" width="1.59" height="1.55" fill="#cfda3a"/><rect x="307.46" y="281.63" width="1.59" height="1.55" fill="#dbdb3b"/><rect x="293.6" y="283.13" width="1.59" height="1.55" fill="#e98e30"/><rect x="295.14" y="283.13" width="1.59" height="1.55" fill="#e9882f"/><rect x="296.68" y="283.13" width="1.59" height="1.55" fill="#e89931"/><rect x="298.22" y="283.13" width="1.59" height="1.55" fill="#e89531"/><rect x="299.76" y="283.13" width="1.59" height="1.55" fill="#e7ab34"/><rect x="301.3" y="283.13" width="1.59" height="1.55" fill="#e4d93b"/><rect x="302.84" y="283.13" width="1.59" height="1.55" fill="#e0db3b"/><rect x="304.38" y="283.13" width="1.59" height="1.55" fill="#cdda3a"/><rect x="305.92" y="283.13" width="1.59" height="1.55" fill="#c2d93a"/><rect x="307.46" y="283.13" width="1.59" height="1.55" fill="#c5d93a"/><rect x="293.6" y="284.63" width="1.59" height="1.55" fill="#e7aa34"/><rect x="295.14" y="284.63" width="1.59" height="1.55" fill="#e6b235"/><rect x="296.68" y="284.63" width="1.59" height="1.55" fill="#e89931"/><rect x="298.22" y="284.63" width="1.59" height="1.55" fill="#e6b736"/><rect x="299.76" y="284.63" width="1.59" height="1.55" fill="#e5c538"/><rect x="301.3" y="284.63" width="1.59" height="1.55" fill="#e4d13a"/><rect x="302.84" y="284.63" width="1.59" height="1.55" fill="#d5da3b"/><rect x="304.38" y="284.63" width="1.59" height="1.55" fill="#abd739"/><rect x="305.92" y="284.63" width="1.59" height="1.55" fill="#a2d638"/><rect x="307.46" y="284.63" width="1.59" height="1.55" fill="#b7d839"/><rect x="293.6" y="286.12" width="1.59" height="1.55" fill="#e5c138"/><rect x="295.14" y="286.12" width="1.59" height="1.55" fill="#e5c638"/><rect x="296.68" y="286.12" width="1.59" height="1.55" fill="#e6b836"/><rect x="298.22" y="286.12" width="1.59" height="1.55" fill="#e4d03a"/><rect x="299.76" y="286.12" width="1.59" height="1.55" fill="#dddb3b"/><rect x="301.3" y="286.12" width="1.59" height="1.55" fill="#d4da3b"/><rect x="302.84" y="286.12" width="1.59" height="1.55" fill="#bdd83a"/><rect x="304.38" y="286.12" width="1.59" height="1.55" fill="#90d537"/><rect x="305.92" y="286.12" width="1.59" height="1.55" fill="#98d538"/><rect x="307.46" y="286.12" width="1.59" height="1.55" fill="#bfd83a"/><rect x="293.6" y="287.62" width="1.59" height="1.55" fill="#e4d63b"/><rect x="295.14" y="287.62" width="1.59" height="1.55" fill="#e4d63b"/><rect x="296.68" y="287.62" width="1.59" height="1.55" fill="#e3db3b"/><rect x="298.22" y="287.62" width="1.59" height="1.55" fill="#b4d839"/><rect x="299.76" y="287.62" width="1.59" height="1.55" fill="#d1da3b"/><rect x="301.3" y="287.62" width="1.59" height="1.55" fill="#c5d93a"/><rect x="302.84" y="287.62" width="1.59" height="1.55" fill="#b1d739"/><rect x="304.38" y="287.62" width="1.59" height="1.55" fill="#97d538"/><rect x="305.92" y="287.62" width="1.59" height="1.55" fill="#bcd839"/><rect x="307.46" y="287.62" width="1.59" height="1.55" fill="#e5ca39"/><rect x="293.6" y="289.12" width="1.59" height="1.55" fill="#c9d93a"/><rect x="295.14" y="289.12" width="1.59" height="1.55" fill="#ccda3a"/><rect x="296.68" y="289.12" width="1.59" height="1.55" fill="#a3d638"/><rect x="298.22" y="289.12" width="1.59" height="1.55" fill="#97d538"/><rect x="299.76" y="289.12" width="1.59" height="1.55" fill="#acd739"/><rect x="301.3" y="289.12" width="1.59" height="1.55" fill="#b9d839"/><rect x="302.84" y="289.12" width="1.59" height="1.55" fill="#b8d839"/><rect x="304.38" y="289.12" width="1.59" height="1.55" fill="#a4d638"/><rect x="305.92" y="289.12" width="1.59" height="1.55" fill="#bfd83a"/><rect x="307.46" y="289.12" width="1.59" height="1.55" fill="#e4d93b"/><rect x="293.6" y="290.61" width="1.59" height="1.55" fill="#bfd93a"/><rect x="295.14" y="290.61" width="1.59" height="1.55" fill="#afd739"/><rect x="296.68" y="290.61" width="1.59" height="1.55" fill="#8bd437"/><rect x="298.22" y="290.61" width="1.59" height="1.55" fill="#9cd638"/><rect x="299.76" y="290.61" width="1.59" height="1.55" fill="#bbd839"/><rect x="301.3" y="290.61" width="1.59" height="1.55" fill="#c1d93a"/><rect x="302.84" y="290.61" width="1.59" height="1.55" fill="#a6d638"/><rect x="304.38" y="290.61" width="1.59" height="1.55" fill="#b6d839"/><rect x="305.92" y="290.61" width="1.59" height="1.55" fill="#c8d93a"/><rect x="307.46" y="290.61" width="1.59" height="1.55" fill="#e4d83b"/><rect x="293.6" y="292.11" width="1.59" height="1.55" fill="#b2d739"/><rect x="295.14" y="292.11" width="1.59" height="1.55" fill="#9ad638"/><rect x="296.68" y="292.11" width="1.59" height="1.55" fill="#93d537"/><rect x="298.22" y="292.11" width="1.59" height="1.55" fill="#c3d93a"/><rect x="299.76" y="292.11" width="1.59" height="1.55" fill="#d6da3b"/><rect x="301.3" y="292.11" width="1.59" height="1.55" fill="#c1d93a"/><rect x="302.84" y="292.11" width="1.59" height="1.55" fill="#a7d738"/><rect x="304.38" y="292.11" width="1.59" height="1.55" fill="#93d537"/><rect x="305.92" y="292.11" width="1.59" height="1.55" fill="#b6d839"/><rect x="307.46" y="292.11" width="1.59" height="1.55" fill="#b0d739"/><rect x="293.6" y="293.61" width="1.59" height="1.55" fill="#acd739"/><rect x="295.14" y="293.61" width="1.59" height="1.55" fill="#9bd638"/><rect x="296.68" y="293.61" width="1.59" height="1.55" fill="#a1d638"/><rect x="298.22" y="293.61" width="1.59" height="1.55" fill="#d7db3b"/><rect x="299.76" y="293.61" width="1.59" height="1.55" fill="#dfdb3b"/><rect x="301.3" y="293.61" width="1.59" height="1.55" fill="#bfd93a"/><rect x="302.84" y="293.61" width="1.59" height="1.55" fill="#b3d839"/><rect x="304.38" y="293.61" width="1.59" height="1.55" fill="#8cd437"/><rect x="305.92" y="293.61" width="1.59" height="1.55" fill="#99d538"/><rect x="307.46" y="293.61" width="1.59" height="1.55" fill="#a5d638"/><rect x="293.6" y="295.1" width="1.59" height="1.55" fill="#bdd83a"/><rect x="295.14" y="295.1" width="1.59" height="1.55" fill="#b2d739"/><rect x="296.68" y="295.1" width="1.59" height="1.55" fill="#b8d839"/><rect x="298.22" y="295.1" width="1.59" height="1.55" fill="#c4d93a"/><rect x="299.76" y="295.1" width="1.59" height="1.55" fill="#c4d93a"/><rect x="301.3" y="295.1" width="1.59" height="1.55" fill="#a8d738"/><rect x="302.84" y="295.1" width="1.59" height="1.55" fill="#a4d638"/><rect x="304.38" y="295.1" width="1.59" height="1.55" fill="#8cd437"/><rect x="305.92" y="295.1" width="1.59" height="1.55" fill="#bbd839"/><rect x="307.46" y="295.1" width="1.59" height="1.55" fill="#ceda3a"/><rect x="293.6" y="296.6" width="1.59" height="1.55" fill="#bad839"/><rect x="295.14" y="296.6" width="1.59" height="1.55" fill="#bed83a"/><rect x="296.68" y="296.6" width="1.59" height="1.55" fill="#c7d93a"/><rect x="298.22" y="296.6" width="1.59" height="1.55" fill="#a9d738"/><rect x="299.76" y="296.6" width="1.59" height="1.55" fill="#98d538"/><rect x="301.3" y="296.6" width="1.59" height="1.55" fill="#95d537"/><rect x="302.84" y="296.6" width="1.59" height="1.55" fill="#b2d739"/><rect x="304.38" y="296.6" width="1.59" height="1.55" fill="#a7d738"/><rect x="305.92" y="296.6" width="1.59" height="1.55" fill="#e4d33a"/><rect x="307.46" y="296.6" width="1.59" height="1.55" fill="#e4d73b"/><rect x="293.6" y="298.1" width="1.59" height="1.55" fill="#9fd638"/><rect x="295.14" y="298.1" width="1.59" height="1.55" fill="#a1d638"/><rect x="296.68" y="298.1" width="1.59" height="1.55" fill="#a6d638"/><rect x="298.22" y="298.1" width="1.59" height="1.55" fill="#99d538"/><rect x="299.76" y="298.1" width="1.59" height="1.55" fill="#7bd33b"/><rect x="301.3" y="298.1" width="1.59" height="1.55" fill="#a1d638"/><rect x="302.84" y="298.1" width="1.59" height="1.55" fill="#d7da3b"/><rect x="304.38" y="298.1" width="1.59" height="1.55" fill="#c3d93a"/><rect x="305.92" y="298.1" width="1.59" height="1.55" fill="#e5cd39"/><rect x="307.46" y="298.1" width="1.59" height="1.55" fill="#e4d83b"/><rect x="293.6" y="299.6" width="1.59" height="1.55" fill="#80d337"/><rect x="295.14" y="299.6" width="1.59" height="1.55" fill="#78d33d"/><rect x="296.68" y="299.6" width="1.59" height="1.55" fill="#7dd33a"/><rect x="298.22" y="299.6" width="1.59" height="1.55" fill="#85d437"/><rect x="299.76" y="299.6" width="1.59" height="1.55" fill="#7ad33c"/><rect x="301.3" y="299.6" width="1.59" height="1.55" fill="#b3d839"/><rect x="302.84" y="299.6" width="1.59" height="1.55" fill="#dbdb3b"/><rect x="304.38" y="299.6" width="1.59" height="1.55" fill="#e0db3b"/><rect x="305.92" y="299.6" width="1.59" height="1.55" fill="#e7b035"/><rect x="307.46" y="299.6" width="1.59" height="1.55" fill="#d7da3b"/><rect x="293.6" y="301.09" width="1.59" height="1.55" fill="#7ad33c"/><rect x="295.14" y="301.09" width="1.59" height="1.55" fill="#88d437"/><rect x="296.68" y="301.09" width="1.59" height="1.55" fill="#8ed537"/><rect x="298.22" y="301.09" width="1.59" height="1.55" fill="#9fd638"/><rect x="299.76" y="301.09" width="1.59" height="1.55" fill="#a2d638"/><rect x="301.3" y="301.09" width="1.59" height="1.55" fill="#e4d83b"/><rect x="302.84" y="301.09" width="1.59" height="1.55" fill="#e5c137"/><rect x="304.38" y="301.09" width="1.59" height="1.55" fill="#e5c538"/><rect x="305.92" y="301.09" width="1.59" height="1.55" fill="#e6be37"/><rect x="307.46" y="301.09" width="1.59" height="1.55" fill="#d9db3b"/><rect x="293.6" y="302.59" width="1.59" height="1.55" fill="#7fd338"/><rect x="295.14" y="302.59" width="1.59" height="1.55" fill="#94d537"/><rect x="296.68" y="302.59" width="1.59" height="1.55" fill="#9fd638"/><rect x="298.22" y="302.59" width="1.59" height="1.55" fill="#b3d839"/><rect x="299.76" y="302.59" width="1.59" height="1.55" fill="#dcdb3b"/><rect x="301.3" y="302.59" width="1.59" height="1.55" fill="#e4d23a"/><rect x="302.84" y="302.59" width="1.59" height="1.55" fill="#e4d13a"/><rect x="304.38" y="302.59" width="1.59" height="1.55" fill="#e4d13a"/><rect x="305.92" y="302.59" width="1.59" height="1.55" fill="#dfdb3b"/><rect x="307.46" y="302.59" width="1.59" height="1.55" fill="#e4d33a"/><rect x="293.6" y="304.09" width="1.59" height="1.55" fill="#7dd33a"/><rect x="295.14" y="304.09" width="1.59" height="1.55" fill="#99d538"/><rect x="296.68" y="304.09" width="1.59" height="1.55" fill="#95d537"/><rect x="298.22" y="304.09" width="1.59" height="1.55" fill="#a6d638"/><rect x="299.76" y="304.09" width="1.59" height="1.55" fill="#bdd83a"/><rect x="301.3" y="304.09" width="1.59" height="1.55" fill="#d2da3b"/><rect x="302.84" y="304.09" width="1.59" height="1.55" fill="#c8d93a"/><rect x="304.38" y="304.09" width="1.59" height="1.55" fill="#bcd83a"/><rect x="305.92" y="304.09" width="1.59" height="1.55" fill="#b8d839"/><rect x="307.46" y="304.09" width="1.59" height="1.55" fill="#d7da3b"/><rect x="293.6" y="305.58" width="1.59" height="1.55" fill="#7ad33b"/><rect x="295.14" y="305.58" width="1.59" height="1.55" fill="#74d240"/><rect x="296.68" y="305.58" width="1.59" height="1.55" fill="#84d437"/><rect x="298.22" y="305.58" width="1.59" height="1.55" fill="#7ad33b"/><rect x="299.76" y="305.58" width="1.59" height="1.55" fill="#9ed638"/><rect x="301.3" y="305.58" width="1.59" height="1.55" fill="#98d538"/><rect x="302.84" y="305.58" width="1.59" height="1.55" fill="#7fd338"/><rect x="304.38" y="305.58" width="1.59" height="1.55" fill="#7dd33a"/><rect x="305.92" y="305.58" width="1.59" height="1.55" fill="#95d538"/><rect x="307.46" y="305.58" width="1.59" height="1.55" fill="#b0d739"/><rect x="293.6" y="307.08" width="1.59" height="1.55" fill="#58d053"/><rect x="295.14" y="307.08" width="1.59" height="1.55" fill="#58d054"/><rect x="296.68" y="307.08" width="1.59" height="1.55" fill="#54d056"/><rect x="298.22" y="307.08" width="1.59" height="1.55" fill="#59d053"/><rect x="299.76" y="307.08" width="1.59" height="1.55" fill="#6bd246"/><rect x="301.3" y="307.08" width="1.59" height="1.55" fill="#72d241"/><rect x="302.84" y="307.08" width="1.59" height="1.55" fill="#60d14e"/><rect x="304.38" y="307.08" width="1.59" height="1.55" fill="#6cd246"/><rect x="305.92" y="307.08" width="1.59" height="1.55" fill="#69d248"/><rect x="307.46" y="307.08" width="1.59" height="1.55" fill="#7ed339"/><rect x="293.6" y="308.58" width="1.59" height="1.55" fill="#55d056"/><rect x="295.14" y="308.58" width="1.59" height="1.55" fill="#53d057"/><rect x="296.68" y="308.58" width="1.59" height="1.55" fill="#50d077"/><rect x="298.22" y="308.58" width="1.59" height="1.55" fill="#61d14d"/><rect x="299.76" y="308.58" width="1.59" height="1.55" fill="#53d057"/><rect x="301.3" y="308.58" width="1.59" height="1.55" fill="#51d059"/><rect x="302.84" y="308.58" width="1.59" height="1.55" fill="#59d053"/><rect x="304.38" y="308.58" width="1.59" height="1.55" fill="#5cd051"/><rect x="305.92" y="308.58" width="1.59" height="1.55" fill="#5bd052"/><rect x="307.46" y="308.58" width="1.59" height="1.55" fill="#6cd245"/><rect x="293.6" y="310.07" width="1.59" height="1.55" fill="#6ad247"/><rect x="295.14" y="310.07" width="1.59" height="1.55" fill="#52d058"/><rect x="296.68" y="310.07" width="1.59" height="1.55" fill="#53d057"/><rect x="298.22" y="310.07" width="1.59" height="1.55" fill="#59d053"/><rect x="299.76" y="310.07" width="1.59" height="1.55" fill="#5fd14f"/><rect x="301.3" y="310.07" width="1.59" height="1.55" fill="#51d058"/><rect x="302.84" y="310.07" width="1.59" height="1.55" fill="#5ed14f"/><rect x="304.38" y="310.07" width="1.59" height="1.55" fill="#63d14c"/><rect x="305.92" y="310.07" width="1.59" height="1.55" fill="#65d14b"/><rect x="307.46" y="310.07" width="1.59" height="1.55" fill="#6cd246"/><rect x="293.6" y="311.57" width="1.59" height="1.55" fill="#6ad247"/><rect x="295.14" y="311.57" width="1.59" height="1.55" fill="#60d14e"/><rect x="296.68" y="311.57" width="1.59" height="1.55" fill="#6fd243"/><rect x="298.22" y="311.57" width="1.59" height="1.55" fill="#5ad052"/><rect x="299.76" y="311.57" width="1.59" height="1.55" fill="#5dd150"/><rect x="301.3" y="311.57" width="1.59" height="1.55" fill="#69d248"/><rect x="302.84" y="311.57" width="1.59" height="1.55" fill="#67d149"/><rect x="304.38" y="311.57" width="1.59" height="1.55" fill="#73d241"/><rect x="305.92" y="311.57" width="1.59" height="1.55" fill="#68d148"/><rect x="307.46" y="311.57" width="1.59" height="1.55" fill="#77d33e"/><rect x="293.6" y="313.07" width="1.59" height="1.55" fill="#5fd14f"/><rect x="295.14" y="313.07" width="1.59" height="1.55" fill="#5ad052"/><rect x="296.68" y="313.07" width="1.59" height="1.55" fill="#63d14c"/><rect x="298.22" y="313.07" width="1.59" height="1.55" fill="#53d057"/><rect x="299.76" y="313.07" width="1.59" height="1.55" fill="#62d14d"/><rect x="301.3" y="313.07" width="1.59" height="1.55" fill="#6cd245"/><rect x="302.84" y="313.07" width="1.59" height="1.55" fill="#76d33f"/><rect x="304.38" y="313.07" width="1.59" height="1.55" fill="#65d14a"/><rect x="305.92" y="313.07" width="1.59" height="1.55" fill="#70d243"/><rect x="307.46" y="313.07" width="1.59" height="1.55" fill="#77d33e"/><rect x="293.6" y="314.56" width="1.59" height="1.55" fill="#51d059"/><rect x="295.14" y="314.56" width="1.59" height="1.55" fill="#5dd150"/><rect x="296.68" y="314.56" width="1.59" height="1.55" fill="#66d14a"/><rect x="298.22" y="314.56" width="1.59" height="1.55" fill="#59d053"/><rect x="299.76" y="314.56" width="1.59" height="1.55" fill="#60d14e"/><rect x="301.3" y="314.56" width="1.59" height="1.55" fill="#71d242"/><rect x="302.84" y="314.56" width="1.59" height="1.55" fill="#7ed339"/><rect x="304.38" y="314.56" width="1.59" height="1.55" fill="#5dd150"/><rect x="305.92" y="314.56" width="1.59" height="1.55" fill="#7dd33a"/><rect x="307.46" y="314.56" width="1.59" height="1.55" fill="#84d437"/><rect x="293.6" y="316.06" width="1.59" height="1.55" fill="#58d053"/><rect x="295.14" y="316.06" width="1.59" height="1.55" fill="#66d14a"/><rect x="296.68" y="316.06" width="1.59" height="1.55" fill="#5cd151"/><rect x="298.22" y="316.06" width="1.59" height="1.55" fill="#6cd246"/><rect x="299.76" y="316.06" width="1.59" height="1.55" fill="#68d149"/><rect x="301.3" y="316.06" width="1.59" height="1.55" fill="#69d248"/><rect x="302.84" y="316.06" width="1.59" height="1.55" fill="#7cd33a"/><rect x="304.38" y="316.06" width="1.59" height="1.55" fill="#69d248"/><rect x="305.92" y="316.06" width="1.59" height="1.55" fill="#89d437"/><rect x="307.46" y="316.06" width="1.59" height="1.55" fill="#88d437"/><rect x="293.6" y="317.56" width="1.59" height="1.55" fill="#72d241"/><rect x="295.14" y="317.56" width="1.59" height="1.55" fill="#69d248"/><rect x="296.68" y="317.56" width="1.59" height="1.55" fill="#70d243"/><rect x="298.22" y="317.56" width="1.59" height="1.55" fill="#5fd14f"/><rect x="299.76" y="317.56" width="1.59" height="1.55" fill="#74d240"/><rect x="301.3" y="317.56" width="1.59" height="1.55" fill="#73d240"/><rect x="302.84" y="317.56" width="1.59" height="1.55" fill="#6ad247"/><rect x="304.38" y="317.56" width="1.59" height="1.55" fill="#76d33f"/><rect x="305.92" y="317.56" width="1.59" height="1.55" fill="#87d437"/><rect x="307.46" y="317.56" width="1.59" height="1.55" fill="#82d437"/><rect x="293.6" y="319.05" width="1.59" height="1.55" fill="#7dd339"/><rect x="295.14" y="319.05" width="1.59" height="1.55" fill="#6ad247"/><rect x="296.68" y="319.05" width="1.59" height="1.55" fill="#6bd246"/><rect x="298.22" y="319.05" width="1.59" height="1.55" fill="#74d240"/><rect x="299.76" y="319.05" width="1.59" height="1.55" fill="#70d242"/><rect x="301.3" y="319.05" width="1.59" height="1.55" fill="#7dd33a"/><rect x="302.84" y="319.05" width="1.59" height="1.55" fill="#7ed339"/><rect x="304.38" y="319.05" width="1.59" height="1.55" fill="#78d33d"/><rect x="305.92" y="319.05" width="1.59" height="1.55" fill="#79d33d"/><rect x="307.46" y="319.05" width="1.59" height="1.55" fill="#77d33e"/><rect x="293.6" y="320.55" width="1.59" height="1.55" fill="#7dd33a"/><rect x="295.14" y="320.55" width="1.59" height="1.55" fill="#77d33e"/><rect x="296.68" y="320.55" width="1.59" height="1.55" fill="#71d242"/><rect x="298.22" y="320.55" width="1.59" height="1.55" fill="#89d437"/><rect x="299.76" y="320.55" width="1.59" height="1.55" fill="#84d437"/><rect x="301.3" y="320.55" width="1.59" height="1.55" fill="#7ed339"/><rect x="302.84" y="320.55" width="1.59" height="1.55" fill="#7fd338"/><rect x="304.38" y="320.55" width="1.59" height="1.55" fill="#70d243"/><rect x="305.92" y="320.55" width="1.59" height="1.55" fill="#5ad052"/><rect x="307.46" y="320.55" width="1.59" height="1.55" fill="#57d054"/><rect x="293.6" y="322.05" width="1.59" height="1.55" fill="#81d337"/><rect x="295.14" y="322.05" width="1.59" height="1.55" fill="#7bd33b"/><rect x="296.68" y="322.05" width="1.59" height="1.55" fill="#6ed244"/><rect x="298.22" y="322.05" width="1.59" height="1.55" fill="#79d33d"/><rect x="299.76" y="322.05" width="1.59" height="1.55" fill="#7fd339"/><rect x="301.3" y="322.05" width="1.59" height="1.55" fill="#8bd437"/><rect x="302.84" y="322.05" width="1.59" height="1.55" fill="#79d33d"/><rect x="304.38" y="322.05" width="1.59" height="1.55" fill="#6ed244"/><rect x="305.92" y="322.05" width="1.59" height="1.55" fill="#52d058"/><rect x="307.46" y="322.05" width="1.59" height="1.55" fill="#5ed150"/><rect x="293.6" y="323.54" width="1.59" height="1.55" fill="#7ed339"/><rect x="295.14" y="323.54" width="1.59" height="1.55" fill="#7ed339"/><rect x="296.68" y="323.54" width="1.59" height="1.55" fill="#7ed339"/><rect x="298.22" y="323.54" width="1.59" height="1.55" fill="#78d33d"/><rect x="299.76" y="323.54" width="1.59" height="1.55" fill="#7ad33c"/><rect x="301.3" y="323.54" width="1.59" height="1.55" fill="#80d337"/><rect x="302.84" y="323.54" width="1.59" height="1.55" fill="#6cd246"/><rect x="304.38" y="323.54" width="1.59" height="1.55" fill="#53d057"/><rect x="305.92" y="323.54" width="1.59" height="1.55" fill="#5dd150"/><rect x="307.46" y="323.54" width="1.59" height="1.55" fill="#5dd150"/><rect x="293.6" y="325.04" width="1.59" height="1.55" fill="#7dd33a"/><rect x="295.14" y="325.04" width="1.59" height="1.55" fill="#6cd246"/><rect x="296.68" y="325.04" width="1.59" height="1.55" fill="#6fd243"/><rect x="298.22" y="325.04" width="1.59" height="1.55" fill="#6cd246"/><rect x="299.76" y="325.04" width="1.59" height="1.55" fill="#6fd244"/><rect x="301.3" y="325.04" width="1.59" height="1.55" fill="#6dd245"/><rect x="302.84" y="325.04" width="1.59" height="1.55" fill="#6cd246"/><rect x="304.38" y="325.04" width="1.59" height="1.55" fill="#5dd150"/><rect x="305.92" y="325.04" width="1.59" height="1.55" fill="#63d14c"/><rect x="307.46" y="325.04" width="1.59" height="1.55" fill="#67d149"/><rect x="293.6" y="326.54" width="1.59" height="1.55" fill="#71d242"/><rect x="295.14" y="326.54" width="1.59" height="1.55" fill="#5ad052"/><rect x="296.68" y="326.54" width="1.59" height="1.55" fill="#5dd150"/><rect x="298.22" y="326.54" width="1.59" height="1.55" fill="#56d055"/><rect x="299.76" y="326.54" width="1.59" height="1.55" fill="#6dd245"/><rect x="301.3" y="326.54" width="1.59" height="1.55" fill="#6dd245"/><rect x="302.84" y="326.54" width="1.59" height="1.55" fill="#6cd245"/><rect x="304.38" y="326.54" width="1.59" height="1.55" fill="#67d149"/><rect x="305.92" y="326.54" width="1.59" height="1.55" fill="#71d242"/><rect x="307.46" y="326.54" width="1.59" height="1.55" fill="#7ad33c"/><rect x="293.6" y="328.03" width="1.59" height="1.55" fill="#59d053"/><rect x="295.14" y="328.03" width="1.59" height="1.55" fill="#53d057"/><rect x="296.68" y="328.03" width="1.59" height="1.55" fill="#5fd14f"/><rect x="298.22" y="328.03" width="1.59" height="1.55" fill="#62d14d"/><rect x="299.76" y="328.03" width="1.59" height="1.55" fill="#6ad247"/><rect x="301.3" y="328.03" width="1.59" height="1.55" fill="#6fd244"/><rect x="302.84" y="328.03" width="1.59" height="1.55" fill="#6dd245"/><rect x="304.38" y="328.03" width="1.59" height="1.55" fill="#7bd33b"/><rect x="305.92" y="328.03" width="1.59" height="1.55" fill="#7ad33c"/><rect x="307.46" y="328.03" width="1.59" height="1.55" fill="#7dd33a"/><rect x="293.6" y="329.53" width="1.59" height="1.55" fill="#50d073"/><rect x="295.14" y="329.53" width="1.59" height="1.55" fill="#50d07a"/><rect x="296.68" y="329.53" width="1.59" height="1.55" fill="#58d054"/><rect x="298.22" y="329.53" width="1.59" height="1.55" fill="#5ed150"/><rect x="299.76" y="329.53" width="1.59" height="1.55" fill="#6dd245"/><rect x="301.3" y="329.53" width="1.59" height="1.55" fill="#7cd33a"/><rect x="302.84" y="329.53" width="1.59" height="1.55" fill="#77d33e"/><rect x="304.38" y="329.53" width="1.59" height="1.55" fill="#83d437"/><rect x="305.92" y="329.53" width="1.59" height="1.55" fill="#9ad538"/><rect x="307.46" y="329.53" width="1.59" height="1.55" fill="#73d241"/><rect x="293.6" y="331.03" width="1.59" height="1.55" fill="#50d19d"/><rect x="295.14" y="331.03" width="1.59" height="1.55" fill="#50d1a1"/><rect x="296.68" y="331.03" width="1.59" height="1.55" fill="#50d079"/><rect x="298.22" y="331.03" width="1.59" height="1.55" fill="#50d079"/><rect x="299.76" y="331.03" width="1.59" height="1.55" fill="#60d14e"/><rect x="301.3" y="331.03" width="1.59" height="1.55" fill="#6cd246"/><rect x="302.84" y="331.03" width="1.59" height="1.55" fill="#77d33e"/><rect x="304.38" y="331.03" width="1.59" height="1.55" fill="#a4d638"/><rect x="305.92" y="331.03" width="1.59" height="1.55" fill="#8cd437"/><rect x="307.46" y="331.03" width="1.59" height="1.55" fill="#7dd33a"/><rect x="293.6" y="332.52" width="1.59" height="1.55" fill="#4cd5da"/><rect x="295.14" y="332.52" width="1.59" height="1.55" fill="#4ed3c3"/><rect x="296.68" y="332.52" width="1.59" height="1.55" fill="#4dd4c4"/><rect x="298.22" y="332.52" width="1.59" height="1.55" fill="#50d19c"/><rect x="299.76" y="332.52" width="1.59" height="1.55" fill="#5ad052"/><rect x="301.3" y="332.52" width="1.59" height="1.55" fill="#63d14c"/><rect x="302.84" y="332.52" width="1.59" height="1.55" fill="#71d242"/><rect x="304.38" y="332.52" width="1.59" height="1.55" fill="#99d538"/><rect x="305.92" y="332.52" width="1.59" height="1.55" fill="#8dd437"/><rect x="307.46" y="332.52" width="1.59" height="1.55" fill="#87d437"/><rect x="293.6" y="334.02" width="1.59" height="1.55" fill="#4bd6ea"/><rect x="295.14" y="334.02" width="1.59" height="1.55" fill="#4ed3c0"/><rect x="296.68" y="334.02" width="1.59" height="1.55" fill="#4ed3c0"/><rect x="298.22" y="334.02" width="1.59" height="1.55" fill="#50d078"/><rect x="299.76" y="334.02" width="1.59" height="1.55" fill="#50d05a"/><rect x="301.3" y="334.02" width="1.59" height="1.55" fill="#6ad247"/><rect x="302.84" y="334.02" width="1.59" height="1.55" fill="#73d240"/><rect x="304.38" y="334.02" width="1.59" height="1.55" fill="#a5d638"/><rect x="305.92" y="334.02" width="1.59" height="1.55" fill="#8ed537"/><rect x="307.46" y="334.02" width="1.59" height="1.55" fill="#82d437"/><rect x="293.6" y="335.52" width="1.59" height="1.55" fill="#4dd4cf"/><rect x="295.14" y="335.52" width="1.59" height="1.55" fill="#50d1a2"/><rect x="296.68" y="335.52" width="1.59" height="1.55" fill="#50d080"/><rect x="298.22" y="335.52" width="1.59" height="1.55" fill="#50d065"/><rect x="299.76" y="335.52" width="1.59" height="1.55" fill="#5cd051"/><rect x="301.3" y="335.52" width="1.59" height="1.55" fill="#6fd243"/><rect x="302.84" y="335.52" width="1.59" height="1.55" fill="#7ad33b"/><rect x="304.38" y="335.52" width="1.59" height="1.55" fill="#99d538"/><rect x="305.92" y="335.52" width="1.59" height="1.55" fill="#99d538"/><rect x="307.46" y="335.52" width="1.59" height="1.55" fill="#95d537"/><rect x="293.6" y="337.01" width="1.59" height="1.55" fill="#4fd2ac"/><rect x="295.14" y="337.01" width="1.59" height="1.55" fill="#50d080"/><rect x="296.68" y="337.01" width="1.59" height="1.55" fill="#57d054"/><rect x="298.22" y="337.01" width="1.59" height="1.55" fill="#51d059"/><rect x="299.76" y="337.01" width="1.59" height="1.55" fill="#6ad247"/><rect x="301.3" y="337.01" width="1.59" height="1.55" fill="#78d33d"/><rect x="302.84" y="337.01" width="1.59" height="1.55" fill="#85d437"/><rect x="304.38" y="337.01" width="1.59" height="1.55" fill="#b0d739"/><rect x="305.92" y="337.01" width="1.59" height="1.55" fill="#8bd437"/><rect x="307.46" y="337.01" width="1.59" height="1.55" fill="#88d437"/><rect x="293.6" y="338.51" width="1.59" height="1.55" fill="#50d18e"/><rect x="295.14" y="338.51" width="1.59" height="1.55" fill="#50d07f"/><rect x="296.68" y="338.51" width="1.59" height="1.55" fill="#50d072"/><rect x="298.22" y="338.51" width="1.59" height="1.55" fill="#69d248"/><rect x="299.76" y="338.51" width="1.59" height="1.55" fill="#67d149"/><rect x="301.3" y="338.51" width="1.59" height="1.55" fill="#74d240"/><rect x="302.84" y="338.51" width="1.59" height="1.55" fill="#84d437"/><rect x="304.38" y="338.51" width="1.59" height="1.55" fill="#95d538"/><rect x="305.92" y="338.51" width="1.59" height="1.55" fill="#83d437"/><rect x="307.46" y="338.51" width="1.59" height="1.55" fill="#6ed244"/><rect x="293.6" y="340.01" width="1.59" height="1.55" fill="#6cd245"/><rect x="295.14" y="340.01" width="1.59" height="1.55" fill="#73d240"/><rect x="296.68" y="340.01" width="1.59" height="1.55" fill="#7dd33a"/><rect x="298.22" y="340.01" width="1.59" height="1.55" fill="#97d538"/><rect x="299.76" y="340.01" width="1.59" height="1.55" fill="#8ad437"/><rect x="301.3" y="340.01" width="1.59" height="1.55" fill="#90d537"/><rect x="302.84" y="340.01" width="1.59" height="1.55" fill="#95d537"/><rect x="304.38" y="340.01" width="1.59" height="1.55" fill="#90d537"/><rect x="305.92" y="340.01" width="1.59" height="1.55" fill="#6fd243"/><rect x="307.46" y="340.01" width="1.59" height="1.55" fill="#72d241"/><rect x="293.6" y="341.5" width="1.59" height="1.55" fill="#a7d738"/><rect x="295.14" y="341.5" width="1.59" height="1.55" fill="#d5da3b"/><rect x="296.68" y="341.5" width="1.59" height="1.55" fill="#e5cd39"/><rect x="298.22" y="341.5" width="1.59" height="1.55" fill="#cad93a"/><rect x="299.76" y="341.5" width="1.59" height="1.55" fill="#aad739"/><rect x="301.3" y="341.5" width="1.59" height="1.55" fill="#97d538"/><rect x="302.84" y="341.5" width="1.59" height="1.55" fill="#83d437"/><rect x="304.38" y="341.5" width="1.59" height="1.55" fill="#81d337"/><rect x="305.92" y="341.5" width="1.59" height="1.55" fill="#72d241"/><rect x="307.46" y="341.5" width="1.59" height="1.55" fill="#89d437"/></g>
</g>
<clipPath id="cl3"><rect x="386.4" y="221.1" width="58.3" height="154.7"/></clipPath>
<g clip-path="url(#cl3)">
<rect x="386.4" y="221.1" width="58.3" height="154.7" filter="url(#spk)"/>
<path d="M386.4,221.1 L388,222.11 C394.6,224.14 405.4,233.75 407,246.4 L386.4,246.4 Z" fill="#000" fill-opacity="0.56"/>
<path d="M444.7,221.1 L443.2,222.11 C437.3,224.14 427.63,233.75 426.2,246.4 L444.7,246.4 Z" fill="#000" fill-opacity="0.56"/>
<path d="M407,350.7 C405.4,363.25 394.6,372.79 388,374.8 L386.4,375.8 L386.4,350.7 Z" fill="#000" fill-opacity="0.54"/>
<path d="M426.2,350.7 C427.63,363.25 437.3,372.79 443.2,374.8 L444.7,375.8 L444.7,350.7 Z" fill="#000" fill-opacity="0.54"/>
<rect x="386.4" y="246.4" width="20.6" height="104.3" fill="#000" fill-opacity="0.5"/>
<rect x="426.2" y="246.4" width="18.5" height="104.3" fill="#000" fill-opacity="0.5"/>
<rect x="386.4" y="257.5" width="20.6" height="82.4" fill="#020202"/>
<rect x="426.2" y="257.5" width="18.5" height="82.4" fill="#020202"/>
<rect x="386.4" y="244.9" width="20.6" height="3" fill="#050505"/>
<rect x="426.2" y="244.9" width="18.5" height="3" fill="#050505"/>
<rect x="386.4" y="349.2" width="20.6" height="3" fill="#050505"/>
<rect x="426.2" y="349.2" width="18.5" height="3" fill="#050505"/>
<path d="M388,222.11 C394.6,224.14 405.4,233.75 407,246.4" fill="none" stroke="#121212" stroke-width="2.9"/>
<path d="M443.2,222.11 C437.3,224.14 427.63,233.75 426.2,246.4" fill="none" stroke="#121212" stroke-width="2.9"/>
<path d="M407,350.7 C405.4,363.25 394.6,372.79 388,374.8" fill="none" stroke="#121212" stroke-width="2.9"/>
<path d="M426.2,350.7 C427.63,363.25 437.3,372.79 443.2,374.8" fill="none" stroke="#121212" stroke-width="2.9"/>
<g opacity="0.93"><rect x="408.7" y="252.5" width="1.6" height="1.55" fill="#5cd051"/><rect x="410.25" y="252.5" width="1.6" height="1.55" fill="#55d056"/><rect x="411.8" y="252.5" width="1.6" height="1.55" fill="#50d196"/><rect x="413.35" y="252.5" width="1.6" height="1.55" fill="#4ed3b9"/><rect x="414.9" y="252.5" width="1.6" height="1.55" fill="#4cd5dc"/><rect x="416.45" y="252.5" width="1.6" height="1.55" fill="#47c2eb"/><rect x="418" y="252.5" width="1.6" height="1.55" fill="#42aceb"/><rect x="419.55" y="252.5" width="1.6" height="1.55" fill="#409deb"/><rect x="421.1" y="252.5" width="1.6" height="1.55" fill="#41a3eb"/><rect x="422.65" y="252.5" width="1.6" height="1.55" fill="#3f9beb"/><rect x="408.7" y="254" width="1.6" height="1.55" fill="#50d065"/><rect x="410.25" y="254" width="1.6" height="1.55" fill="#50d07d"/><rect x="411.8" y="254" width="1.6" height="1.55" fill="#4ed3b8"/><rect x="413.35" y="254" width="1.6" height="1.55" fill="#4ed3b7"/><rect x="414.9" y="254" width="1.6" height="1.55" fill="#4ed3c0"/><rect x="416.45" y="254" width="1.6" height="1.55" fill="#4bd6e1"/><rect x="418" y="254" width="1.6" height="1.55" fill="#46bfeb"/><rect x="419.55" y="254" width="1.6" height="1.55" fill="#3d91eb"/><rect x="421.1" y="254" width="1.6" height="1.55" fill="#44b3eb"/><rect x="422.65" y="254" width="1.6" height="1.55" fill="#40a0eb"/><rect x="408.7" y="255.51" width="1.6" height="1.55" fill="#50d07a"/><rect x="410.25" y="255.51" width="1.6" height="1.55" fill="#50d06b"/><rect x="411.8" y="255.51" width="1.6" height="1.55" fill="#4ed3b7"/><rect x="413.35" y="255.51" width="1.6" height="1.55" fill="#4ed3b9"/><rect x="414.9" y="255.51" width="1.6" height="1.55" fill="#4fd2b4"/><rect x="416.45" y="255.51" width="1.6" height="1.55" fill="#4ed3bd"/><rect x="418" y="255.51" width="1.6" height="1.55" fill="#48caeb"/><rect x="419.55" y="255.51" width="1.6" height="1.55" fill="#41a7eb"/><rect x="421.1" y="255.51" width="1.6" height="1.55" fill="#47c7eb"/><rect x="422.65" y="255.51" width="1.6" height="1.55" fill="#4ad5eb"/><rect x="408.7" y="257.01" width="1.6" height="1.55" fill="#50d19b"/><rect x="410.25" y="257.01" width="1.6" height="1.55" fill="#50d07a"/><rect x="411.8" y="257.01" width="1.6" height="1.55" fill="#4cd5d1"/><rect x="413.35" y="257.01" width="1.6" height="1.55" fill="#4cd5dd"/><rect x="414.9" y="257.01" width="1.6" height="1.55" fill="#4ad3eb"/><rect x="416.45" y="257.01" width="1.6" height="1.55" fill="#4bd6de"/><rect x="418" y="257.01" width="1.6" height="1.55" fill="#4cd5dc"/><rect x="419.55" y="257.01" width="1.6" height="1.55" fill="#4cd5dd"/><rect x="421.1" y="257.01" width="1.6" height="1.55" fill="#4dd4ca"/><rect x="422.65" y="257.01" width="1.6" height="1.55" fill="#4dd4d0"/><rect x="408.7" y="258.52" width="1.6" height="1.55" fill="#4ed3bb"/><rect x="410.25" y="258.52" width="1.6" height="1.55" fill="#50d199"/><rect x="411.8" y="258.52" width="1.6" height="1.55" fill="#4bd6e3"/><rect x="413.35" y="258.52" width="1.6" height="1.55" fill="#4bd6e2"/><rect x="414.9" y="258.52" width="1.6" height="1.55" fill="#4cd5dd"/><rect x="416.45" y="258.52" width="1.6" height="1.55" fill="#4fd2b5"/><rect x="418" y="258.52" width="1.6" height="1.55" fill="#4ed3c1"/><rect x="419.55" y="258.52" width="1.6" height="1.55" fill="#4dd4c7"/><rect x="421.1" y="258.52" width="1.6" height="1.55" fill="#4ed3b8"/><rect x="422.65" y="258.52" width="1.6" height="1.55" fill="#4ed3bd"/><rect x="408.7" y="260.02" width="1.6" height="1.55" fill="#50d07b"/><rect x="410.25" y="260.02" width="1.6" height="1.55" fill="#50d18b"/><rect x="411.8" y="260.02" width="1.6" height="1.55" fill="#4dd4cd"/><rect x="413.35" y="260.02" width="1.6" height="1.55" fill="#50d1a2"/><rect x="414.9" y="260.02" width="1.6" height="1.55" fill="#50d1a9"/><rect x="416.45" y="260.02" width="1.6" height="1.55" fill="#4ed3b8"/><rect x="418" y="260.02" width="1.6" height="1.55" fill="#4fd2af"/><rect x="419.55" y="260.02" width="1.6" height="1.55" fill="#50d19e"/><rect x="421.1" y="260.02" width="1.6" height="1.55" fill="#4dd4c9"/><rect x="422.65" y="260.02" width="1.6" height="1.55" fill="#4ed3c3"/><rect x="408.7" y="261.53" width="1.6" height="1.55" fill="#50d069"/><rect x="410.25" y="261.53" width="1.6" height="1.55" fill="#50d080"/><rect x="411.8" y="261.53" width="1.6" height="1.55" fill="#4fd2b0"/><rect x="413.35" y="261.53" width="1.6" height="1.55" fill="#50d184"/><rect x="414.9" y="261.53" width="1.6" height="1.55" fill="#50d19a"/><rect x="416.45" y="261.53" width="1.6" height="1.55" fill="#50d19c"/><rect x="418" y="261.53" width="1.6" height="1.55" fill="#4ed3bf"/><rect x="419.55" y="261.53" width="1.6" height="1.55" fill="#50d184"/><rect x="421.1" y="261.53" width="1.6" height="1.55" fill="#4dd4c8"/><rect x="422.65" y="261.53" width="1.6" height="1.55" fill="#4ed3c1"/><rect x="408.7" y="263.03" width="1.6" height="1.55" fill="#50d063"/><rect x="410.25" y="263.03" width="1.6" height="1.55" fill="#50d076"/><rect x="411.8" y="263.03" width="1.6" height="1.55" fill="#50d192"/><rect x="413.35" y="263.03" width="1.6" height="1.55" fill="#50d078"/><rect x="414.9" y="263.03" width="1.6" height="1.55" fill="#50d18c"/><rect x="416.45" y="263.03" width="1.6" height="1.55" fill="#4ed3b7"/><rect x="418" y="263.03" width="1.6" height="1.55" fill="#50d1a9"/><rect x="419.55" y="263.03" width="1.6" height="1.55" fill="#50d194"/><rect x="421.1" y="263.03" width="1.6" height="1.55" fill="#4dd4ce"/><rect x="422.65" y="263.03" width="1.6" height="1.55" fill="#4dd4c9"/><rect x="408.7" y="264.54" width="1.6" height="1.55" fill="#5cd051"/><rect x="410.25" y="264.54" width="1.6" height="1.55" fill="#50d063"/><rect x="411.8" y="264.54" width="1.6" height="1.55" fill="#50d06e"/><rect x="413.35" y="264.54" width="1.6" height="1.55" fill="#50d062"/><rect x="414.9" y="264.54" width="1.6" height="1.55" fill="#50d19b"/><rect x="416.45" y="264.54" width="1.6" height="1.55" fill="#4fd2af"/><rect x="418" y="264.54" width="1.6" height="1.55" fill="#4fd2b5"/><rect x="419.55" y="264.54" width="1.6" height="1.55" fill="#50d19d"/><rect x="421.1" y="264.54" width="1.6" height="1.55" fill="#50d1a8"/><rect x="422.65" y="264.54" width="1.6" height="1.55" fill="#4ed3bc"/><rect x="408.7" y="266.04" width="1.6" height="1.55" fill="#58d054"/><rect x="410.25" y="266.04" width="1.6" height="1.55" fill="#56d055"/><rect x="411.8" y="266.04" width="1.6" height="1.55" fill="#50d059"/><rect x="413.35" y="266.04" width="1.6" height="1.55" fill="#50d05b"/><rect x="414.9" y="266.04" width="1.6" height="1.55" fill="#50d18f"/><rect x="416.45" y="266.04" width="1.6" height="1.55" fill="#50d1a0"/><rect x="418" y="266.04" width="1.6" height="1.55" fill="#50d18d"/><rect x="419.55" y="266.04" width="1.6" height="1.55" fill="#50d07c"/><rect x="421.1" y="266.04" width="1.6" height="1.55" fill="#50d06b"/><rect x="422.65" y="266.04" width="1.6" height="1.55" fill="#50d191"/><rect x="408.7" y="267.55" width="1.6" height="1.55" fill="#5ed14f"/><rect x="410.25" y="267.55" width="1.6" height="1.55" fill="#55d056"/><rect x="411.8" y="267.55" width="1.6" height="1.55" fill="#50d05f"/><rect x="413.35" y="267.55" width="1.6" height="1.55" fill="#50d059"/><rect x="414.9" y="267.55" width="1.6" height="1.55" fill="#50d076"/><rect x="416.45" y="267.55" width="1.6" height="1.55" fill="#55d055"/><rect x="418" y="267.55" width="1.6" height="1.55" fill="#5ad052"/><rect x="419.55" y="267.55" width="1.6" height="1.55" fill="#53d057"/><rect x="421.1" y="267.55" width="1.6" height="1.55" fill="#50d061"/><rect x="422.65" y="267.55" width="1.6" height="1.55" fill="#50d06e"/><rect x="408.7" y="269.05" width="1.6" height="1.55" fill="#54d057"/><rect x="410.25" y="269.05" width="1.6" height="1.55" fill="#54d057"/><rect x="411.8" y="269.05" width="1.6" height="1.55" fill="#50d060"/><rect x="413.35" y="269.05" width="1.6" height="1.55" fill="#50d05e"/><rect x="414.9" y="269.05" width="1.6" height="1.55" fill="#50d05f"/><rect x="416.45" y="269.05" width="1.6" height="1.55" fill="#5fd14f"/><rect x="418" y="269.05" width="1.6" height="1.55" fill="#59d053"/><rect x="419.55" y="269.05" width="1.6" height="1.55" fill="#51d059"/><rect x="421.1" y="269.05" width="1.6" height="1.55" fill="#50d063"/><rect x="422.65" y="269.05" width="1.6" height="1.55" fill="#50d1a2"/><rect x="408.7" y="270.56" width="1.6" height="1.55" fill="#53d057"/><rect x="410.25" y="270.56" width="1.6" height="1.55" fill="#55d055"/><rect x="411.8" y="270.56" width="1.6" height="1.55" fill="#5fd14f"/><rect x="413.35" y="270.56" width="1.6" height="1.55" fill="#50d06a"/><rect x="414.9" y="270.56" width="1.6" height="1.55" fill="#66d149"/><rect x="416.45" y="270.56" width="1.6" height="1.55" fill="#68d148"/><rect x="418" y="270.56" width="1.6" height="1.55" fill="#59d053"/><rect x="419.55" y="270.56" width="1.6" height="1.55" fill="#50d07a"/><rect x="421.1" y="270.56" width="1.6" height="1.55" fill="#50d062"/><rect x="422.65" y="270.56" width="1.6" height="1.55" fill="#50d19d"/><rect x="408.7" y="272.06" width="1.6" height="1.55" fill="#5ed14f"/><rect x="410.25" y="272.06" width="1.6" height="1.55" fill="#5fd14e"/><rect x="411.8" y="272.06" width="1.6" height="1.55" fill="#64d14b"/><rect x="413.35" y="272.06" width="1.6" height="1.55" fill="#55d056"/><rect x="414.9" y="272.06" width="1.6" height="1.55" fill="#64d14b"/><rect x="416.45" y="272.06" width="1.6" height="1.55" fill="#67d149"/><rect x="418" y="272.06" width="1.6" height="1.55" fill="#52d058"/><rect x="419.55" y="272.06" width="1.6" height="1.55" fill="#50d07b"/><rect x="421.1" y="272.06" width="1.6" height="1.55" fill="#50d06a"/><rect x="422.65" y="272.06" width="1.6" height="1.55" fill="#50d198"/><rect x="408.7" y="273.57" width="1.6" height="1.55" fill="#63d14c"/><rect x="410.25" y="273.57" width="1.6" height="1.55" fill="#72d242"/><rect x="411.8" y="273.57" width="1.6" height="1.55" fill="#62d14d"/><rect x="413.35" y="273.57" width="1.6" height="1.55" fill="#58d053"/><rect x="414.9" y="273.57" width="1.6" height="1.55" fill="#5fd14f"/><rect x="416.45" y="273.57" width="1.6" height="1.55" fill="#5ed150"/><rect x="418" y="273.57" width="1.6" height="1.55" fill="#53d057"/><rect x="419.55" y="273.57" width="1.6" height="1.55" fill="#56d055"/><rect x="421.1" y="273.57" width="1.6" height="1.55" fill="#50d06e"/><rect x="422.65" y="273.57" width="1.6" height="1.55" fill="#50d061"/><rect x="408.7" y="275.07" width="1.6" height="1.55" fill="#6ed244"/><rect x="410.25" y="275.07" width="1.6" height="1.55" fill="#72d242"/><rect x="411.8" y="275.07" width="1.6" height="1.55" fill="#67d149"/><rect x="413.35" y="275.07" width="1.6" height="1.55" fill="#65d14a"/><rect x="414.9" y="275.07" width="1.6" height="1.55" fill="#6ad247"/><rect x="416.45" y="275.07" width="1.6" height="1.55" fill="#6ad247"/><rect x="418" y="275.07" width="1.6" height="1.55" fill="#5ad052"/><rect x="419.55" y="275.07" width="1.6" height="1.55" fill="#5ad052"/><rect x="421.1" y="275.07" width="1.6" height="1.55" fill="#5cd151"/><rect x="422.65" y="275.07" width="1.6" height="1.55" fill="#5ed14f"/><rect x="408.7" y="276.58" width="1.6" height="1.55" fill="#80d338"/><rect x="410.25" y="276.58" width="1.6" height="1.55" fill="#87d437"/><rect x="411.8" y="276.58" width="1.6" height="1.55" fill="#70d243"/><rect x="413.35" y="276.58" width="1.6" height="1.55" fill="#6ed244"/><rect x="414.9" y="276.58" width="1.6" height="1.55" fill="#74d240"/><rect x="416.45" y="276.58" width="1.6" height="1.55" fill="#6ed244"/><rect x="418" y="276.58" width="1.6" height="1.55" fill="#6bd247"/><rect x="419.55" y="276.58" width="1.6" height="1.55" fill="#82d437"/><rect x="421.1" y="276.58" width="1.6" height="1.55" fill="#76d33f"/><rect x="422.65" y="276.58" width="1.6" height="1.55" fill="#7bd33b"/><rect x="408.7" y="278.08" width="1.6" height="1.55" fill="#7dd33a"/><rect x="410.25" y="278.08" width="1.6" height="1.55" fill="#82d437"/><rect x="411.8" y="278.08" width="1.6" height="1.55" fill="#71d242"/><rect x="413.35" y="278.08" width="1.6" height="1.55" fill="#7bd33b"/><rect x="414.9" y="278.08" width="1.6" height="1.55" fill="#81d337"/><rect x="416.45" y="278.08" width="1.6" height="1.55" fill="#77d33e"/><rect x="418" y="278.08" width="1.6" height="1.55" fill="#86d437"/><rect x="419.55" y="278.08" width="1.6" height="1.55" fill="#a3d638"/><rect x="421.1" y="278.08" width="1.6" height="1.55" fill="#9ad638"/><rect x="422.65" y="278.08" width="1.6" height="1.55" fill="#92d537"/><rect x="408.7" y="279.59" width="1.6" height="1.55" fill="#87d437"/><rect x="410.25" y="279.59" width="1.6" height="1.55" fill="#91d537"/><rect x="411.8" y="279.59" width="1.6" height="1.55" fill="#92d537"/><rect x="413.35" y="279.59" width="1.6" height="1.55" fill="#a4d638"/><rect x="414.9" y="279.59" width="1.6" height="1.55" fill="#9bd638"/><rect x="416.45" y="279.59" width="1.6" height="1.55" fill="#86d437"/><rect x="418" y="279.59" width="1.6" height="1.55" fill="#99d538"/><rect x="419.55" y="279.59" width="1.6" height="1.55" fill="#bad839"/><rect x="421.1" y="279.59" width="1.6" height="1.55" fill="#9dd638"/><rect x="422.65" y="279.59" width="1.6" height="1.55" fill="#a8d738"/><rect x="408.7" y="281.09" width="1.6" height="1.55" fill="#a3d638"/><rect x="410.25" y="281.09" width="1.6" height="1.55" fill="#d0da3a"/><rect x="411.8" y="281.09" width="1.6" height="1.55" fill="#b9d839"/><rect x="413.35" y="281.09" width="1.6" height="1.55" fill="#e1db3b"/><rect x="414.9" y="281.09" width="1.6" height="1.55" fill="#b6d839"/><rect x="416.45" y="281.09" width="1.6" height="1.55" fill="#b4d839"/><rect x="418" y="281.09" width="1.6" height="1.55" fill="#add739"/><rect x="419.55" y="281.09" width="1.6" height="1.55" fill="#afd739"/><rect x="421.1" y="281.09" width="1.6" height="1.55" fill="#afd739"/><rect x="422.65" y="281.09" width="1.6" height="1.55" fill="#b9d839"/><rect x="408.7" y="282.6" width="1.6" height="1.55" fill="#e3db3b"/><rect x="410.25" y="282.6" width="1.6" height="1.55" fill="#e5c338"/><rect x="411.8" y="282.6" width="1.6" height="1.55" fill="#e5cb39"/><rect x="413.35" y="282.6" width="1.6" height="1.55" fill="#e5c939"/><rect x="414.9" y="282.6" width="1.6" height="1.55" fill="#d1da3b"/><rect x="416.45" y="282.6" width="1.6" height="1.55" fill="#d5da3b"/><rect x="418" y="282.6" width="1.6" height="1.55" fill="#a7d738"/><rect x="419.55" y="282.6" width="1.6" height="1.55" fill="#95d537"/><rect x="421.1" y="282.6" width="1.6" height="1.55" fill="#bbd839"/><rect x="422.65" y="282.6" width="1.6" height="1.55" fill="#d8db3b"/><rect x="408.7" y="284.1" width="1.6" height="1.55" fill="#e7ab34"/><rect x="410.25" y="284.1" width="1.6" height="1.55" fill="#e89831"/><rect x="411.8" y="284.1" width="1.6" height="1.55" fill="#e7a633"/><rect x="413.35" y="284.1" width="1.6" height="1.55" fill="#e7af35"/><rect x="414.9" y="284.1" width="1.6" height="1.55" fill="#e5c839"/><rect x="416.45" y="284.1" width="1.6" height="1.55" fill="#dddb3b"/><rect x="418" y="284.1" width="1.6" height="1.55" fill="#cfda3a"/><rect x="419.55" y="284.1" width="1.6" height="1.55" fill="#a5d638"/><rect x="421.1" y="284.1" width="1.6" height="1.55" fill="#ceda3a"/><rect x="422.65" y="284.1" width="1.6" height="1.55" fill="#e4d43a"/><rect x="408.7" y="285.61" width="1.6" height="1.55" fill="#e9872f"/><rect x="410.25" y="285.61" width="1.6" height="1.55" fill="#ea832e"/><rect x="411.8" y="285.61" width="1.6" height="1.55" fill="#e8a033"/><rect x="413.35" y="285.61" width="1.6" height="1.55" fill="#e6b235"/><rect x="414.9" y="285.61" width="1.6" height="1.55" fill="#e7a634"/><rect x="416.45" y="285.61" width="1.6" height="1.55" fill="#e7a533"/><rect x="418" y="285.61" width="1.6" height="1.55" fill="#e5ca39"/><rect x="419.55" y="285.61" width="1.6" height="1.55" fill="#d2da3b"/><rect x="421.1" y="285.61" width="1.6" height="1.55" fill="#e5c037"/><rect x="422.65" y="285.61" width="1.6" height="1.55" fill="#e5c839"/><rect x="408.7" y="287.11" width="1.6" height="1.55" fill="#e89b32"/><rect x="410.25" y="287.11" width="1.6" height="1.55" fill="#ea7b2d"/><rect x="411.8" y="287.11" width="1.6" height="1.55" fill="#e8a233"/><rect x="413.35" y="287.11" width="1.6" height="1.55" fill="#e7a533"/><rect x="414.9" y="287.11" width="1.6" height="1.55" fill="#e89d32"/><rect x="416.45" y="287.11" width="1.6" height="1.55" fill="#e7a834"/><rect x="418" y="287.11" width="1.6" height="1.55" fill="#e6b135"/><rect x="419.55" y="287.11" width="1.6" height="1.55" fill="#e4d43a"/><rect x="421.1" y="287.11" width="1.6" height="1.55" fill="#e5ca39"/><rect x="422.65" y="287.11" width="1.6" height="1.55" fill="#e5cd39"/><rect x="408.7" y="288.62" width="1.6" height="1.55" fill="#e8a233"/><rect x="410.25" y="288.62" width="1.6" height="1.55" fill="#e9872f"/><rect x="411.8" y="288.62" width="1.6" height="1.55" fill="#e99331"/><rect x="413.35" y="288.62" width="1.6" height="1.55" fill="#ea762c"/><rect x="414.9" y="288.62" width="1.6" height="1.55" fill="#ea7c2d"/><rect x="416.45" y="288.62" width="1.6" height="1.55" fill="#ea812e"/><rect x="418" y="288.62" width="1.6" height="1.55" fill="#e98c30"/><rect x="419.55" y="288.62" width="1.6" height="1.55" fill="#e5c138"/><rect x="421.1" y="288.62" width="1.6" height="1.55" fill="#e5bf37"/><rect x="422.65" y="288.62" width="1.6" height="1.55" fill="#e6b235"/><rect x="408.7" y="290.12" width="1.6" height="1.55" fill="#e89531"/><rect x="410.25" y="290.12" width="1.6" height="1.55" fill="#ea7e2d"/><rect x="411.8" y="290.12" width="1.6" height="1.55" fill="#e96f2b"/><rect x="413.35" y="290.12" width="1.6" height="1.55" fill="#e76829"/><rect x="414.9" y="290.12" width="1.6" height="1.55" fill="#e96f2b"/><rect x="416.45" y="290.12" width="1.6" height="1.55" fill="#ea752c"/><rect x="418" y="290.12" width="1.6" height="1.55" fill="#e99331"/><rect x="419.55" y="290.12" width="1.6" height="1.55" fill="#e6bc37"/><rect x="421.1" y="290.12" width="1.6" height="1.55" fill="#e4d63b"/><rect x="422.65" y="290.12" width="1.6" height="1.55" fill="#e7ae35"/><rect x="408.7" y="291.63" width="1.6" height="1.55" fill="#e89e32"/><rect x="410.25" y="291.63" width="1.6" height="1.55" fill="#ea762c"/><rect x="411.8" y="291.63" width="1.6" height="1.55" fill="#e76829"/><rect x="413.35" y="291.63" width="1.6" height="1.55" fill="#ea7a2d"/><rect x="414.9" y="291.63" width="1.6" height="1.55" fill="#ea862f"/><rect x="416.45" y="291.63" width="1.6" height="1.55" fill="#e98b2f"/><rect x="418" y="291.63" width="1.6" height="1.55" fill="#e7a834"/><rect x="419.55" y="291.63" width="1.6" height="1.55" fill="#e7b035"/><rect x="421.1" y="291.63" width="1.6" height="1.55" fill="#e5c538"/><rect x="422.65" y="291.63" width="1.6" height="1.55" fill="#e5c037"/><rect x="408.7" y="293.13" width="1.6" height="1.55" fill="#ea7e2e"/><rect x="410.25" y="293.13" width="1.6" height="1.55" fill="#e55a27"/><rect x="411.8" y="293.13" width="1.6" height="1.55" fill="#e45726"/><rect x="413.35" y="293.13" width="1.6" height="1.55" fill="#e76629"/><rect x="414.9" y="293.13" width="1.6" height="1.55" fill="#e9722b"/><rect x="416.45" y="293.13" width="1.6" height="1.55" fill="#e99030"/><rect x="418" y="293.13" width="1.6" height="1.55" fill="#e7a433"/><rect x="419.55" y="293.13" width="1.6" height="1.55" fill="#e5c338"/><rect x="421.1" y="293.13" width="1.6" height="1.55" fill="#e4d03a"/><rect x="422.65" y="293.13" width="1.6" height="1.55" fill="#dcdb3b"/><rect x="408.7" y="294.64" width="1.6" height="1.55" fill="#e24b24"/><rect x="410.25" y="294.64" width="1.6" height="1.55" fill="#e14723"/><rect x="411.8" y="294.64" width="1.6" height="1.55" fill="#dc2f1e"/><rect x="413.35" y="294.64" width="1.6" height="1.55" fill="#e76829"/><rect x="414.9" y="294.64" width="1.6" height="1.55" fill="#e55d27"/><rect x="416.45" y="294.64" width="1.6" height="1.55" fill="#ea732c"/><rect x="418" y="294.64" width="1.6" height="1.55" fill="#e7af35"/><rect x="419.55" y="294.64" width="1.6" height="1.55" fill="#dbdb3b"/><rect x="421.1" y="294.64" width="1.6" height="1.55" fill="#d8db3b"/><rect x="422.65" y="294.64" width="1.6" height="1.55" fill="#ceda3a"/><rect x="408.7" y="296.14" width="1.6" height="1.55" fill="#e24b24"/><rect x="410.25" y="296.14" width="1.6" height="1.55" fill="#de3a20"/><rect x="411.8" y="296.14" width="1.6" height="1.55" fill="#dd351f"/><rect x="413.35" y="296.14" width="1.6" height="1.55" fill="#e66228"/><rect x="414.9" y="296.14" width="1.6" height="1.55" fill="#e66128"/><rect x="416.45" y="296.14" width="1.6" height="1.55" fill="#ea822e"/><rect x="418" y="296.14" width="1.6" height="1.55" fill="#e5c238"/><rect x="419.55" y="296.14" width="1.6" height="1.55" fill="#b9d839"/><rect x="421.1" y="296.14" width="1.6" height="1.55" fill="#bfd93a"/><rect x="422.65" y="296.14" width="1.6" height="1.55" fill="#b8d839"/><rect x="408.7" y="297.65" width="1.6" height="1.55" fill="#e86a2a"/><rect x="410.25" y="297.65" width="1.6" height="1.55" fill="#e55a27"/><rect x="411.8" y="297.65" width="1.6" height="1.55" fill="#e45926"/><rect x="413.35" y="297.65" width="1.6" height="1.55" fill="#ea7e2d"/><rect x="414.9" y="297.65" width="1.6" height="1.55" fill="#e98c30"/><rect x="416.45" y="297.65" width="1.6" height="1.55" fill="#e7aa34"/><rect x="418" y="297.65" width="1.6" height="1.55" fill="#e4d83b"/><rect x="419.55" y="297.65" width="1.6" height="1.55" fill="#c3d93a"/><rect x="421.1" y="297.65" width="1.6" height="1.55" fill="#d3da3b"/><rect x="422.65" y="297.65" width="1.6" height="1.55" fill="#bcd83a"/><rect x="408.7" y="299.15" width="1.6" height="1.55" fill="#e98b2f"/><rect x="410.25" y="299.15" width="1.6" height="1.55" fill="#ea742c"/><rect x="411.8" y="299.15" width="1.6" height="1.55" fill="#ea7f2e"/><rect x="413.35" y="299.15" width="1.6" height="1.55" fill="#e8a233"/><rect x="414.9" y="299.15" width="1.6" height="1.55" fill="#e7b035"/><rect x="416.45" y="299.15" width="1.6" height="1.55" fill="#e6bb37"/><rect x="418" y="299.15" width="1.6" height="1.55" fill="#e4db3b"/><rect x="419.55" y="299.15" width="1.6" height="1.55" fill="#e1db3b"/><rect x="421.1" y="299.15" width="1.6" height="1.55" fill="#dadb3b"/><rect x="422.65" y="299.15" width="1.6" height="1.55" fill="#ccda3a"/><rect x="408.7" y="300.65" width="1.6" height="1.55" fill="#e5c438"/><rect x="410.25" y="300.65" width="1.6" height="1.55" fill="#e6b235"/><rect x="411.8" y="300.65" width="1.6" height="1.55" fill="#e5c538"/><rect x="413.35" y="300.65" width="1.6" height="1.55" fill="#e0db3b"/><rect x="414.9" y="300.65" width="1.6" height="1.55" fill="#e5ca39"/><rect x="416.45" y="300.65" width="1.6" height="1.55" fill="#dedb3b"/><rect x="418" y="300.65" width="1.6" height="1.55" fill="#dedb3b"/><rect x="419.55" y="300.65" width="1.6" height="1.55" fill="#e5ca39"/><rect x="421.1" y="300.65" width="1.6" height="1.55" fill="#d4da3b"/><rect x="422.65" y="300.65" width="1.6" height="1.55" fill="#ccda3a"/><rect x="408.7" y="302.16" width="1.6" height="1.55" fill="#c1d93a"/><rect x="410.25" y="302.16" width="1.6" height="1.55" fill="#dadb3b"/><rect x="411.8" y="302.16" width="1.6" height="1.55" fill="#bad839"/><rect x="413.35" y="302.16" width="1.6" height="1.55" fill="#b2d739"/><rect x="414.9" y="302.16" width="1.6" height="1.55" fill="#e0db3b"/><rect x="416.45" y="302.16" width="1.6" height="1.55" fill="#e4db3b"/><rect x="418" y="302.16" width="1.6" height="1.55" fill="#e4d83b"/><rect x="419.55" y="302.16" width="1.6" height="1.55" fill="#e4d03a"/><rect x="421.1" y="302.16" width="1.6" height="1.55" fill="#e4da3b"/><rect x="422.65" y="302.16" width="1.6" height="1.55" fill="#e4d93b"/><rect x="408.7" y="303.66" width="1.6" height="1.55" fill="#8ad437"/><rect x="410.25" y="303.66" width="1.6" height="1.55" fill="#abd739"/><rect x="411.8" y="303.66" width="1.6" height="1.55" fill="#9cd638"/><rect x="413.35" y="303.66" width="1.6" height="1.55" fill="#aed739"/><rect x="414.9" y="303.66" width="1.6" height="1.55" fill="#ccda3a"/><rect x="416.45" y="303.66" width="1.6" height="1.55" fill="#d9db3b"/><rect x="418" y="303.66" width="1.6" height="1.55" fill="#e5cd39"/><rect x="419.55" y="303.66" width="1.6" height="1.55" fill="#d7da3b"/><rect x="421.1" y="303.66" width="1.6" height="1.55" fill="#bfd93a"/><rect x="422.65" y="303.66" width="1.6" height="1.55" fill="#e4d73b"/><rect x="408.7" y="305.17" width="1.6" height="1.55" fill="#87d437"/><rect x="410.25" y="305.17" width="1.6" height="1.55" fill="#a9d739"/><rect x="411.8" y="305.17" width="1.6" height="1.55" fill="#81d337"/><rect x="413.35" y="305.17" width="1.6" height="1.55" fill="#95d537"/><rect x="414.9" y="305.17" width="1.6" height="1.55" fill="#c4d93a"/><rect x="416.45" y="305.17" width="1.6" height="1.55" fill="#e0db3b"/><rect x="418" y="305.17" width="1.6" height="1.55" fill="#e5c538"/><rect x="419.55" y="305.17" width="1.6" height="1.55" fill="#e4d43a"/><rect x="421.1" y="305.17" width="1.6" height="1.55" fill="#d5da3b"/><rect x="422.65" y="305.17" width="1.6" height="1.55" fill="#e4cd39"/><rect x="408.7" y="306.67" width="1.6" height="1.55" fill="#8fd537"/><rect x="410.25" y="306.67" width="1.6" height="1.55" fill="#90d537"/><rect x="411.8" y="306.67" width="1.6" height="1.55" fill="#8fd537"/><rect x="413.35" y="306.67" width="1.6" height="1.55" fill="#8dd437"/><rect x="414.9" y="306.67" width="1.6" height="1.55" fill="#b8d839"/><rect x="416.45" y="306.67" width="1.6" height="1.55" fill="#e4da3b"/><rect x="418" y="306.67" width="1.6" height="1.55" fill="#e4d63b"/><rect x="419.55" y="306.67" width="1.6" height="1.55" fill="#e5c538"/><rect x="421.1" y="306.67" width="1.6" height="1.55" fill="#e7ab34"/><rect x="422.65" y="306.67" width="1.6" height="1.55" fill="#ea752c"/><rect x="408.7" y="308.18" width="1.6" height="1.55" fill="#89d437"/><rect x="410.25" y="308.18" width="1.6" height="1.55" fill="#79d33d"/><rect x="411.8" y="308.18" width="1.6" height="1.55" fill="#79d33c"/><rect x="413.35" y="308.18" width="1.6" height="1.55" fill="#7ad33c"/><rect x="414.9" y="308.18" width="1.6" height="1.55" fill="#acd739"/><rect x="416.45" y="308.18" width="1.6" height="1.55" fill="#cbd93a"/><rect x="418" y="308.18" width="1.6" height="1.55" fill="#dadb3b"/><rect x="419.55" y="308.18" width="1.6" height="1.55" fill="#e5c037"/><rect x="421.1" y="308.18" width="1.6" height="1.55" fill="#e98a2f"/><rect x="422.65" y="308.18" width="1.6" height="1.55" fill="#e66128"/><rect x="408.7" y="309.68" width="1.6" height="1.55" fill="#7ed339"/><rect x="410.25" y="309.68" width="1.6" height="1.55" fill="#6fd243"/><rect x="411.8" y="309.68" width="1.6" height="1.55" fill="#62d14c"/><rect x="413.35" y="309.68" width="1.6" height="1.55" fill="#74d240"/><rect x="414.9" y="309.68" width="1.6" height="1.55" fill="#85d437"/><rect x="416.45" y="309.68" width="1.6" height="1.55" fill="#bfd93a"/><rect x="418" y="309.68" width="1.6" height="1.55" fill="#e6b736"/><rect x="419.55" y="309.68" width="1.6" height="1.55" fill="#e99030"/><rect x="421.1" y="309.68" width="1.6" height="1.55" fill="#e8692a"/><rect x="422.65" y="309.68" width="1.6" height="1.55" fill="#e9702b"/><rect x="408.7" y="311.19" width="1.6" height="1.55" fill="#7ad33c"/><rect x="410.25" y="311.19" width="1.6" height="1.55" fill="#6dd245"/><rect x="411.8" y="311.19" width="1.6" height="1.55" fill="#51d058"/><rect x="413.35" y="311.19" width="1.6" height="1.55" fill="#6dd245"/><rect x="414.9" y="311.19" width="1.6" height="1.55" fill="#8dd437"/><rect x="416.45" y="311.19" width="1.6" height="1.55" fill="#d5da3b"/><rect x="418" y="311.19" width="1.6" height="1.55" fill="#e89531"/><rect x="419.55" y="311.19" width="1.6" height="1.55" fill="#ea7a2d"/><rect x="421.1" y="311.19" width="1.6" height="1.55" fill="#e96e2b"/><rect x="422.65" y="311.19" width="1.6" height="1.55" fill="#ea7f2e"/><rect x="408.7" y="312.69" width="1.6" height="1.55" fill="#70d243"/><rect x="410.25" y="312.69" width="1.6" height="1.55" fill="#77d33e"/><rect x="411.8" y="312.69" width="1.6" height="1.55" fill="#6ed244"/><rect x="413.35" y="312.69" width="1.6" height="1.55" fill="#7ed339"/><rect x="414.9" y="312.69" width="1.6" height="1.55" fill="#cdda3a"/><rect x="416.45" y="312.69" width="1.6" height="1.55" fill="#e5c939"/><rect x="418" y="312.69" width="1.6" height="1.55" fill="#e98f30"/><rect x="419.55" y="312.69" width="1.6" height="1.55" fill="#e86d2a"/><rect x="421.1" y="312.69" width="1.6" height="1.55" fill="#e99331"/><rect x="422.65" y="312.69" width="1.6" height="1.55" fill="#e7a633"/><rect x="408.7" y="314.2" width="1.6" height="1.55" fill="#97d538"/><rect x="410.25" y="314.2" width="1.6" height="1.55" fill="#b8d839"/><rect x="411.8" y="314.2" width="1.6" height="1.55" fill="#9bd638"/><rect x="413.35" y="314.2" width="1.6" height="1.55" fill="#bed83a"/><rect x="414.9" y="314.2" width="1.6" height="1.55" fill="#e4d43a"/><rect x="416.45" y="314.2" width="1.6" height="1.55" fill="#e5c839"/><rect x="418" y="314.2" width="1.6" height="1.55" fill="#e7a433"/><rect x="419.55" y="314.2" width="1.6" height="1.55" fill="#e9892f"/><rect x="421.1" y="314.2" width="1.6" height="1.55" fill="#e5ca39"/><rect x="422.65" y="314.2" width="1.6" height="1.55" fill="#e5c738"/><rect x="408.7" y="315.7" width="1.6" height="1.55" fill="#e2db3b"/><rect x="410.25" y="315.7" width="1.6" height="1.55" fill="#dedb3b"/><rect x="411.8" y="315.7" width="1.6" height="1.55" fill="#d9db3b"/><rect x="413.35" y="315.7" width="1.6" height="1.55" fill="#dddb3b"/><rect x="414.9" y="315.7" width="1.6" height="1.55" fill="#e4d73b"/><rect x="416.45" y="315.7" width="1.6" height="1.55" fill="#e5c738"/><rect x="418" y="315.7" width="1.6" height="1.55" fill="#e4d23a"/><rect x="419.55" y="315.7" width="1.6" height="1.55" fill="#e6b636"/><rect x="421.1" y="315.7" width="1.6" height="1.55" fill="#e4d43a"/><rect x="422.65" y="315.7" width="1.6" height="1.55" fill="#e5c738"/><rect x="408.7" y="317.21" width="1.6" height="1.55" fill="#e7a934"/><rect x="410.25" y="317.21" width="1.6" height="1.55" fill="#e5c238"/><rect x="411.8" y="317.21" width="1.6" height="1.55" fill="#e5cb39"/><rect x="413.35" y="317.21" width="1.6" height="1.55" fill="#e6b936"/><rect x="414.9" y="317.21" width="1.6" height="1.55" fill="#e5c037"/><rect x="416.45" y="317.21" width="1.6" height="1.55" fill="#e4d23a"/><rect x="418" y="317.21" width="1.6" height="1.55" fill="#e5cb39"/><rect x="419.55" y="317.21" width="1.6" height="1.55" fill="#e8a233"/><rect x="421.1" y="317.21" width="1.6" height="1.55" fill="#e99230"/><rect x="422.65" y="317.21" width="1.6" height="1.55" fill="#e89831"/><rect x="408.7" y="318.71" width="1.6" height="1.55" fill="#ea7f2e"/><rect x="410.25" y="318.71" width="1.6" height="1.55" fill="#e7af35"/><rect x="411.8" y="318.71" width="1.6" height="1.55" fill="#e6b736"/><rect x="413.35" y="318.71" width="1.6" height="1.55" fill="#e7aa34"/><rect x="414.9" y="318.71" width="1.6" height="1.55" fill="#e7a433"/><rect x="416.45" y="318.71" width="1.6" height="1.55" fill="#e6b536"/><rect x="418" y="318.71" width="1.6" height="1.55" fill="#e5c037"/><rect x="419.55" y="318.71" width="1.6" height="1.55" fill="#e89932"/><rect x="421.1" y="318.71" width="1.6" height="1.55" fill="#ea742c"/><rect x="422.65" y="318.71" width="1.6" height="1.55" fill="#ea812e"/><rect x="408.7" y="320.22" width="1.6" height="1.55" fill="#e96f2b"/><rect x="410.25" y="320.22" width="1.6" height="1.55" fill="#e99431"/><rect x="411.8" y="320.22" width="1.6" height="1.55" fill="#e89f32"/><rect x="413.35" y="320.22" width="1.6" height="1.55" fill="#e98d30"/><rect x="414.9" y="320.22" width="1.6" height="1.55" fill="#ea762c"/><rect x="416.45" y="320.22" width="1.6" height="1.55" fill="#ea832e"/><rect x="418" y="320.22" width="1.6" height="1.55" fill="#e89b32"/><rect x="419.55" y="320.22" width="1.6" height="1.55" fill="#ea7b2d"/><rect x="421.1" y="320.22" width="1.6" height="1.55" fill="#e76629"/><rect x="422.65" y="320.22" width="1.6" height="1.55" fill="#e7a633"/><rect x="408.7" y="321.72" width="1.6" height="1.55" fill="#e9872f"/><rect x="410.25" y="321.72" width="1.6" height="1.55" fill="#e8a133"/><rect x="411.8" y="321.72" width="1.6" height="1.55" fill="#e89a32"/><rect x="413.35" y="321.72" width="1.6" height="1.55" fill="#ea802e"/><rect x="414.9" y="321.72" width="1.6" height="1.55" fill="#ea7a2d"/><rect x="416.45" y="321.72" width="1.6" height="1.55" fill="#ea732c"/><rect x="418" y="321.72" width="1.6" height="1.55" fill="#ea822e"/><rect x="419.55" y="321.72" width="1.6" height="1.55" fill="#e98d30"/><rect x="421.1" y="321.72" width="1.6" height="1.55" fill="#e7ac34"/><rect x="422.65" y="321.72" width="1.6" height="1.55" fill="#e5c738"/><rect x="408.7" y="323.23" width="1.6" height="1.55" fill="#ea7e2d"/><rect x="410.25" y="323.23" width="1.6" height="1.55" fill="#e96e2b"/><rect x="411.8" y="323.23" width="1.6" height="1.55" fill="#e76829"/><rect x="413.35" y="323.23" width="1.6" height="1.55" fill="#e86b2a"/><rect x="414.9" y="323.23" width="1.6" height="1.55" fill="#e9892f"/><rect x="416.45" y="323.23" width="1.6" height="1.55" fill="#e89931"/><rect x="418" y="323.23" width="1.6" height="1.55" fill="#e99030"/><rect x="419.55" y="323.23" width="1.6" height="1.55" fill="#e7a533"/><rect x="421.1" y="323.23" width="1.6" height="1.55" fill="#d8db3b"/><rect x="422.65" y="323.23" width="1.6" height="1.55" fill="#c5d93a"/><rect x="408.7" y="324.73" width="1.6" height="1.55" fill="#e86c2a"/><rect x="410.25" y="324.73" width="1.6" height="1.55" fill="#e45726"/><rect x="411.8" y="324.73" width="1.6" height="1.55" fill="#e45926"/><rect x="413.35" y="324.73" width="1.6" height="1.55" fill="#e76429"/><rect x="414.9" y="324.73" width="1.6" height="1.55" fill="#e98e30"/><rect x="416.45" y="324.73" width="1.6" height="1.55" fill="#e6bc37"/><rect x="418" y="324.73" width="1.6" height="1.55" fill="#e6b335"/><rect x="419.55" y="324.73" width="1.6" height="1.55" fill="#dddb3b"/><rect x="421.1" y="324.73" width="1.6" height="1.55" fill="#aad739"/><rect x="422.65" y="324.73" width="1.6" height="1.55" fill="#b7d839"/><rect x="408.7" y="326.24" width="1.6" height="1.55" fill="#e55a27"/><rect x="410.25" y="326.24" width="1.6" height="1.55" fill="#e65f28"/><rect x="411.8" y="326.24" width="1.6" height="1.55" fill="#e66128"/><rect x="413.35" y="326.24" width="1.6" height="1.55" fill="#ea742c"/><rect x="414.9" y="326.24" width="1.6" height="1.55" fill="#e6bf37"/><rect x="416.45" y="326.24" width="1.6" height="1.55" fill="#d1da3b"/><rect x="418" y="326.24" width="1.6" height="1.55" fill="#e4d53a"/><rect x="419.55" y="326.24" width="1.6" height="1.55" fill="#bbd839"/><rect x="421.1" y="326.24" width="1.6" height="1.55" fill="#98d538"/><rect x="422.65" y="326.24" width="1.6" height="1.55" fill="#aad739"/><rect x="408.7" y="327.74" width="1.6" height="1.55" fill="#ea782d"/><rect x="410.25" y="327.74" width="1.6" height="1.55" fill="#e9892f"/><rect x="411.8" y="327.74" width="1.6" height="1.55" fill="#e89d32"/><rect x="413.35" y="327.74" width="1.6" height="1.55" fill="#e5c638"/><rect x="414.9" y="327.74" width="1.6" height="1.55" fill="#ccda3a"/><rect x="416.45" y="327.74" width="1.6" height="1.55" fill="#bbd839"/><rect x="418" y="327.74" width="1.6" height="1.55" fill="#c1d93a"/><rect x="419.55" y="327.74" width="1.6" height="1.55" fill="#aed739"/><rect x="421.1" y="327.74" width="1.6" height="1.55" fill="#9dd638"/><rect x="422.65" y="327.74" width="1.6" height="1.55" fill="#b0d739"/><rect x="408.7" y="329.25" width="1.6" height="1.55" fill="#e5c037"/><rect x="410.25" y="329.25" width="1.6" height="1.55" fill="#e6bd37"/><rect x="411.8" y="329.25" width="1.6" height="1.55" fill="#e4d43a"/><rect x="413.35" y="329.25" width="1.6" height="1.55" fill="#cfda3a"/><rect x="414.9" y="329.25" width="1.6" height="1.55" fill="#97d538"/><rect x="416.45" y="329.25" width="1.6" height="1.55" fill="#a9d738"/><rect x="418" y="329.25" width="1.6" height="1.55" fill="#9ad538"/><rect x="419.55" y="329.25" width="1.6" height="1.55" fill="#b2d739"/><rect x="421.1" y="329.25" width="1.6" height="1.55" fill="#a8d738"/><rect x="422.65" y="329.25" width="1.6" height="1.55" fill="#a1d638"/><rect x="408.7" y="330.75" width="1.6" height="1.55" fill="#b7d839"/><rect x="410.25" y="330.75" width="1.6" height="1.55" fill="#c7d93a"/><rect x="411.8" y="330.75" width="1.6" height="1.55" fill="#bfd93a"/><rect x="413.35" y="330.75" width="1.6" height="1.55" fill="#aad739"/><rect x="414.9" y="330.75" width="1.6" height="1.55" fill="#93d537"/><rect x="416.45" y="330.75" width="1.6" height="1.55" fill="#89d437"/><rect x="418" y="330.75" width="1.6" height="1.55" fill="#7fd339"/><rect x="419.55" y="330.75" width="1.6" height="1.55" fill="#94d537"/><rect x="421.1" y="330.75" width="1.6" height="1.55" fill="#abd739"/><rect x="422.65" y="330.75" width="1.6" height="1.55" fill="#8ed537"/><rect x="408.7" y="332.26" width="1.6" height="1.55" fill="#9ed638"/><rect x="410.25" y="332.26" width="1.6" height="1.55" fill="#abd739"/><rect x="411.8" y="332.26" width="1.6" height="1.55" fill="#89d437"/><rect x="413.35" y="332.26" width="1.6" height="1.55" fill="#7dd339"/><rect x="414.9" y="332.26" width="1.6" height="1.55" fill="#71d242"/><rect x="416.45" y="332.26" width="1.6" height="1.55" fill="#74d240"/><rect x="418" y="332.26" width="1.6" height="1.55" fill="#6fd244"/><rect x="419.55" y="332.26" width="1.6" height="1.55" fill="#91d537"/><rect x="421.1" y="332.26" width="1.6" height="1.55" fill="#9cd638"/><rect x="422.65" y="332.26" width="1.6" height="1.55" fill="#91d537"/><rect x="408.7" y="333.76" width="1.6" height="1.55" fill="#6ed244"/><rect x="410.25" y="333.76" width="1.6" height="1.55" fill="#84d437"/><rect x="411.8" y="333.76" width="1.6" height="1.55" fill="#73d240"/><rect x="413.35" y="333.76" width="1.6" height="1.55" fill="#5fd14e"/><rect x="414.9" y="333.76" width="1.6" height="1.55" fill="#62d14d"/><rect x="416.45" y="333.76" width="1.6" height="1.55" fill="#64d14b"/><rect x="418" y="333.76" width="1.6" height="1.55" fill="#72d242"/><rect x="419.55" y="333.76" width="1.6" height="1.55" fill="#87d437"/><rect x="421.1" y="333.76" width="1.6" height="1.55" fill="#8bd437"/><rect x="422.65" y="333.76" width="1.6" height="1.55" fill="#87d437"/><rect x="408.7" y="335.27" width="1.6" height="1.55" fill="#63d14c"/><rect x="410.25" y="335.27" width="1.6" height="1.55" fill="#7ad33c"/><rect x="411.8" y="335.27" width="1.6" height="1.55" fill="#6dd245"/><rect x="413.35" y="335.27" width="1.6" height="1.55" fill="#5ed14f"/><rect x="414.9" y="335.27" width="1.6" height="1.55" fill="#68d148"/><rect x="416.45" y="335.27" width="1.6" height="1.55" fill="#63d14c"/><rect x="418" y="335.27" width="1.6" height="1.55" fill="#81d337"/><rect x="419.55" y="335.27" width="1.6" height="1.55" fill="#7fd338"/><rect x="421.1" y="335.27" width="1.6" height="1.55" fill="#6ed244"/><rect x="422.65" y="335.27" width="1.6" height="1.55" fill="#78d33d"/><rect x="408.7" y="336.77" width="1.6" height="1.55" fill="#56d055"/><rect x="410.25" y="336.77" width="1.6" height="1.55" fill="#6fd243"/><rect x="411.8" y="336.77" width="1.6" height="1.55" fill="#5dd150"/><rect x="413.35" y="336.77" width="1.6" height="1.55" fill="#5bd051"/><rect x="414.9" y="336.77" width="1.6" height="1.55" fill="#61d14d"/><rect x="416.45" y="336.77" width="1.6" height="1.55" fill="#66d149"/><rect x="418" y="336.77" width="1.6" height="1.55" fill="#78d33d"/><rect x="419.55" y="336.77" width="1.6" height="1.55" fill="#72d241"/><rect x="421.1" y="336.77" width="1.6" height="1.55" fill="#5ed150"/><rect x="422.65" y="336.77" width="1.6" height="1.55" fill="#69d247"/><rect x="408.7" y="338.28" width="1.6" height="1.55" fill="#5ed150"/><rect x="410.25" y="338.28" width="1.6" height="1.55" fill="#6ed244"/><rect x="411.8" y="338.28" width="1.6" height="1.55" fill="#60d14e"/><rect x="413.35" y="338.28" width="1.6" height="1.55" fill="#57d055"/><rect x="414.9" y="338.28" width="1.6" height="1.55" fill="#5bd052"/><rect x="416.45" y="338.28" width="1.6" height="1.55" fill="#5ad052"/><rect x="418" y="338.28" width="1.6" height="1.55" fill="#58d054"/><rect x="419.55" y="338.28" width="1.6" height="1.55" fill="#5bd051"/><rect x="421.1" y="338.28" width="1.6" height="1.55" fill="#5cd051"/><rect x="422.65" y="338.28" width="1.6" height="1.55" fill="#59d053"/><rect x="408.7" y="339.78" width="1.6" height="1.55" fill="#60d14e"/><rect x="410.25" y="339.78" width="1.6" height="1.55" fill="#52d058"/><rect x="411.8" y="339.78" width="1.6" height="1.55" fill="#5cd151"/><rect x="413.35" y="339.78" width="1.6" height="1.55" fill="#59d053"/><rect x="414.9" y="339.78" width="1.6" height="1.55" fill="#55d055"/><rect x="416.45" y="339.78" width="1.6" height="1.55" fill="#50d059"/><rect x="418" y="339.78" width="1.6" height="1.55" fill="#50d06e"/><rect x="419.55" y="339.78" width="1.6" height="1.55" fill="#50d05a"/><rect x="421.1" y="339.78" width="1.6" height="1.55" fill="#56d055"/><rect x="422.65" y="339.78" width="1.6" height="1.55" fill="#5cd150"/><rect x="408.7" y="341.29" width="1.6" height="1.55" fill="#50d069"/><rect x="410.25" y="341.29" width="1.6" height="1.55" fill="#50d189"/><rect x="411.8" y="341.29" width="1.6" height="1.55" fill="#50d06f"/><rect x="413.35" y="341.29" width="1.6" height="1.55" fill="#50d074"/><rect x="414.9" y="341.29" width="1.6" height="1.55" fill="#50d187"/><rect x="416.45" y="341.29" width="1.6" height="1.55" fill="#50d1a0"/><rect x="418" y="341.29" width="1.6" height="1.55" fill="#50d076"/><rect x="419.55" y="341.29" width="1.6" height="1.55" fill="#53d057"/><rect x="421.1" y="341.29" width="1.6" height="1.55" fill="#54d057"/><rect x="422.65" y="341.29" width="1.6" height="1.55" fill="#5ad052"/><rect x="408.7" y="342.79" width="1.6" height="1.55" fill="#50d193"/><rect x="410.25" y="342.79" width="1.6" height="1.55" fill="#4fd2b1"/><rect x="411.8" y="342.79" width="1.6" height="1.55" fill="#50d188"/><rect x="413.35" y="342.79" width="1.6" height="1.55" fill="#50d07f"/><rect x="414.9" y="342.79" width="1.6" height="1.55" fill="#50d1a2"/><rect x="416.45" y="342.79" width="1.6" height="1.55" fill="#50d191"/><rect x="418" y="342.79" width="1.6" height="1.55" fill="#50d195"/><rect x="419.55" y="342.79" width="1.6" height="1.55" fill="#56d055"/><rect x="421.1" y="342.79" width="1.6" height="1.55" fill="#55d055"/><rect x="422.65" y="342.79" width="1.6" height="1.55" fill="#52d058"/><rect x="408.7" y="344.3" width="1.6" height="1.55" fill="#50d19a"/><rect x="410.25" y="344.3" width="1.6" height="1.55" fill="#4fd2b0"/><rect x="411.8" y="344.3" width="1.6" height="1.55" fill="#50d081"/><rect x="413.35" y="344.3" width="1.6" height="1.55" fill="#50d187"/><rect x="414.9" y="344.3" width="1.6" height="1.55" fill="#4fd2ab"/><rect x="416.45" y="344.3" width="1.6" height="1.55" fill="#4fd2ab"/><rect x="418" y="344.3" width="1.6" height="1.55" fill="#50d19e"/><rect x="419.55" y="344.3" width="1.6" height="1.55" fill="#50d065"/><rect x="421.1" y="344.3" width="1.6" height="1.55" fill="#50d187"/><rect x="422.65" y="344.3" width="1.6" height="1.55" fill="#50d059"/></g>
</g>
<clipPath id="cl4"><rect x="501" y="219.2" width="59" height="156.6"/></clipPath>
<g clip-path="url(#cl4)">
<rect x="501" y="219.2" width="59" height="156.6" filter="url(#spk)"/>
<path d="M501,219.2 L502.56,220.22 C508.9,222.27 519.26,232 520.8,244.8 L501,244.8 Z" fill="#000" fill-opacity="0.56"/>
<path d="M560,219.2 L558.46,220.22 C552.26,222.27 542.1,232 540.6,244.8 L560,244.8 Z" fill="#000" fill-opacity="0.56"/>
<path d="M520.8,349.8 C519.26,362.8 508.9,372.68 502.56,374.76 L501,375.8 L501,349.8 Z" fill="#000" fill-opacity="0.54"/>
<path d="M540.6,349.8 C542.1,362.8 552.26,372.68 558.46,374.76 L560,375.8 L560,349.8 Z" fill="#000" fill-opacity="0.54"/>
<rect x="501" y="244.8" width="19.8" height="105" fill="#000" fill-opacity="0.5"/>
<rect x="540.6" y="244.8" width="19.4" height="105" fill="#000" fill-opacity="0.5"/>
<rect x="501" y="254.7" width="19.8" height="85.3" fill="#020202"/>
<rect x="540.6" y="254.7" width="19.4" height="85.3" fill="#020202"/>
<rect x="501" y="243.3" width="19.8" height="3" fill="#050505"/>
<rect x="540.6" y="243.3" width="19.4" height="3" fill="#050505"/>
<rect x="501" y="348.3" width="19.8" height="3" fill="#050505"/>
<rect x="540.6" y="348.3" width="19.4" height="3" fill="#050505"/>
<path d="M502.56,220.22 C508.9,222.27 519.26,232 520.8,244.8" fill="none" stroke="#121212" stroke-width="2.9"/>
<path d="M558.46,220.22 C552.26,222.27 542.1,232 540.6,244.8" fill="none" stroke="#121212" stroke-width="2.9"/>
<path d="M520.8,349.8 C519.26,362.8 508.9,372.68 502.56,374.76" fill="none" stroke="#121212" stroke-width="2.9"/>
<path d="M540.6,349.8 C542.1,362.8 552.26,372.68 558.46,374.76" fill="none" stroke="#121212" stroke-width="2.9"/>
<g opacity="0.93"><rect x="522.8" y="249.7" width="1.57" height="1.55" fill="#293fe4"/><rect x="524.32" y="249.7" width="1.57" height="1.55" fill="#2328e1"/><rect x="525.84" y="249.7" width="1.57" height="1.55" fill="#232ae1"/><rect x="527.36" y="249.7" width="1.57" height="1.55" fill="#2328e1"/><rect x="528.88" y="249.7" width="1.57" height="1.55" fill="#2328e1"/><rect x="530.4" y="249.7" width="1.57" height="1.55" fill="#2328e1"/><rect x="531.92" y="249.7" width="1.57" height="1.55" fill="#2328e1"/><rect x="533.44" y="249.7" width="1.57" height="1.55" fill="#2328e1"/><rect x="534.96" y="249.7" width="1.57" height="1.55" fill="#2328e1"/><rect x="536.48" y="249.7" width="1.57" height="1.55" fill="#2635e2"/><rect x="522.8" y="251.2" width="1.57" height="1.55" fill="#293fe4"/><rect x="524.32" y="251.2" width="1.57" height="1.55" fill="#2634e2"/><rect x="525.84" y="251.2" width="1.57" height="1.55" fill="#2a40e4"/><rect x="527.36" y="251.2" width="1.57" height="1.55" fill="#2b44e5"/><rect x="528.88" y="251.2" width="1.57" height="1.55" fill="#2530e2"/><rect x="530.4" y="251.2" width="1.57" height="1.55" fill="#2328e1"/><rect x="531.92" y="251.2" width="1.57" height="1.55" fill="#2328e1"/><rect x="533.44" y="251.2" width="1.57" height="1.55" fill="#2328e1"/><rect x="534.96" y="251.2" width="1.57" height="1.55" fill="#2635e2"/><rect x="536.48" y="251.2" width="1.57" height="1.55" fill="#283be3"/><rect x="522.8" y="252.71" width="1.57" height="1.55" fill="#283be3"/><rect x="524.32" y="252.71" width="1.57" height="1.55" fill="#2b44e5"/><rect x="525.84" y="252.71" width="1.57" height="1.55" fill="#2d4ee6"/><rect x="527.36" y="252.71" width="1.57" height="1.55" fill="#2e51e6"/><rect x="528.88" y="252.71" width="1.57" height="1.55" fill="#293ee4"/><rect x="530.4" y="252.71" width="1.57" height="1.55" fill="#2839e3"/><rect x="531.92" y="252.71" width="1.57" height="1.55" fill="#2635e2"/><rect x="533.44" y="252.71" width="1.57" height="1.55" fill="#2328e1"/><rect x="534.96" y="252.71" width="1.57" height="1.55" fill="#293ee4"/><rect x="536.48" y="252.71" width="1.57" height="1.55" fill="#325ee8"/><rect x="522.8" y="254.21" width="1.57" height="1.55" fill="#2635e2"/><rect x="524.32" y="254.21" width="1.57" height="1.55" fill="#2b44e5"/><rect x="525.84" y="254.21" width="1.57" height="1.55" fill="#325ee8"/><rect x="527.36" y="254.21" width="1.57" height="1.55" fill="#293fe4"/><rect x="528.88" y="254.21" width="1.57" height="1.55" fill="#283ae3"/><rect x="530.4" y="254.21" width="1.57" height="1.55" fill="#2a43e4"/><rect x="531.92" y="254.21" width="1.57" height="1.55" fill="#283ce3"/><rect x="533.44" y="254.21" width="1.57" height="1.55" fill="#283ae3"/><rect x="534.96" y="254.21" width="1.57" height="1.55" fill="#3363e9"/><rect x="536.48" y="254.21" width="1.57" height="1.55" fill="#3568ea"/><rect x="522.8" y="255.71" width="1.57" height="1.55" fill="#2a43e4"/><rect x="524.32" y="255.71" width="1.57" height="1.55" fill="#325fe8"/><rect x="525.84" y="255.71" width="1.57" height="1.55" fill="#366bea"/><rect x="527.36" y="255.71" width="1.57" height="1.55" fill="#2d4be6"/><rect x="528.88" y="255.71" width="1.57" height="1.55" fill="#2c48e5"/><rect x="530.4" y="255.71" width="1.57" height="1.55" fill="#2b46e5"/><rect x="531.92" y="255.71" width="1.57" height="1.55" fill="#2f53e7"/><rect x="533.44" y="255.71" width="1.57" height="1.55" fill="#2d4ee6"/><rect x="534.96" y="255.71" width="1.57" height="1.55" fill="#3a80eb"/><rect x="536.48" y="255.71" width="1.57" height="1.55" fill="#3873eb"/><rect x="522.8" y="257.22" width="1.57" height="1.55" fill="#2e4ee6"/><rect x="524.32" y="257.22" width="1.57" height="1.55" fill="#3362e9"/><rect x="525.84" y="257.22" width="1.57" height="1.55" fill="#366cea"/><rect x="527.36" y="257.22" width="1.57" height="1.55" fill="#3463e9"/><rect x="528.88" y="257.22" width="1.57" height="1.55" fill="#2d4ce6"/><rect x="530.4" y="257.22" width="1.57" height="1.55" fill="#2e51e6"/><rect x="531.92" y="257.22" width="1.57" height="1.55" fill="#325fe8"/><rect x="533.44" y="257.22" width="1.57" height="1.55" fill="#366cea"/><rect x="534.96" y="257.22" width="1.57" height="1.55" fill="#3a81eb"/><rect x="536.48" y="257.22" width="1.57" height="1.55" fill="#3f99eb"/><rect x="522.8" y="258.72" width="1.57" height="1.55" fill="#397ceb"/><rect x="524.32" y="258.72" width="1.57" height="1.55" fill="#3878eb"/><rect x="525.84" y="258.72" width="1.57" height="1.55" fill="#3360e9"/><rect x="527.36" y="258.72" width="1.57" height="1.55" fill="#3b83eb"/><rect x="528.88" y="258.72" width="1.57" height="1.55" fill="#3057e7"/><rect x="530.4" y="258.72" width="1.57" height="1.55" fill="#2e4fe6"/><rect x="531.92" y="258.72" width="1.57" height="1.55" fill="#3569ea"/><rect x="533.44" y="258.72" width="1.57" height="1.55" fill="#397beb"/><rect x="534.96" y="258.72" width="1.57" height="1.55" fill="#3d8eeb"/><rect x="536.48" y="258.72" width="1.57" height="1.55" fill="#41a6eb"/><rect x="522.8" y="260.22" width="1.57" height="1.55" fill="#3d8feb"/><rect x="524.32" y="260.22" width="1.57" height="1.55" fill="#3876eb"/><rect x="525.84" y="260.22" width="1.57" height="1.55" fill="#3e93eb"/><rect x="527.36" y="260.22" width="1.57" height="1.55" fill="#3e95eb"/><rect x="528.88" y="260.22" width="1.57" height="1.55" fill="#366dea"/><rect x="530.4" y="260.22" width="1.57" height="1.55" fill="#366dea"/><rect x="531.92" y="260.22" width="1.57" height="1.55" fill="#3a7feb"/><rect x="533.44" y="260.22" width="1.57" height="1.55" fill="#40a1eb"/><rect x="534.96" y="260.22" width="1.57" height="1.55" fill="#3f9aeb"/><rect x="536.48" y="260.22" width="1.57" height="1.55" fill="#43afeb"/><rect x="522.8" y="261.72" width="1.57" height="1.55" fill="#3e97eb"/><rect x="524.32" y="261.72" width="1.57" height="1.55" fill="#3f99eb"/><rect x="525.84" y="261.72" width="1.57" height="1.55" fill="#40a0eb"/><rect x="527.36" y="261.72" width="1.57" height="1.55" fill="#3f99eb"/><rect x="528.88" y="261.72" width="1.57" height="1.55" fill="#3a81eb"/><rect x="530.4" y="261.72" width="1.57" height="1.55" fill="#3d92eb"/><rect x="531.92" y="261.72" width="1.57" height="1.55" fill="#3f99eb"/><rect x="533.44" y="261.72" width="1.57" height="1.55" fill="#41a5eb"/><rect x="534.96" y="261.72" width="1.57" height="1.55" fill="#44b2eb"/><rect x="536.48" y="261.72" width="1.57" height="1.55" fill="#44b4eb"/><rect x="522.8" y="263.23" width="1.57" height="1.55" fill="#409eeb"/><rect x="524.32" y="263.23" width="1.57" height="1.55" fill="#3d91eb"/><rect x="525.84" y="263.23" width="1.57" height="1.55" fill="#44b2eb"/><rect x="527.36" y="263.23" width="1.57" height="1.55" fill="#42a8eb"/><rect x="528.88" y="263.23" width="1.57" height="1.55" fill="#409feb"/><rect x="530.4" y="263.23" width="1.57" height="1.55" fill="#3f9ceb"/><rect x="531.92" y="263.23" width="1.57" height="1.55" fill="#43adeb"/><rect x="533.44" y="263.23" width="1.57" height="1.55" fill="#47c5eb"/><rect x="534.96" y="263.23" width="1.57" height="1.55" fill="#46bdeb"/><rect x="536.48" y="263.23" width="1.57" height="1.55" fill="#43b0eb"/><rect x="522.8" y="264.73" width="1.57" height="1.55" fill="#42aceb"/><rect x="524.32" y="264.73" width="1.57" height="1.55" fill="#3f9aeb"/><rect x="525.84" y="264.73" width="1.57" height="1.55" fill="#48c8eb"/><rect x="527.36" y="264.73" width="1.57" height="1.55" fill="#48c8eb"/><rect x="528.88" y="264.73" width="1.57" height="1.55" fill="#46bceb"/><rect x="530.4" y="264.73" width="1.57" height="1.55" fill="#44b6eb"/><rect x="531.92" y="264.73" width="1.57" height="1.55" fill="#45bceb"/><rect x="533.44" y="264.73" width="1.57" height="1.55" fill="#4bd6e1"/><rect x="534.96" y="264.73" width="1.57" height="1.55" fill="#4ad3eb"/><rect x="536.48" y="264.73" width="1.57" height="1.55" fill="#41a6eb"/><rect x="522.8" y="266.23" width="1.57" height="1.55" fill="#46c0eb"/><rect x="524.32" y="266.23" width="1.57" height="1.55" fill="#47c6eb"/><rect x="525.84" y="266.23" width="1.57" height="1.55" fill="#4cd5d5"/><rect x="527.36" y="266.23" width="1.57" height="1.55" fill="#4ad2eb"/><rect x="528.88" y="266.23" width="1.57" height="1.55" fill="#45baeb"/><rect x="530.4" y="266.23" width="1.57" height="1.55" fill="#46beeb"/><rect x="531.92" y="266.23" width="1.57" height="1.55" fill="#47c5eb"/><rect x="533.44" y="266.23" width="1.57" height="1.55" fill="#4cd5d6"/><rect x="534.96" y="266.23" width="1.57" height="1.55" fill="#49cdeb"/><rect x="536.48" y="266.23" width="1.57" height="1.55" fill="#45b9eb"/><rect x="522.8" y="267.74" width="1.57" height="1.55" fill="#4ad5eb"/><rect x="524.32" y="267.74" width="1.57" height="1.55" fill="#4bd6de"/><rect x="525.84" y="267.74" width="1.57" height="1.55" fill="#4cd5d4"/><rect x="527.36" y="267.74" width="1.57" height="1.55" fill="#4ad2eb"/><rect x="528.88" y="267.74" width="1.57" height="1.55" fill="#49ceeb"/><rect x="530.4" y="267.74" width="1.57" height="1.55" fill="#46c1eb"/><rect x="531.92" y="267.74" width="1.57" height="1.55" fill="#4cd5d9"/><rect x="533.44" y="267.74" width="1.57" height="1.55" fill="#4bd6e2"/><rect x="534.96" y="267.74" width="1.57" height="1.55" fill="#47c5eb"/><rect x="536.48" y="267.74" width="1.57" height="1.55" fill="#46bfeb"/><rect x="522.8" y="269.24" width="1.57" height="1.55" fill="#4bd6e2"/><rect x="524.32" y="269.24" width="1.57" height="1.55" fill="#4dd4ca"/><rect x="525.84" y="269.24" width="1.57" height="1.55" fill="#4dd4cb"/><rect x="527.36" y="269.24" width="1.57" height="1.55" fill="#4cd5dd"/><rect x="528.88" y="269.24" width="1.57" height="1.55" fill="#4ad3eb"/><rect x="530.4" y="269.24" width="1.57" height="1.55" fill="#4bd6e9"/><rect x="531.92" y="269.24" width="1.57" height="1.55" fill="#4cd5d4"/><rect x="533.44" y="269.24" width="1.57" height="1.55" fill="#4dd4ce"/><rect x="534.96" y="269.24" width="1.57" height="1.55" fill="#4ad3eb"/><rect x="536.48" y="269.24" width="1.57" height="1.55" fill="#47c2eb"/><rect x="522.8" y="270.74" width="1.57" height="1.55" fill="#4dd4ca"/><rect x="524.32" y="270.74" width="1.57" height="1.55" fill="#4cd5d7"/><rect x="525.84" y="270.74" width="1.57" height="1.55" fill="#4cd5d2"/><rect x="527.36" y="270.74" width="1.57" height="1.55" fill="#4dd4c5"/><rect x="528.88" y="270.74" width="1.57" height="1.55" fill="#47c6eb"/><rect x="530.4" y="270.74" width="1.57" height="1.55" fill="#47c6eb"/><rect x="531.92" y="270.74" width="1.57" height="1.55" fill="#4ed3c0"/><rect x="533.44" y="270.74" width="1.57" height="1.55" fill="#4cd5dc"/><rect x="534.96" y="270.74" width="1.57" height="1.55" fill="#4bd6ea"/><rect x="536.48" y="270.74" width="1.57" height="1.55" fill="#45baeb"/><rect x="522.8" y="272.25" width="1.57" height="1.55" fill="#4ed3bb"/><rect x="524.32" y="272.25" width="1.57" height="1.55" fill="#4ed3b7"/><rect x="525.84" y="272.25" width="1.57" height="1.55" fill="#4dd4ca"/><rect x="527.36" y="272.25" width="1.57" height="1.55" fill="#4ed3bf"/><rect x="528.88" y="272.25" width="1.57" height="1.55" fill="#49cdeb"/><rect x="530.4" y="272.25" width="1.57" height="1.55" fill="#49ceeb"/><rect x="531.92" y="272.25" width="1.57" height="1.55" fill="#4dd4d0"/><rect x="533.44" y="272.25" width="1.57" height="1.55" fill="#4ed3bd"/><rect x="534.96" y="272.25" width="1.57" height="1.55" fill="#4cd5d5"/><rect x="536.48" y="272.25" width="1.57" height="1.55" fill="#4bd6e8"/><rect x="522.8" y="273.75" width="1.57" height="1.55" fill="#4fd2b3"/><rect x="524.32" y="273.75" width="1.57" height="1.55" fill="#50d192"/><rect x="525.84" y="273.75" width="1.57" height="1.55" fill="#4ed3bd"/><rect x="527.36" y="273.75" width="1.57" height="1.55" fill="#4ed3c3"/><rect x="528.88" y="273.75" width="1.57" height="1.55" fill="#4bd6e1"/><rect x="530.4" y="273.75" width="1.57" height="1.55" fill="#4cd5dd"/><rect x="531.92" y="273.75" width="1.57" height="1.55" fill="#4fd2ad"/><rect x="533.44" y="273.75" width="1.57" height="1.55" fill="#50d18b"/><rect x="534.96" y="273.75" width="1.57" height="1.55" fill="#4ed3b7"/><rect x="536.48" y="273.75" width="1.57" height="1.55" fill="#4ed3c3"/><rect x="522.8" y="275.25" width="1.57" height="1.55" fill="#50d19f"/><rect x="524.32" y="275.25" width="1.57" height="1.55" fill="#50d185"/><rect x="525.84" y="275.25" width="1.57" height="1.55" fill="#4ed3bc"/><rect x="527.36" y="275.25" width="1.57" height="1.55" fill="#4fd2b4"/><rect x="528.88" y="275.25" width="1.57" height="1.55" fill="#4dd4c9"/><rect x="530.4" y="275.25" width="1.57" height="1.55" fill="#4ed3b9"/><rect x="531.92" y="275.25" width="1.57" height="1.55" fill="#50d081"/><rect x="533.44" y="275.25" width="1.57" height="1.55" fill="#50d18a"/><rect x="534.96" y="275.25" width="1.57" height="1.55" fill="#4fd2aa"/><rect x="536.48" y="275.25" width="1.57" height="1.55" fill="#4ed3c2"/><rect x="522.8" y="276.76" width="1.57" height="1.55" fill="#50d18d"/><rect x="524.32" y="276.76" width="1.57" height="1.55" fill="#50d1a7"/><rect x="525.84" y="276.76" width="1.57" height="1.55" fill="#50d194"/><rect x="527.36" y="276.76" width="1.57" height="1.55" fill="#50d19b"/><rect x="528.88" y="276.76" width="1.57" height="1.55" fill="#4ed3bb"/><rect x="530.4" y="276.76" width="1.57" height="1.55" fill="#50d1a0"/><rect x="531.92" y="276.76" width="1.57" height="1.55" fill="#50d066"/><rect x="533.44" y="276.76" width="1.57" height="1.55" fill="#50d06d"/><rect x="534.96" y="276.76" width="1.57" height="1.55" fill="#50d19e"/><rect x="536.48" y="276.76" width="1.57" height="1.55" fill="#4ed3b7"/><rect x="522.8" y="278.26" width="1.57" height="1.55" fill="#50d19c"/><rect x="524.32" y="278.26" width="1.57" height="1.55" fill="#50d197"/><rect x="525.84" y="278.26" width="1.57" height="1.55" fill="#50d05f"/><rect x="527.36" y="278.26" width="1.57" height="1.55" fill="#50d077"/><rect x="528.88" y="278.26" width="1.57" height="1.55" fill="#50d198"/><rect x="530.4" y="278.26" width="1.57" height="1.55" fill="#50d080"/><rect x="531.92" y="278.26" width="1.57" height="1.55" fill="#50d067"/><rect x="533.44" y="278.26" width="1.57" height="1.55" fill="#50d196"/><rect x="534.96" y="278.26" width="1.57" height="1.55" fill="#50d07d"/><rect x="536.48" y="278.26" width="1.57" height="1.55" fill="#50d18a"/><rect x="522.8" y="279.76" width="1.57" height="1.55" fill="#50d194"/><rect x="524.32" y="279.76" width="1.57" height="1.55" fill="#50d059"/><rect x="525.84" y="279.76" width="1.57" height="1.55" fill="#57d054"/><rect x="527.36" y="279.76" width="1.57" height="1.55" fill="#51d058"/><rect x="528.88" y="279.76" width="1.57" height="1.55" fill="#50d07b"/><rect x="530.4" y="279.76" width="1.57" height="1.55" fill="#50d19c"/><rect x="531.92" y="279.76" width="1.57" height="1.55" fill="#50d07b"/><rect x="533.44" y="279.76" width="1.57" height="1.55" fill="#50d1a3"/><rect x="534.96" y="279.76" width="1.57" height="1.55" fill="#50d182"/><rect x="536.48" y="279.76" width="1.57" height="1.55" fill="#50d06e"/><rect x="522.8" y="281.27" width="1.57" height="1.55" fill="#50d077"/><rect x="524.32" y="281.27" width="1.57" height="1.55" fill="#5cd051"/><rect x="525.84" y="281.27" width="1.57" height="1.55" fill="#63d14c"/><rect x="527.36" y="281.27" width="1.57" height="1.55" fill="#58d053"/><rect x="528.88" y="281.27" width="1.57" height="1.55" fill="#50d19c"/><rect x="530.4" y="281.27" width="1.57" height="1.55" fill="#50d19d"/><rect x="531.92" y="281.27" width="1.57" height="1.55" fill="#50d18e"/><rect x="533.44" y="281.27" width="1.57" height="1.55" fill="#50d188"/><rect x="534.96" y="281.27" width="1.57" height="1.55" fill="#50d06f"/><rect x="536.48" y="281.27" width="1.57" height="1.55" fill="#50d069"/><rect x="522.8" y="282.77" width="1.57" height="1.55" fill="#50d062"/><rect x="524.32" y="282.77" width="1.57" height="1.55" fill="#66d14a"/><rect x="525.84" y="282.77" width="1.57" height="1.55" fill="#63d14c"/><rect x="527.36" y="282.77" width="1.57" height="1.55" fill="#5bd051"/><rect x="528.88" y="282.77" width="1.57" height="1.55" fill="#50d198"/><rect x="530.4" y="282.77" width="1.57" height="1.55" fill="#50d19d"/><rect x="531.92" y="282.77" width="1.57" height="1.55" fill="#50d071"/><rect x="533.44" y="282.77" width="1.57" height="1.55" fill="#50d182"/><rect x="534.96" y="282.77" width="1.57" height="1.55" fill="#57d054"/><rect x="536.48" y="282.77" width="1.57" height="1.55" fill="#52d058"/><rect x="522.8" y="284.27" width="1.57" height="1.55" fill="#53d057"/><rect x="524.32" y="284.27" width="1.57" height="1.55" fill="#63d14c"/><rect x="525.84" y="284.27" width="1.57" height="1.55" fill="#57d054"/><rect x="527.36" y="284.27" width="1.57" height="1.55" fill="#58d054"/><rect x="528.88" y="284.27" width="1.57" height="1.55" fill="#50d190"/><rect x="530.4" y="284.27" width="1.57" height="1.55" fill="#50d07c"/><rect x="531.92" y="284.27" width="1.57" height="1.55" fill="#50d078"/><rect x="533.44" y="284.27" width="1.57" height="1.55" fill="#55d055"/><rect x="534.96" y="284.27" width="1.57" height="1.55" fill="#57d055"/><rect x="536.48" y="284.27" width="1.57" height="1.55" fill="#52d058"/><rect x="522.8" y="285.77" width="1.57" height="1.55" fill="#53d057"/><rect x="524.32" y="285.77" width="1.57" height="1.55" fill="#61d14d"/><rect x="525.84" y="285.77" width="1.57" height="1.55" fill="#5bd051"/><rect x="527.36" y="285.77" width="1.57" height="1.55" fill="#5bd052"/><rect x="528.88" y="285.77" width="1.57" height="1.55" fill="#50d079"/><rect x="530.4" y="285.77" width="1.57" height="1.55" fill="#50d064"/><rect x="531.92" y="285.77" width="1.57" height="1.55" fill="#50d05b"/><rect x="533.44" y="285.77" width="1.57" height="1.55" fill="#50d062"/><rect x="534.96" y="285.77" width="1.57" height="1.55" fill="#51d058"/><rect x="536.48" y="285.77" width="1.57" height="1.55" fill="#5ad052"/><rect x="522.8" y="287.28" width="1.57" height="1.55" fill="#58d053"/><rect x="524.32" y="287.28" width="1.57" height="1.55" fill="#67d149"/><rect x="525.84" y="287.28" width="1.57" height="1.55" fill="#62d14c"/><rect x="527.36" y="287.28" width="1.57" height="1.55" fill="#55d056"/><rect x="528.88" y="287.28" width="1.57" height="1.55" fill="#50d07f"/><rect x="530.4" y="287.28" width="1.57" height="1.55" fill="#50d05b"/><rect x="531.92" y="287.28" width="1.57" height="1.55" fill="#5cd151"/><rect x="533.44" y="287.28" width="1.57" height="1.55" fill="#54d056"/><rect x="534.96" y="287.28" width="1.57" height="1.55" fill="#58d053"/><rect x="536.48" y="287.28" width="1.57" height="1.55" fill="#58d054"/><rect x="522.8" y="288.78" width="1.57" height="1.55" fill="#64d14b"/><rect x="524.32" y="288.78" width="1.57" height="1.55" fill="#66d14a"/><rect x="525.84" y="288.78" width="1.57" height="1.55" fill="#59d053"/><rect x="527.36" y="288.78" width="1.57" height="1.55" fill="#50d067"/><rect x="528.88" y="288.78" width="1.57" height="1.55" fill="#50d067"/><rect x="530.4" y="288.78" width="1.57" height="1.55" fill="#5ed14f"/><rect x="531.92" y="288.78" width="1.57" height="1.55" fill="#63d14c"/><rect x="533.44" y="288.78" width="1.57" height="1.55" fill="#56d055"/><rect x="534.96" y="288.78" width="1.57" height="1.55" fill="#69d248"/><rect x="536.48" y="288.78" width="1.57" height="1.55" fill="#5fd14f"/><rect x="522.8" y="290.28" width="1.57" height="1.55" fill="#6bd246"/><rect x="524.32" y="290.28" width="1.57" height="1.55" fill="#60d14e"/><rect x="525.84" y="290.28" width="1.57" height="1.55" fill="#5ed14f"/><rect x="527.36" y="290.28" width="1.57" height="1.55" fill="#55d056"/><rect x="528.88" y="290.28" width="1.57" height="1.55" fill="#59d053"/><rect x="530.4" y="290.28" width="1.57" height="1.55" fill="#69d248"/><rect x="531.92" y="290.28" width="1.57" height="1.55" fill="#71d242"/><rect x="533.44" y="290.28" width="1.57" height="1.55" fill="#67d149"/><rect x="534.96" y="290.28" width="1.57" height="1.55" fill="#6bd246"/><rect x="536.48" y="290.28" width="1.57" height="1.55" fill="#65d14a"/><rect x="522.8" y="291.79" width="1.57" height="1.55" fill="#6ad247"/><rect x="524.32" y="291.79" width="1.57" height="1.55" fill="#61d14d"/><rect x="525.84" y="291.79" width="1.57" height="1.55" fill="#5dd150"/><rect x="527.36" y="291.79" width="1.57" height="1.55" fill="#5cd150"/><rect x="528.88" y="291.79" width="1.57" height="1.55" fill="#65d14a"/><rect x="530.4" y="291.79" width="1.57" height="1.55" fill="#6dd245"/><rect x="531.92" y="291.79" width="1.57" height="1.55" fill="#6bd246"/><rect x="533.44" y="291.79" width="1.57" height="1.55" fill="#6ad247"/><rect x="534.96" y="291.79" width="1.57" height="1.55" fill="#71d242"/><rect x="536.48" y="291.79" width="1.57" height="1.55" fill="#68d148"/><rect x="522.8" y="293.29" width="1.57" height="1.55" fill="#6fd244"/><rect x="524.32" y="293.29" width="1.57" height="1.55" fill="#66d14a"/><rect x="525.84" y="293.29" width="1.57" height="1.55" fill="#61d14d"/><rect x="527.36" y="293.29" width="1.57" height="1.55" fill="#68d148"/><rect x="528.88" y="293.29" width="1.57" height="1.55" fill="#6ed244"/><rect x="530.4" y="293.29" width="1.57" height="1.55" fill="#6bd246"/><rect x="531.92" y="293.29" width="1.57" height="1.55" fill="#72d241"/><rect x="533.44" y="293.29" width="1.57" height="1.55" fill="#81d337"/><rect x="534.96" y="293.29" width="1.57" height="1.55" fill="#7fd338"/><rect x="536.48" y="293.29" width="1.57" height="1.55" fill="#79d33c"/><rect x="522.8" y="294.79" width="1.57" height="1.55" fill="#63d14c"/><rect x="524.32" y="294.79" width="1.57" height="1.55" fill="#69d248"/><rect x="525.84" y="294.79" width="1.57" height="1.55" fill="#70d242"/><rect x="527.36" y="294.79" width="1.57" height="1.55" fill="#7dd33a"/><rect x="528.88" y="294.79" width="1.57" height="1.55" fill="#77d33e"/><rect x="530.4" y="294.79" width="1.57" height="1.55" fill="#75d23f"/><rect x="531.92" y="294.79" width="1.57" height="1.55" fill="#74d240"/><rect x="533.44" y="294.79" width="1.57" height="1.55" fill="#7cd33a"/><rect x="534.96" y="294.79" width="1.57" height="1.55" fill="#80d337"/><rect x="536.48" y="294.79" width="1.57" height="1.55" fill="#82d437"/><rect x="522.8" y="296.3" width="1.57" height="1.55" fill="#62d14d"/><rect x="524.32" y="296.3" width="1.57" height="1.55" fill="#6ed244"/><rect x="525.84" y="296.3" width="1.57" height="1.55" fill="#7fd338"/><rect x="527.36" y="296.3" width="1.57" height="1.55" fill="#80d338"/><rect x="528.88" y="296.3" width="1.57" height="1.55" fill="#89d437"/><rect x="530.4" y="296.3" width="1.57" height="1.55" fill="#7bd33b"/><rect x="531.92" y="296.3" width="1.57" height="1.55" fill="#9ed638"/><rect x="533.44" y="296.3" width="1.57" height="1.55" fill="#74d240"/><rect x="534.96" y="296.3" width="1.57" height="1.55" fill="#6ad247"/><rect x="536.48" y="296.3" width="1.57" height="1.55" fill="#8dd437"/><rect x="522.8" y="297.8" width="1.57" height="1.55" fill="#66d14a"/><rect x="524.32" y="297.8" width="1.57" height="1.55" fill="#71d242"/><rect x="525.84" y="297.8" width="1.57" height="1.55" fill="#83d437"/><rect x="527.36" y="297.8" width="1.57" height="1.55" fill="#98d538"/><rect x="528.88" y="297.8" width="1.57" height="1.55" fill="#89d437"/><rect x="530.4" y="297.8" width="1.57" height="1.55" fill="#95d537"/><rect x="531.92" y="297.8" width="1.57" height="1.55" fill="#92d537"/><rect x="533.44" y="297.8" width="1.57" height="1.55" fill="#77d33e"/><rect x="534.96" y="297.8" width="1.57" height="1.55" fill="#6fd243"/><rect x="536.48" y="297.8" width="1.57" height="1.55" fill="#98d538"/><rect x="522.8" y="299.3" width="1.57" height="1.55" fill="#6cd245"/><rect x="524.32" y="299.3" width="1.57" height="1.55" fill="#7dd33a"/><rect x="525.84" y="299.3" width="1.57" height="1.55" fill="#7ed339"/><rect x="527.36" y="299.3" width="1.57" height="1.55" fill="#8cd437"/><rect x="528.88" y="299.3" width="1.57" height="1.55" fill="#94d537"/><rect x="530.4" y="299.3" width="1.57" height="1.55" fill="#8dd437"/><rect x="531.92" y="299.3" width="1.57" height="1.55" fill="#80d338"/><rect x="533.44" y="299.3" width="1.57" height="1.55" fill="#74d240"/><rect x="534.96" y="299.3" width="1.57" height="1.55" fill="#7fd338"/><rect x="536.48" y="299.3" width="1.57" height="1.55" fill="#96d538"/><rect x="522.8" y="300.81" width="1.57" height="1.55" fill="#6ed244"/><rect x="524.32" y="300.81" width="1.57" height="1.55" fill="#7ad33c"/><rect x="525.84" y="300.81" width="1.57" height="1.55" fill="#81d337"/><rect x="527.36" y="300.81" width="1.57" height="1.55" fill="#9ad538"/><rect x="528.88" y="300.81" width="1.57" height="1.55" fill="#95d537"/><rect x="530.4" y="300.81" width="1.57" height="1.55" fill="#a2d638"/><rect x="531.92" y="300.81" width="1.57" height="1.55" fill="#7dd33a"/><rect x="533.44" y="300.81" width="1.57" height="1.55" fill="#72d241"/><rect x="534.96" y="300.81" width="1.57" height="1.55" fill="#a3d638"/><rect x="536.48" y="300.81" width="1.57" height="1.55" fill="#9ed638"/><rect x="522.8" y="302.31" width="1.57" height="1.55" fill="#77d33e"/><rect x="524.32" y="302.31" width="1.57" height="1.55" fill="#89d437"/><rect x="525.84" y="302.31" width="1.57" height="1.55" fill="#9ed638"/><rect x="527.36" y="302.31" width="1.57" height="1.55" fill="#8bd437"/><rect x="528.88" y="302.31" width="1.57" height="1.55" fill="#8ad437"/><rect x="530.4" y="302.31" width="1.57" height="1.55" fill="#a1d638"/><rect x="531.92" y="302.31" width="1.57" height="1.55" fill="#83d437"/><rect x="533.44" y="302.31" width="1.57" height="1.55" fill="#81d337"/><rect x="534.96" y="302.31" width="1.57" height="1.55" fill="#a2d638"/><rect x="536.48" y="302.31" width="1.57" height="1.55" fill="#9ed638"/><rect x="522.8" y="303.81" width="1.57" height="1.55" fill="#77d33e"/><rect x="524.32" y="303.81" width="1.57" height="1.55" fill="#9ad538"/><rect x="525.84" y="303.81" width="1.57" height="1.55" fill="#9fd638"/><rect x="527.36" y="303.81" width="1.57" height="1.55" fill="#95d538"/><rect x="528.88" y="303.81" width="1.57" height="1.55" fill="#a0d638"/><rect x="530.4" y="303.81" width="1.57" height="1.55" fill="#95d538"/><rect x="531.92" y="303.81" width="1.57" height="1.55" fill="#a3d638"/><rect x="533.44" y="303.81" width="1.57" height="1.55" fill="#a3d638"/><rect x="534.96" y="303.81" width="1.57" height="1.55" fill="#c7d93a"/><rect x="536.48" y="303.81" width="1.57" height="1.55" fill="#99d538"/><rect x="522.8" y="305.32" width="1.57" height="1.55" fill="#7dd339"/><rect x="524.32" y="305.32" width="1.57" height="1.55" fill="#9bd638"/><rect x="525.84" y="305.32" width="1.57" height="1.55" fill="#b9d839"/><rect x="527.36" y="305.32" width="1.57" height="1.55" fill="#a1d638"/><rect x="528.88" y="305.32" width="1.57" height="1.55" fill="#a6d638"/><rect x="530.4" y="305.32" width="1.57" height="1.55" fill="#97d538"/><rect x="531.92" y="305.32" width="1.57" height="1.55" fill="#9fd638"/><rect x="533.44" y="305.32" width="1.57" height="1.55" fill="#c7d93a"/><rect x="534.96" y="305.32" width="1.57" height="1.55" fill="#b8d839"/><rect x="536.48" y="305.32" width="1.57" height="1.55" fill="#93d537"/><rect x="522.8" y="306.82" width="1.57" height="1.55" fill="#8dd437"/><rect x="524.32" y="306.82" width="1.57" height="1.55" fill="#aed739"/><rect x="525.84" y="306.82" width="1.57" height="1.55" fill="#aed739"/><rect x="527.36" y="306.82" width="1.57" height="1.55" fill="#aad739"/><rect x="528.88" y="306.82" width="1.57" height="1.55" fill="#a3d638"/><rect x="530.4" y="306.82" width="1.57" height="1.55" fill="#a1d638"/><rect x="531.92" y="306.82" width="1.57" height="1.55" fill="#b0d739"/><rect x="533.44" y="306.82" width="1.57" height="1.55" fill="#d0da3b"/><rect x="534.96" y="306.82" width="1.57" height="1.55" fill="#ccda3a"/><rect x="536.48" y="306.82" width="1.57" height="1.55" fill="#91d537"/><rect x="522.8" y="308.32" width="1.57" height="1.55" fill="#89d437"/><rect x="524.32" y="308.32" width="1.57" height="1.55" fill="#a6d638"/><rect x="525.84" y="308.32" width="1.57" height="1.55" fill="#c8d93a"/><rect x="527.36" y="308.32" width="1.57" height="1.55" fill="#b6d839"/><rect x="528.88" y="308.32" width="1.57" height="1.55" fill="#abd739"/><rect x="530.4" y="308.32" width="1.57" height="1.55" fill="#c0d93a"/><rect x="531.92" y="308.32" width="1.57" height="1.55" fill="#cdda3a"/><rect x="533.44" y="308.32" width="1.57" height="1.55" fill="#e4d93b"/><rect x="534.96" y="308.32" width="1.57" height="1.55" fill="#d7da3b"/><rect x="536.48" y="308.32" width="1.57" height="1.55" fill="#a4d638"/><rect x="522.8" y="309.82" width="1.57" height="1.55" fill="#94d537"/><rect x="524.32" y="309.82" width="1.57" height="1.55" fill="#a5d638"/><rect x="525.84" y="309.82" width="1.57" height="1.55" fill="#c5d93a"/><rect x="527.36" y="309.82" width="1.57" height="1.55" fill="#b0d739"/><rect x="528.88" y="309.82" width="1.57" height="1.55" fill="#c0d93a"/><rect x="530.4" y="309.82" width="1.57" height="1.55" fill="#e0db3b"/><rect x="531.92" y="309.82" width="1.57" height="1.55" fill="#e4d53a"/><rect x="533.44" y="309.82" width="1.57" height="1.55" fill="#e6bb37"/><rect x="534.96" y="309.82" width="1.57" height="1.55" fill="#e6b335"/><rect x="536.48" y="309.82" width="1.57" height="1.55" fill="#e4d63b"/><rect x="522.8" y="311.33" width="1.57" height="1.55" fill="#8fd537"/><rect x="524.32" y="311.33" width="1.57" height="1.55" fill="#a2d638"/><rect x="525.84" y="311.33" width="1.57" height="1.55" fill="#bfd93a"/><rect x="527.36" y="311.33" width="1.57" height="1.55" fill="#bbd839"/><rect x="528.88" y="311.33" width="1.57" height="1.55" fill="#c2d93a"/><rect x="530.4" y="311.33" width="1.57" height="1.55" fill="#e5c939"/><rect x="531.92" y="311.33" width="1.57" height="1.55" fill="#e5c138"/><rect x="533.44" y="311.33" width="1.57" height="1.55" fill="#e8a133"/><rect x="534.96" y="311.33" width="1.57" height="1.55" fill="#e89731"/><rect x="536.48" y="311.33" width="1.57" height="1.55" fill="#e7ae35"/><rect x="522.8" y="312.83" width="1.57" height="1.55" fill="#99d538"/><rect x="524.32" y="312.83" width="1.57" height="1.55" fill="#add739"/><rect x="525.84" y="312.83" width="1.57" height="1.55" fill="#c8d93a"/><rect x="527.36" y="312.83" width="1.57" height="1.55" fill="#b4d839"/><rect x="528.88" y="312.83" width="1.57" height="1.55" fill="#d3da3b"/><rect x="530.4" y="312.83" width="1.57" height="1.55" fill="#e7b035"/><rect x="531.92" y="312.83" width="1.57" height="1.55" fill="#e7aa34"/><rect x="533.44" y="312.83" width="1.57" height="1.55" fill="#e98d30"/><rect x="534.96" y="312.83" width="1.57" height="1.55" fill="#e89932"/><rect x="536.48" y="312.83" width="1.57" height="1.55" fill="#e7ad35"/><rect x="522.8" y="314.33" width="1.57" height="1.55" fill="#b9d839"/><rect x="524.32" y="314.33" width="1.57" height="1.55" fill="#b1d739"/><rect x="525.84" y="314.33" width="1.57" height="1.55" fill="#b2d739"/><rect x="527.36" y="314.33" width="1.57" height="1.55" fill="#acd739"/><rect x="528.88" y="314.33" width="1.57" height="1.55" fill="#e4d13a"/><rect x="530.4" y="314.33" width="1.57" height="1.55" fill="#e6b636"/><rect x="531.92" y="314.33" width="1.57" height="1.55" fill="#e99431"/><rect x="533.44" y="314.33" width="1.57" height="1.55" fill="#e99230"/><rect x="534.96" y="314.33" width="1.57" height="1.55" fill="#e7ac34"/><rect x="536.48" y="314.33" width="1.57" height="1.55" fill="#e7ab34"/><rect x="522.8" y="315.84" width="1.57" height="1.55" fill="#c9d93a"/><rect x="524.32" y="315.84" width="1.57" height="1.55" fill="#b9d839"/><rect x="525.84" y="315.84" width="1.57" height="1.55" fill="#b1d739"/><rect x="527.36" y="315.84" width="1.57" height="1.55" fill="#d5da3b"/><rect x="528.88" y="315.84" width="1.57" height="1.55" fill="#e4d93b"/><rect x="530.4" y="315.84" width="1.57" height="1.55" fill="#e5c638"/><rect x="531.92" y="315.84" width="1.57" height="1.55" fill="#e89f32"/><rect x="533.44" y="315.84" width="1.57" height="1.55" fill="#e99030"/><rect x="534.96" y="315.84" width="1.57" height="1.55" fill="#e5c238"/><rect x="536.48" y="315.84" width="1.57" height="1.55" fill="#e8a033"/><rect x="522.8" y="317.34" width="1.57" height="1.55" fill="#e6be37"/><rect x="524.32" y="317.34" width="1.57" height="1.55" fill="#e4d43a"/><rect x="525.84" y="317.34" width="1.57" height="1.55" fill="#dddb3b"/><rect x="527.36" y="317.34" width="1.57" height="1.55" fill="#e5cb39"/><rect x="528.88" y="317.34" width="1.57" height="1.55" fill="#e7ae35"/><rect x="530.4" y="317.34" width="1.57" height="1.55" fill="#e6b936"/><rect x="531.92" y="317.34" width="1.57" height="1.55" fill="#e7ac34"/><rect x="533.44" y="317.34" width="1.57" height="1.55" fill="#e6b235"/><rect x="534.96" y="317.34" width="1.57" height="1.55" fill="#e6bc37"/><rect x="536.48" y="317.34" width="1.57" height="1.55" fill="#e7aa34"/><rect x="522.8" y="318.84" width="1.57" height="1.55" fill="#e9882f"/><rect x="524.32" y="318.84" width="1.57" height="1.55" fill="#e89932"/><rect x="525.84" y="318.84" width="1.57" height="1.55" fill="#e8a233"/><rect x="527.36" y="318.84" width="1.57" height="1.55" fill="#e9882f"/><rect x="528.88" y="318.84" width="1.57" height="1.55" fill="#e98d30"/><rect x="530.4" y="318.84" width="1.57" height="1.55" fill="#e89731"/><rect x="531.92" y="318.84" width="1.57" height="1.55" fill="#e7b035"/><rect x="533.44" y="318.84" width="1.57" height="1.55" fill="#e6b436"/><rect x="534.96" y="318.84" width="1.57" height="1.55" fill="#e6be37"/><rect x="536.48" y="318.84" width="1.57" height="1.55" fill="#e5c738"/><rect x="522.8" y="320.35" width="1.57" height="1.55" fill="#e55e27"/><rect x="524.32" y="320.35" width="1.57" height="1.55" fill="#e9722b"/><rect x="525.84" y="320.35" width="1.57" height="1.55" fill="#e86d2a"/><rect x="527.36" y="320.35" width="1.57" height="1.55" fill="#e35325"/><rect x="528.88" y="320.35" width="1.57" height="1.55" fill="#e96e2b"/><rect x="530.4" y="320.35" width="1.57" height="1.55" fill="#e98f30"/><rect x="531.92" y="320.35" width="1.57" height="1.55" fill="#e5c738"/><rect x="533.44" y="320.35" width="1.57" height="1.55" fill="#e4d33a"/><rect x="534.96" y="320.35" width="1.57" height="1.55" fill="#e4d93b"/><rect x="536.48" y="320.35" width="1.57" height="1.55" fill="#e5ca39"/><rect x="522.8" y="321.85" width="1.57" height="1.55" fill="#ea762c"/><rect x="524.32" y="321.85" width="1.57" height="1.55" fill="#ea772c"/><rect x="525.84" y="321.85" width="1.57" height="1.55" fill="#e76829"/><rect x="527.36" y="321.85" width="1.57" height="1.55" fill="#e86a2a"/><rect x="528.88" y="321.85" width="1.57" height="1.55" fill="#e89f32"/><rect x="530.4" y="321.85" width="1.57" height="1.55" fill="#e5c438"/><rect x="531.92" y="321.85" width="1.57" height="1.55" fill="#e4db3b"/><rect x="533.44" y="321.85" width="1.57" height="1.55" fill="#dedb3b"/><rect x="534.96" y="321.85" width="1.57" height="1.55" fill="#bcd839"/><rect x="536.48" y="321.85" width="1.57" height="1.55" fill="#e2db3b"/><rect x="522.8" y="323.35" width="1.57" height="1.55" fill="#ea7b2d"/><rect x="524.32" y="323.35" width="1.57" height="1.55" fill="#e98c30"/><rect x="525.84" y="323.35" width="1.57" height="1.55" fill="#e86b2a"/><rect x="527.36" y="323.35" width="1.57" height="1.55" fill="#ea802e"/><rect x="528.88" y="323.35" width="1.57" height="1.55" fill="#e5cb39"/><rect x="530.4" y="323.35" width="1.57" height="1.55" fill="#d1da3b"/><rect x="531.92" y="323.35" width="1.57" height="1.55" fill="#bfd83a"/><rect x="533.44" y="323.35" width="1.57" height="1.55" fill="#aed739"/><rect x="534.96" y="323.35" width="1.57" height="1.55" fill="#aad739"/><rect x="536.48" y="323.35" width="1.57" height="1.55" fill="#b8d839"/><rect x="522.8" y="324.86" width="1.57" height="1.55" fill="#e7ab34"/><rect x="524.32" y="324.86" width="1.57" height="1.55" fill="#e6b135"/><rect x="525.84" y="324.86" width="1.57" height="1.55" fill="#ea7f2e"/><rect x="527.36" y="324.86" width="1.57" height="1.55" fill="#e6b836"/><rect x="528.88" y="324.86" width="1.57" height="1.55" fill="#d8db3b"/><rect x="530.4" y="324.86" width="1.57" height="1.55" fill="#c6d93a"/><rect x="531.92" y="324.86" width="1.57" height="1.55" fill="#bbd839"/><rect x="533.44" y="324.86" width="1.57" height="1.55" fill="#a8d738"/><rect x="534.96" y="324.86" width="1.57" height="1.55" fill="#9cd638"/><rect x="536.48" y="324.86" width="1.57" height="1.55" fill="#b8d839"/><rect x="522.8" y="326.36" width="1.57" height="1.55" fill="#e4ce39"/><rect x="524.32" y="326.36" width="1.57" height="1.55" fill="#e4d13a"/><rect x="525.84" y="326.36" width="1.57" height="1.55" fill="#e89a32"/><rect x="527.36" y="326.36" width="1.57" height="1.55" fill="#c9d93a"/><rect x="528.88" y="326.36" width="1.57" height="1.55" fill="#bfd83a"/><rect x="530.4" y="326.36" width="1.57" height="1.55" fill="#b2d739"/><rect x="531.92" y="326.36" width="1.57" height="1.55" fill="#98d538"/><rect x="533.44" y="326.36" width="1.57" height="1.55" fill="#7fd338"/><rect x="534.96" y="326.36" width="1.57" height="1.55" fill="#94d537"/><rect x="536.48" y="326.36" width="1.57" height="1.55" fill="#b7d839"/><rect x="522.8" y="327.86" width="1.57" height="1.55" fill="#c7d93a"/><rect x="524.32" y="327.86" width="1.57" height="1.55" fill="#e4d23a"/><rect x="525.84" y="327.86" width="1.57" height="1.55" fill="#dedb3b"/><rect x="527.36" y="327.86" width="1.57" height="1.55" fill="#9ed638"/><rect x="528.88" y="327.86" width="1.57" height="1.55" fill="#a9d739"/><rect x="530.4" y="327.86" width="1.57" height="1.55" fill="#9bd638"/><rect x="531.92" y="327.86" width="1.57" height="1.55" fill="#91d537"/><rect x="533.44" y="327.86" width="1.57" height="1.55" fill="#80d338"/><rect x="534.96" y="327.86" width="1.57" height="1.55" fill="#9dd638"/><rect x="536.48" y="327.86" width="1.57" height="1.55" fill="#c1d93a"/><rect x="522.8" y="329.37" width="1.57" height="1.55" fill="#a6d738"/><rect x="524.32" y="329.37" width="1.57" height="1.55" fill="#b3d839"/><rect x="525.84" y="329.37" width="1.57" height="1.55" fill="#9ad638"/><rect x="527.36" y="329.37" width="1.57" height="1.55" fill="#81d337"/><rect x="528.88" y="329.37" width="1.57" height="1.55" fill="#92d537"/><rect x="530.4" y="329.37" width="1.57" height="1.55" fill="#8ed437"/><rect x="531.92" y="329.37" width="1.57" height="1.55" fill="#86d437"/><rect x="533.44" y="329.37" width="1.57" height="1.55" fill="#6fd244"/><rect x="534.96" y="329.37" width="1.57" height="1.55" fill="#90d537"/><rect x="536.48" y="329.37" width="1.57" height="1.55" fill="#b5d839"/><rect x="522.8" y="330.87" width="1.57" height="1.55" fill="#88d437"/><rect x="524.32" y="330.87" width="1.57" height="1.55" fill="#92d537"/><rect x="525.84" y="330.87" width="1.57" height="1.55" fill="#74d240"/><rect x="527.36" y="330.87" width="1.57" height="1.55" fill="#77d33e"/><rect x="528.88" y="330.87" width="1.57" height="1.55" fill="#7ed339"/><rect x="530.4" y="330.87" width="1.57" height="1.55" fill="#78d33d"/><rect x="531.92" y="330.87" width="1.57" height="1.55" fill="#77d33e"/><rect x="533.44" y="330.87" width="1.57" height="1.55" fill="#75d33f"/><rect x="534.96" y="330.87" width="1.57" height="1.55" fill="#82d437"/><rect x="536.48" y="330.87" width="1.57" height="1.55" fill="#93d537"/><rect x="522.8" y="332.37" width="1.57" height="1.55" fill="#78d33d"/><rect x="524.32" y="332.37" width="1.57" height="1.55" fill="#72d241"/><rect x="525.84" y="332.37" width="1.57" height="1.55" fill="#65d14b"/><rect x="527.36" y="332.37" width="1.57" height="1.55" fill="#79d33c"/><rect x="528.88" y="332.37" width="1.57" height="1.55" fill="#7dd33a"/><rect x="530.4" y="332.37" width="1.57" height="1.55" fill="#73d240"/><rect x="531.92" y="332.37" width="1.57" height="1.55" fill="#65d14b"/><rect x="533.44" y="332.37" width="1.57" height="1.55" fill="#73d241"/><rect x="534.96" y="332.37" width="1.57" height="1.55" fill="#72d241"/><rect x="536.48" y="332.37" width="1.57" height="1.55" fill="#68d148"/><rect x="522.8" y="333.88" width="1.57" height="1.55" fill="#75d33f"/><rect x="524.32" y="333.88" width="1.57" height="1.55" fill="#65d14a"/><rect x="525.84" y="333.88" width="1.57" height="1.55" fill="#65d14b"/><rect x="527.36" y="333.88" width="1.57" height="1.55" fill="#68d148"/><rect x="528.88" y="333.88" width="1.57" height="1.55" fill="#6ad247"/><rect x="530.4" y="333.88" width="1.57" height="1.55" fill="#60d14e"/><rect x="531.92" y="333.88" width="1.57" height="1.55" fill="#57d054"/><rect x="533.44" y="333.88" width="1.57" height="1.55" fill="#52d058"/><rect x="534.96" y="333.88" width="1.57" height="1.55" fill="#69d248"/><rect x="536.48" y="333.88" width="1.57" height="1.55" fill="#6ad247"/><rect x="522.8" y="335.38" width="1.57" height="1.55" fill="#65d14b"/><rect x="524.32" y="335.38" width="1.57" height="1.55" fill="#5ed14f"/><rect x="525.84" y="335.38" width="1.57" height="1.55" fill="#64d14b"/><rect x="527.36" y="335.38" width="1.57" height="1.55" fill="#63d14c"/><rect x="528.88" y="335.38" width="1.57" height="1.55" fill="#68d148"/><rect x="530.4" y="335.38" width="1.57" height="1.55" fill="#5fd14f"/><rect x="531.92" y="335.38" width="1.57" height="1.55" fill="#50d061"/><rect x="533.44" y="335.38" width="1.57" height="1.55" fill="#50d05f"/><rect x="534.96" y="335.38" width="1.57" height="1.55" fill="#65d14b"/><rect x="536.48" y="335.38" width="1.57" height="1.55" fill="#6cd245"/><rect x="522.8" y="336.88" width="1.57" height="1.55" fill="#53d057"/><rect x="524.32" y="336.88" width="1.57" height="1.55" fill="#59d053"/><rect x="525.84" y="336.88" width="1.57" height="1.55" fill="#53d057"/><rect x="527.36" y="336.88" width="1.57" height="1.55" fill="#50d069"/><rect x="528.88" y="336.88" width="1.57" height="1.55" fill="#50d06c"/><rect x="530.4" y="336.88" width="1.57" height="1.55" fill="#52d058"/><rect x="531.92" y="336.88" width="1.57" height="1.55" fill="#50d076"/><rect x="533.44" y="336.88" width="1.57" height="1.55" fill="#51d058"/><rect x="534.96" y="336.88" width="1.57" height="1.55" fill="#61d14d"/><rect x="536.48" y="336.88" width="1.57" height="1.55" fill="#61d14d"/><rect x="522.8" y="338.38" width="1.57" height="1.55" fill="#50d189"/><rect x="524.32" y="338.38" width="1.57" height="1.55" fill="#50d18b"/><rect x="525.84" y="338.38" width="1.57" height="1.55" fill="#50d077"/><rect x="527.36" y="338.38" width="1.57" height="1.55" fill="#50d194"/><rect x="528.88" y="338.38" width="1.57" height="1.55" fill="#50d06e"/><rect x="530.4" y="338.38" width="1.57" height="1.55" fill="#50d05d"/><rect x="531.92" y="338.38" width="1.57" height="1.55" fill="#50d06c"/><rect x="533.44" y="338.38" width="1.57" height="1.55" fill="#5cd051"/><rect x="534.96" y="338.38" width="1.57" height="1.55" fill="#5fd14f"/><rect x="536.48" y="338.38" width="1.57" height="1.55" fill="#5dd150"/><rect x="522.8" y="339.89" width="1.57" height="1.55" fill="#50d195"/><rect x="524.32" y="339.89" width="1.57" height="1.55" fill="#50d188"/><rect x="525.84" y="339.89" width="1.57" height="1.55" fill="#50d1a2"/><rect x="527.36" y="339.89" width="1.57" height="1.55" fill="#50d1a0"/><rect x="528.88" y="339.89" width="1.57" height="1.55" fill="#50d077"/><rect x="530.4" y="339.89" width="1.57" height="1.55" fill="#50d06b"/><rect x="531.92" y="339.89" width="1.57" height="1.55" fill="#54d057"/><rect x="533.44" y="339.89" width="1.57" height="1.55" fill="#51d058"/><rect x="534.96" y="339.89" width="1.57" height="1.55" fill="#51d058"/><rect x="536.48" y="339.89" width="1.57" height="1.55" fill="#50d065"/><rect x="522.8" y="341.39" width="1.57" height="1.55" fill="#50d193"/><rect x="524.32" y="341.39" width="1.57" height="1.55" fill="#4fd2b0"/><rect x="525.84" y="341.39" width="1.57" height="1.55" fill="#4dd4d0"/><rect x="527.36" y="341.39" width="1.57" height="1.55" fill="#50d18f"/><rect x="528.88" y="341.39" width="1.57" height="1.55" fill="#50d061"/><rect x="530.4" y="341.39" width="1.57" height="1.55" fill="#50d059"/><rect x="531.92" y="341.39" width="1.57" height="1.55" fill="#50d075"/><rect x="533.44" y="341.39" width="1.57" height="1.55" fill="#50d074"/><rect x="534.96" y="341.39" width="1.57" height="1.55" fill="#50d18a"/><rect x="536.48" y="341.39" width="1.57" height="1.55" fill="#50d05a"/><rect x="522.8" y="342.89" width="1.57" height="1.55" fill="#50d1a7"/><rect x="524.32" y="342.89" width="1.57" height="1.55" fill="#4ed3c2"/><rect x="525.84" y="342.89" width="1.57" height="1.55" fill="#4ed3b8"/><rect x="527.36" y="342.89" width="1.57" height="1.55" fill="#50d195"/><rect x="528.88" y="342.89" width="1.57" height="1.55" fill="#50d185"/><rect x="530.4" y="342.89" width="1.57" height="1.55" fill="#50d186"/><rect x="531.92" y="342.89" width="1.57" height="1.55" fill="#50d076"/><rect x="533.44" y="342.89" width="1.57" height="1.55" fill="#50d07f"/><rect x="534.96" y="342.89" width="1.57" height="1.55" fill="#4fd2b0"/><rect x="536.48" y="342.89" width="1.57" height="1.55" fill="#50d07c"/><rect x="522.8" y="344.4" width="1.57" height="1.55" fill="#4fd2af"/><rect x="524.32" y="344.4" width="1.57" height="1.55" fill="#4dd4cc"/><rect x="525.84" y="344.4" width="1.57" height="1.55" fill="#4fd2b0"/><rect x="527.36" y="344.4" width="1.57" height="1.55" fill="#4fd2b5"/><rect x="528.88" y="344.4" width="1.57" height="1.55" fill="#50d076"/><rect x="530.4" y="344.4" width="1.57" height="1.55" fill="#50d18f"/><rect x="531.92" y="344.4" width="1.57" height="1.55" fill="#50d1a5"/><rect x="533.44" y="344.4" width="1.57" height="1.55" fill="#50d198"/><rect x="534.96" y="344.4" width="1.57" height="1.55" fill="#4ed3bf"/><rect x="536.48" y="344.4" width="1.57" height="1.55" fill="#4ed3bc"/></g>
</g>
<defs><linearGradient id="jet" x1="0" y1="0" x2="0" y2="1"><stop offset="0.00" stop-color="rgb(230, 45, 30)"/><stop offset="0.10" stop-color="rgb(225, 110, 45)"/><stop offset="0.26" stop-color="rgb(225, 225, 60)"/><stop offset="0.39" stop-color="rgb(140, 215, 40)"/><stop offset="0.51" stop-color="rgb(60, 205, 40)"/><stop offset="0.62" stop-color="rgb(60, 210, 140)"/><stop offset="0.72" stop-color="rgb(70, 225, 240)"/><stop offset="0.85" stop-color="rgb(60, 120, 240)"/><stop offset="0.98" stop-color="rgb(30, 30, 235)"/><stop offset="1.00" stop-color="rgb(30, 30, 235)"/></linearGradient></defs>
<rect x="135.7" y="244.3" width="3.6" height="118.5" fill="url(#jet)"/>
<text x="133.9" y="247.7" font-size="6.2" text-anchor="end">0.752910</text>
<text x="133.9" y="262.09" font-size="6.2" text-anchor="end">0.654735</text>
<text x="133.9" y="276.48" font-size="6.2" text-anchor="end">0.556559</text>
<text x="133.9" y="290.86" font-size="6.2" text-anchor="end">0.458384</text>
<text x="133.9" y="305.25" font-size="6.2" text-anchor="end">0.360208</text>
<text x="133.9" y="319.64" font-size="6.2" text-anchor="end">0.262032</text>
<text x="133.9" y="334.03" font-size="6.2" text-anchor="end">0.163857</text>
<text x="133.9" y="348.41" font-size="6.2" text-anchor="end">0.065681</text>
<text x="133.9" y="362.8" font-size="6.2" text-anchor="end">-0.032496</text>
<text x="130.5" y="234.8" font-size="10.5" font-style="italic" font-weight="normal">ε<tspan font-size="6.5" dy="1.6">Y</tspan></text>
<rect x="250.9" y="245.2" width="3.6" height="107.6" fill="url(#jet)"/>
<text x="249.1" y="248.6" font-size="6.2" text-anchor="end">2.719527</text>
<text x="249.1" y="261.62" font-size="6.2" text-anchor="end">20514963</text>
<text x="249.1" y="274.65" font-size="6.2" text-anchor="end">2.310379</text>
<text x="249.1" y="287.68" font-size="6.2" text-anchor="end">2.105805</text>
<text x="249.1" y="300.7" font-size="6.2" text-anchor="end">1.901231</text>
<text x="249.1" y="313.73" font-size="6.2" text-anchor="end">1.696657</text>
<text x="249.1" y="326.75" font-size="6.2" text-anchor="end">1.492083</text>
<text x="249.1" y="339.78" font-size="6.2" text-anchor="end">1.287509</text>
<text x="249.1" y="352.8" font-size="6.2" text-anchor="end">1.082935</text>
<text x="245.7" y="234.8" font-size="10.5" font-style="italic" font-weight="normal">ε<tspan font-size="6.5" dy="1.6">Y</tspan></text>
<rect x="365.7" y="244.3" width="3.6" height="108.5" fill="url(#jet)"/>
<text x="363.9" y="247.7" font-size="6.2" text-anchor="end">3.024007</text>
<text x="363.9" y="260.84" font-size="6.2" text-anchor="end">2.791590</text>
<text x="363.9" y="273.98" font-size="6.2" text-anchor="end">20559173</text>
<text x="363.9" y="287.11" font-size="6.2" text-anchor="end">2.326755</text>
<text x="363.9" y="300.25" font-size="6.2" text-anchor="end">2.094338</text>
<text x="363.9" y="313.39" font-size="6.2" text-anchor="end">1.861921</text>
<text x="363.9" y="326.53" font-size="6.2" text-anchor="end">1.629504</text>
<text x="363.9" y="339.66" font-size="6.2" text-anchor="end">1.397087</text>
<text x="363.9" y="352.8" font-size="6.2" text-anchor="end">1.164669</text>
<text x="360.5" y="234.8" font-size="10.5" font-style="italic" font-weight="normal">ε<tspan font-size="6.5" dy="1.6">Y</tspan></text>
<rect x="478.7" y="243.8" width="3.6" height="109" fill="url(#jet)"/>
<text x="476.9" y="247.2" font-size="6.2" text-anchor="end">8.124408</text>
<text x="476.9" y="260.4" font-size="6.2" text-anchor="end">7.776671</text>
<text x="476.9" y="273.6" font-size="6.2" text-anchor="end">7.428935</text>
<text x="476.9" y="286.8" font-size="6.2" text-anchor="end">7.081199</text>
<text x="476.9" y="300" font-size="6.2" text-anchor="end">6.733462</text>
<text x="476.9" y="313.2" font-size="6.2" text-anchor="end">6.385726</text>
<text x="476.9" y="326.4" font-size="6.2" text-anchor="end">6.037989</text>
<text x="476.9" y="339.6" font-size="6.2" text-anchor="end">5.690253</text>
<text x="476.9" y="352.8" font-size="6.2" text-anchor="end">5.342516</text>
<text x="473.5" y="234.8" font-size="10.5" font-style="italic" font-weight="normal">ε<tspan font-size="6.5" dy="1.6">Y</tspan></text>
<rect x="591.9" y="245" width="3.6" height="107.8" fill="url(#jet)"/>
<text x="590.1" y="248.4" font-size="6.2" text-anchor="end">15.391294</text>
<text x="590.1" y="261.45" font-size="6.2" text-anchor="end">14.212235</text>
<text x="590.1" y="274.5" font-size="6.2" text-anchor="end">13.033176</text>
<text x="590.1" y="287.55" font-size="6.2" text-anchor="end">11.854117</text>
<text x="590.1" y="300.6" font-size="6.2" text-anchor="end">10.675058</text>
<text x="590.1" y="313.65" font-size="6.2" text-anchor="end">9.495999</text>
<text x="590.1" y="326.7" font-size="6.2" text-anchor="end">8.316940</text>
<text x="590.1" y="339.75" font-size="6.2" text-anchor="end">7.137881</text>
<text x="590.1" y="352.8" font-size="6.2" text-anchor="end">5.95882</text>
<text x="586.7" y="234.8" font-size="10.5" font-style="italic" font-weight="normal">ε<tspan font-size="6.5" dy="1.6">Y</tspan></text>
<text x="56.3" y="216.9" font-size="15.2">10 s</text>
<text x="175.3" y="216.9" font-size="15.2">60 s</text>
<text x="292.1" y="216.9" font-size="15.2">110 s</text>
<text x="400.5" y="216.9" font-size="15.2">150 s</text>
<text x="517.2" y="216.9" font-size="15.2">180 s</text>
<rect x="14.5" y="206.6" width="15" height="14.9" fill="none" stroke="#000" stroke-width="1"/>
<text x="22" y="218.8" font-size="14" text-anchor="middle">c</text>
</svg>
</body></html>
